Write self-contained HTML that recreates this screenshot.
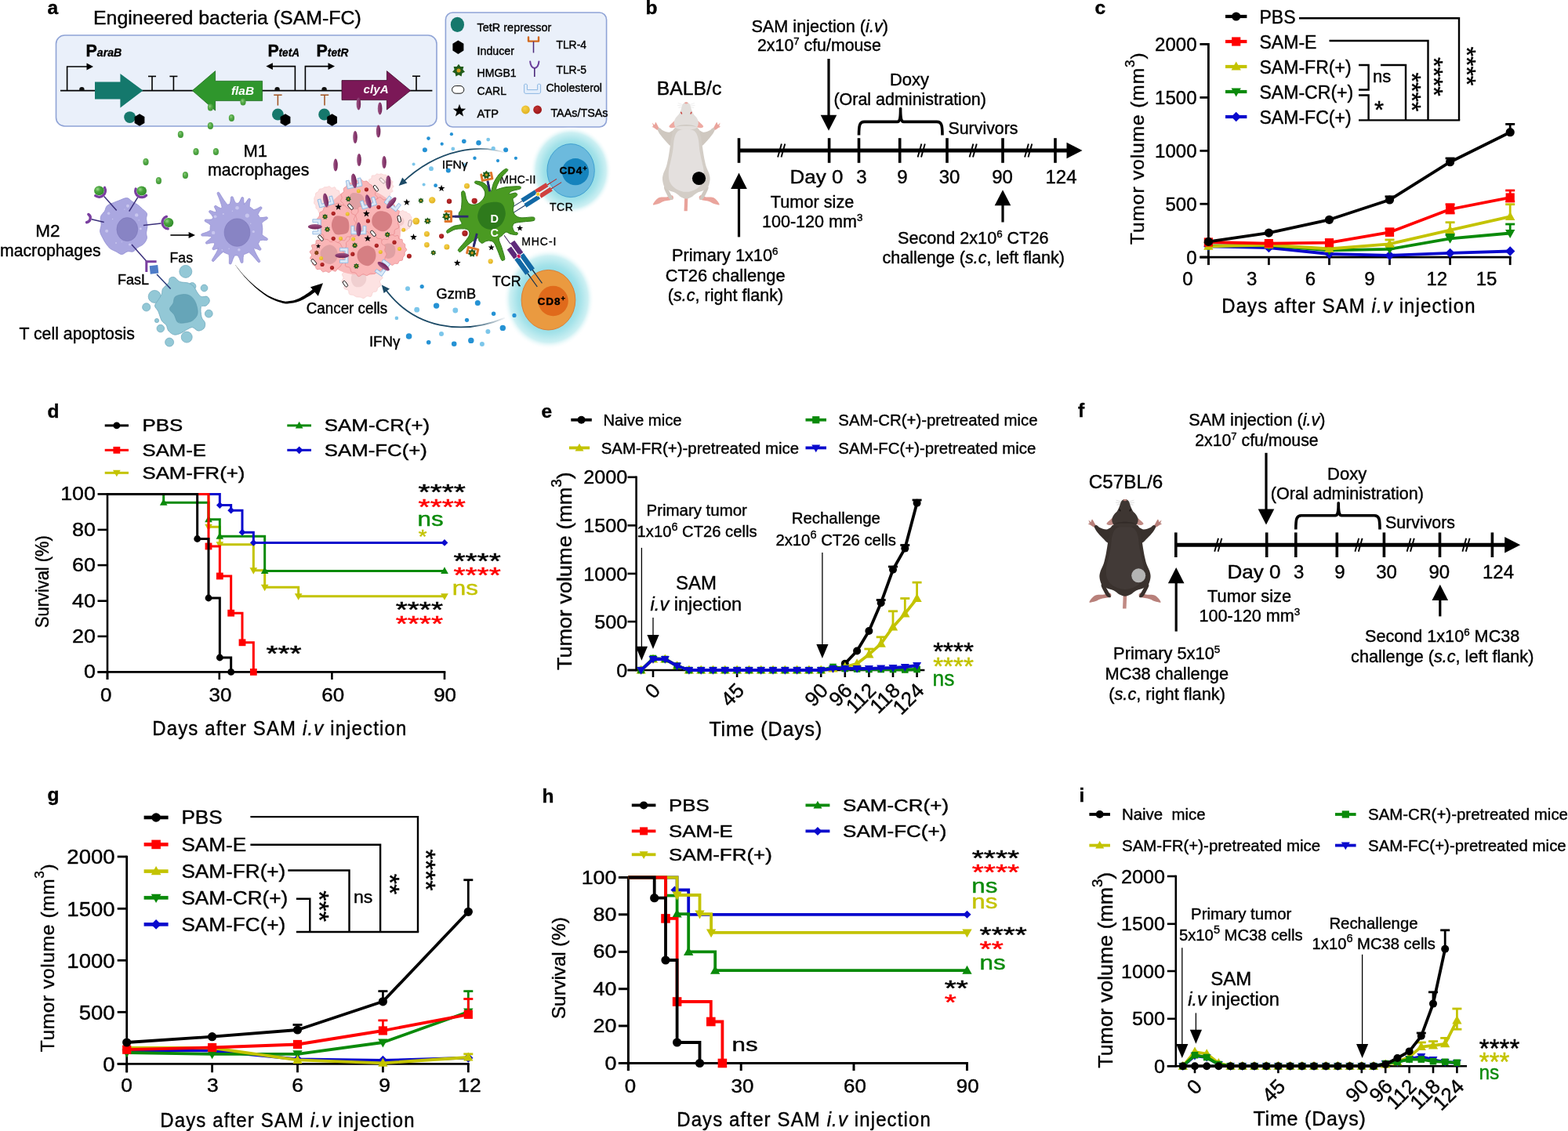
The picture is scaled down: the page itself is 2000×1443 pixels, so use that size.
<!DOCTYPE html>
<html lang="en"><head><meta charset="utf-8"><title>Figure</title>
<style>
html,body{margin:0;padding:0;background:#fff;}
body{width:2000px;height:1443px;overflow:hidden;}
svg{display:block;font-family:"Liberation Sans",sans-serif;}
svg text{white-space:pre;}
</style></head><body>
<svg width="2000" height="1443" viewBox="0 0 2000 1443">
<rect width="2000" height="1443" fill="#fff"/>
<g id="panel_a">
<defs>
<radialGradient id="gGreen" cx="40%" cy="35%" r="65%"><stop offset="0" stop-color="#8fce7e"/><stop offset="0.45" stop-color="#55aa48"/><stop offset="1" stop-color="#3f9636"/></radialGradient>
<radialGradient id="gGreen2" cx="35%" cy="35%" r="70%"><stop offset="0" stop-color="#9ad88a"/><stop offset="0.4" stop-color="#4aa43e"/><stop offset="1" stop-color="#2f8a2a"/></radialGradient>
<linearGradient id="gPurp" x1="0" y1="0" x2="1" y2="0"><stop offset="0" stop-color="#9c5a86"/><stop offset="0.5" stop-color="#8a3a70"/><stop offset="1" stop-color="#6e2456"/></linearGradient>
<radialGradient id="glow4" cx="50%" cy="50%" r="50%"><stop offset="0.5" stop-color="#8bdae4"/><stop offset="0.68" stop-color="#a4e2e9"/><stop offset="0.86" stop-color="#cdf0f3"/><stop offset="1" stop-color="#ffffff" stop-opacity="0"/></radialGradient>
<radialGradient id="gYel" cx="40%" cy="35%" r="65%"><stop offset="0" stop-color="#f6d24a"/><stop offset="1" stop-color="#e0b120"/></radialGradient>
<radialGradient id="gRed" cx="40%" cy="35%" r="65%"><stop offset="0" stop-color="#c03030"/><stop offset="1" stop-color="#9a1618"/></radialGradient>
<linearGradient id="arcU" gradientUnits="userSpaceOnUse" x1="646" y1="195" x2="600" y2="190"><stop offset="0" stop-color="#1c4a66" stop-opacity="0"/><stop offset="1" stop-color="#1c4a66"/></linearGradient>
<linearGradient id="arcL" gradientUnits="userSpaceOnUse" x1="646" y1="405" x2="600" y2="417"><stop offset="0" stop-color="#1c4a66" stop-opacity="0"/><stop offset="1" stop-color="#1c4a66"/></linearGradient>
</defs>
<text transform="translate(60.50 18.40)" font-size="24.5" font-weight="bold" stroke="#000" stroke-width="0.4">a</text>
<text transform="translate(119.00 31.20) scale(1.0210 1)" font-size="24.4" stroke="#000" stroke-width="0.4">Engineered bacteria (SAM-FC)</text>
<rect x="71.5" y="45" width="485.5" height="116" rx="11" fill="#eaf0fa" stroke="#8fa3d6" stroke-width="1.6"/>
<rect x="568.4" y="16" width="205.2" height="146" rx="9" fill="#eaf0fa" stroke="#8fa3d6" stroke-width="1.6"/>
<line x1="77.00" y1="115.60" x2="551.40" y2="115.60" stroke="#000" stroke-width="1.8" />
<polyline points="85.60,115.60 85.60,85.00 113.00,85.00" fill="none" stroke="#000" stroke-width="1.6" stroke-linejoin="miter" />
<polygon points="119.00,85.00 110.50,80.60 110.50,89.40" fill="#000" />
<path d="M101.2,115.6 L101.2,114.1 A3.2,3.2 0 0 1 107.6,114.1 L107.6,115.6 Z" fill="#111" />
<text transform="translate(109.60 72.00)" font-size="21.5" font-weight="bold" stroke="#000" stroke-width="0.4">P</text>
<text transform="translate(123.8 72.0) scale(0.9739 1)" font-size="14.5" font-weight="bold" font-style="italic" stroke="#000" stroke-width="0.3">araB</text>
<polygon points="121.00,104.40 153.40,104.40 153.40,94.00 182.40,115.60 153.40,137.40 153.40,126.60 121.00,126.60" fill="#14786c" />
<line x1="194.00" y1="115.60" x2="194.00" y2="97.40" stroke="#000" stroke-width="1.6" />
<line x1="189.00" y1="97.40" x2="199.00" y2="97.40" stroke="#000" stroke-width="1.6" />
<line x1="221.40" y1="115.60" x2="221.40" y2="97.40" stroke="#000" stroke-width="1.6" />
<line x1="216.40" y1="97.40" x2="226.40" y2="97.40" stroke="#000" stroke-width="1.6" />
<polygon points="245.4,115.6 274.6,90.6 274.6,103.4 334.6,103.4 334.6,128.6 274.6,128.6 274.6,141" fill="#2f962c" stroke="#1f6a1f" stroke-width="0.8"/>
<text x="295" y="120.6" font-size="15.5" font-weight="bold" font-style="italic" fill="#fff" textLength="29" lengthAdjust="spacingAndGlyphs">flaB</text>
<path d="M350.4,115.6 L350.4,114.1 A3.2,3.2 0 0 1 356.8,114.1 L356.8,115.6 Z" fill="#111" />
<text transform="translate(341.40 72.40)" font-size="21.5" font-weight="bold" stroke="#000" stroke-width="0.4">P</text>
<text transform="translate(355.6 72.4) scale(0.9364 1)" font-size="14.5" font-weight="bold" font-style="italic" stroke="#000" stroke-width="0.3">tetA</text>
<polyline points="376.40,115.60 376.40,84.60 345.40,84.60" fill="none" stroke="#000" stroke-width="1.6" stroke-linejoin="miter" />
<polygon points="339.40,84.60 347.90,80.20 347.90,89.00" fill="#000" />
<polyline points="389.40,115.60 389.40,84.60 421.00,84.60" fill="none" stroke="#000" stroke-width="1.6" stroke-linejoin="miter" />
<polygon points="427.00,84.60 418.50,80.20 418.50,89.00" fill="#000" />
<text transform="translate(403.60 72.40)" font-size="21.5" font-weight="bold" stroke="#000" stroke-width="0.4">P</text>
<text transform="translate(417.8 72.4) scale(0.9506 1)" font-size="14.5" font-weight="bold" font-style="italic" stroke="#000" stroke-width="0.3">tetR</text>
<path d="M410.4,115.6 L410.4,114.1 A3.2,3.2 0 0 1 416.8,114.1 L416.8,115.6 Z" fill="#111" />
<polygon points="436,102.6 493.4,102.6 493.4,90.6 523.6,115.6 493.4,140 493.4,127.6 436,127.6" fill="#7b1857" stroke="#3f0c2c" stroke-width="0.8"/>
<text x="463.6" y="119.4" font-size="15.5" font-weight="bold" font-style="italic" fill="#fff" textLength="32" lengthAdjust="spacingAndGlyphs">clyA</text>
<line x1="531.00" y1="115.60" x2="531.00" y2="97.20" stroke="#000" stroke-width="1.6" />
<line x1="526.00" y1="97.20" x2="536.00" y2="97.20" stroke="#000" stroke-width="1.6" />
<line x1="354.40" y1="121.20" x2="354.40" y2="134.60" stroke="#a0521e" stroke-width="1.5" />
<line x1="349.20" y1="121.20" x2="359.60" y2="121.20" stroke="#a0521e" stroke-width="1.5" />
<line x1="414.00" y1="121.20" x2="414.00" y2="134.60" stroke="#a0521e" stroke-width="1.5" />
<line x1="408.80" y1="121.20" x2="419.20" y2="121.20" stroke="#a0521e" stroke-width="1.5" />
<circle cx="165.60" cy="149.60" r="7.4" fill="#16786c" />
<polygon points="178.0,145.2 184.4,149.1 184.4,156.9 178.0,160.8 171.6,156.9 171.6,149.1" fill="#000"/>
<circle cx="354.40" cy="146.00" r="7.4" fill="#16786c" />
<polygon points="364.0,145.2 370.4,149.1 370.4,156.9 364.0,160.8 357.6,156.9 357.6,149.1" fill="#000"/>
<circle cx="413.60" cy="146.00" r="7.4" fill="#16786c" />
<polygon points="423.6,145.2 430.0,149.1 430.0,156.9 423.6,160.8 417.2,156.9 417.2,149.1" fill="#000"/>
<ellipse cx="583.4" cy="31.4" rx="8.6" ry="9.6" fill="#16786c"/>
<text transform="translate(608.60 40.00) scale(0.9902 1)" font-size="14.6" stroke="#000" stroke-width="0.4">TetR repressor</text>
<polygon points="584.4,51.4 591.4,55.8 591.4,64.6 584.4,69.0 577.4,64.6 577.4,55.8" fill="#000"/>
<text transform="translate(608.60 69.60) scale(0.9733 1)" font-size="14.6" stroke="#000" stroke-width="0.4">Inducer</text>
<path d="M674,47.4 L674,52.6 L687,52.6 L687,47.4" fill="none" stroke="#d2691e" stroke-width="2.4" stroke-linejoin="round" stroke-linecap="round"/>
<line x1="680.50" y1="53.00" x2="680.50" y2="67.40" stroke="#4b2a7a" stroke-width="1.5" />
<text transform="translate(709.40 62.40) scale(0.9516 1)" font-size="14.6" stroke="#000" stroke-width="0.4">TLR-4</text>
<polygon points="585.0,81.8 587.4,85.0 591.4,84.9 590.4,88.8 593.0,91.8 589.4,93.5 588.6,97.4 585.0,95.6 581.4,97.4 580.6,93.5 577.0,91.8 579.6,88.8 578.6,84.9 582.6,85.0" fill="#215c1a"/>
<circle cx="585.0" cy="90.0" r="2.5" fill="#d29a1c"/>
<text transform="translate(608.60 98.00) scale(0.9630 1)" font-size="14.6" stroke="#000" stroke-width="0.4">HMGB1</text>
<path d="M676.2,78.4 C676.6,84 678.6,86.4 681.8,87 C685,86.4 687,84 687.4,78.4" fill="none" stroke="#6a3d9a" stroke-width="2.0" stroke-linecap="round"/>
<line x1="681.80" y1="87.00" x2="681.80" y2="98.00" stroke="#4b2a7a" stroke-width="1.6" />
<text transform="translate(709.40 94.40) scale(0.9516 1)" font-size="14.6" stroke="#000" stroke-width="0.4">TLR-5</text>
<rect x="576.6" y="109.6" width="15.2" height="9.6" rx="4.8" fill="#fff" stroke="#111" stroke-width="1"/>
<text transform="translate(608.60 121.40) scale(0.9603 1)" font-size="14.6" stroke="#000" stroke-width="0.4">CARL</text>
<path d="M668.6,108 C668.6,107 672.4,107 672.4,108 L672.4,114.6 L685.6,114.6 L685.6,108 C685.6,107 689.6,107 689.6,108 L689.6,117 C689.6,118.6 688.6,119.4 687.4,119.4 L670.8,119.4 C669.4,119.4 668.6,118.6 668.6,117 Z" fill="#e3eefb" stroke="#8db7e2" stroke-width="1" />
<text transform="translate(696.40 116.60) scale(0.9695 1)" font-size="14.6" stroke="#000" stroke-width="0.4">Cholesterol</text>
<polygon points="586.0,132.8 588.1,138.5 594.2,138.7 589.4,142.5 591.1,148.4 586.0,145.0 580.9,148.4 582.6,142.5 577.8,138.7 583.9,138.5" fill="#000"/>
<text transform="translate(608.60 150.00) scale(1.0033 1)" font-size="14.6" stroke="#000" stroke-width="0.4">ATP</text>
<circle cx="670.4" cy="140" r="5.4" fill="url(#gYel)"/><circle cx="685.6" cy="140" r="5.4" fill="url(#gRed)"/>
<text transform="translate(702.40 149.00) scale(0.9844 1)" font-size="14.6" stroke="#000" stroke-width="0.4">TAAs/TSAs</text>
<ellipse cx="310.0" cy="130.0" rx="3.6" ry="4.5" fill="url(#gGreen)"/>
<ellipse cx="268.4" cy="137.0" rx="3.6" ry="4.5" fill="url(#gGreen)"/>
<ellipse cx="295.4" cy="150.4" rx="3.6" ry="4.5" fill="url(#gGreen)"/>
<ellipse cx="268.4" cy="160.6" rx="3.6" ry="4.5" fill="url(#gGreen)"/>
<ellipse cx="230.4" cy="171.4" rx="3.6" ry="4.5" fill="url(#gGreen)"/>
<ellipse cx="250.0" cy="193.6" rx="3.6" ry="4.5" fill="url(#gGreen)"/>
<ellipse cx="275.4" cy="193.6" rx="3.6" ry="4.5" fill="url(#gGreen)"/>
<ellipse cx="186.0" cy="206.4" rx="3.6" ry="4.5" fill="url(#gGreen)"/>
<ellipse cx="236.4" cy="223.6" rx="3.6" ry="4.5" fill="url(#gGreen)"/>
<ellipse cx="202.4" cy="230.6" rx="3.6" ry="4.5" fill="url(#gGreen)"/>
<ellipse cx="457.4" cy="132.4" rx="2.8" ry="8" fill="url(#gPurp)" transform="rotate(0 457.4 132.4)"/>
<ellipse cx="484.6" cy="138.4" rx="2.8" ry="8" fill="url(#gPurp)" transform="rotate(0 484.6 138.4)"/>
<ellipse cx="453.0" cy="175.0" rx="2.8" ry="8" fill="url(#gPurp)" transform="rotate(0 453.0 175.0)"/>
<ellipse cx="482.6" cy="167.6" rx="2.8" ry="8" fill="url(#gPurp)" transform="rotate(0 482.6 167.6)"/>
<ellipse cx="428.0" cy="210.6" rx="2.8" ry="8" fill="url(#gPurp)" transform="rotate(0 428.0 210.6)"/>
<ellipse cx="458.0" cy="204.0" rx="2.8" ry="8" fill="url(#gPurp)" transform="rotate(0 458.0 204.0)"/>
<ellipse cx="490.0" cy="207.0" rx="2.8" ry="8" fill="url(#gPurp)" transform="rotate(0 490.0 207.0)"/>
<text transform="translate(310.42 199.60)" font-size="22" stroke="#000" stroke-width="0.4">M1</text>
<text transform="translate(265.00 224.00) scale(0.9707 1)" font-size="22" stroke="#000" stroke-width="0.4">macrophages</text>
<text transform="translate(45.37 302.00)" font-size="22.5" stroke="#000" stroke-width="0.4">M2</text>
<text transform="translate(0.00 327.00) scale(0.9647 1)" font-size="22" stroke="#000" stroke-width="0.4">macrophages</text>
<text transform="translate(216.60 335.00) scale(0.9282 1)" font-size="19" stroke="#000" stroke-width="0.4">Fas</text>
<text transform="translate(150.00 363.00) scale(0.9470 1)" font-size="19" stroke="#000" stroke-width="0.4">FasL</text>
<text transform="translate(24.40 433.00) scale(0.9907 1)" font-size="21.5" stroke="#000" stroke-width="0.4">T cell apoptosis</text>
<path d="M161.8,252.6 C164.7,252.7 166.1,255.5 168.4,256.9 C170.7,258.4 173.5,259.7 175.7,261.3 C177.8,262.9 179.5,264.6 181.5,266.4 C183.4,268.2 186.4,270.0 187.3,272.2 C188.1,274.4 186.4,276.8 186.6,279.5 C186.7,282.1 188.0,285.3 188.0,288.2 C188.0,291.1 186.7,294.3 186.6,296.9 C186.4,299.6 187.9,301.8 187.3,304.2 C186.7,306.6 184.9,309.5 182.9,311.5 C181.0,313.4 177.8,314.3 175.7,315.8 C173.5,317.4 172.0,320.1 169.8,320.9 C167.7,321.8 165.0,320.3 162.6,320.9 C160.1,321.5 157.7,324.6 155.3,324.6 C152.9,324.6 150.4,322.1 148.0,320.9 C145.6,319.7 142.8,318.9 140.7,317.3 C138.7,315.7 137.2,313.7 135.6,311.5 C134.1,309.3 132.6,306.9 131.3,304.2 C129.9,301.5 128.0,298.4 127.6,295.5 C127.3,292.6 129.0,289.9 129.1,286.7 C129.2,283.6 127.6,279.5 128.4,276.6 C129.1,273.6 132.1,271.6 133.5,269.3 C134.8,267.0 134.7,264.4 136.4,262.7 C138.1,261.0 141.2,260.2 143.6,259.1 C146.1,258.0 147.9,257.3 150.9,256.2 C154.0,255.1 158.9,252.4 161.8,252.6Z" fill="#aaa7e0" stroke="#918dd2" stroke-width="0.8" />
<circle cx="163.0" cy="262.7" r="2.0" fill="#c8c6ee"/>
<circle cx="138.6" cy="272.2" r="1.7" fill="#c8c6ee"/>
<circle cx="174.2" cy="274.4" r="2.2" fill="#c8c6ee"/>
<circle cx="136.1" cy="294.7" r="2.0" fill="#c8c6ee"/>
<circle cx="179.3" cy="291.8" r="1.5" fill="#c8c6ee"/>
<circle cx="165.5" cy="311.9" r="1.5" fill="#c8c6ee"/>
<circle cx="143.6" cy="279.5" r="0.7" fill="#c8c6ee"/>
<circle cx="177.1" cy="280.9" r="0.7" fill="#c8c6ee"/>
<circle cx="148.0" cy="310.0" r="0.9" fill="#c8c6ee"/>
<circle cx="155.3" cy="308.6" r="0.6" fill="#c8c6ee"/>
<circle cx="158.9" cy="267.1" r="0.7" fill="#c8c6ee"/>
<ellipse cx="162.3" cy="292.6" rx="13.4" ry="15" fill="#8884c4" stroke="#7a76b8" stroke-width="0.6"/>
<line x1="148.70" y1="268.60" x2="132.70" y2="250.40" stroke="#3a2f7a" stroke-width="1.5" />
<path d="M133.4,239.4 A8.0,8.0 0 0 1 121.7,249.7" fill="none" stroke="#7a3fa0" stroke-width="3.4" stroke-linecap="round"/>
<ellipse cx="126.4" cy="243.2" rx="6.3" ry="6" fill="url(#gGreen2)"/>
<line x1="164.70" y1="269.60" x2="175.70" y2="251.80" stroke="#3a2f7a" stroke-width="1.5" />
<path d="M186.5,249.2 A8.0,8.0 0 0 1 173.2,241.0" fill="none" stroke="#7a3fa0" stroke-width="3.4" stroke-linecap="round"/>
<ellipse cx="180.7" cy="243.6" rx="6.3" ry="6" fill="url(#gGreen2)"/>
<line x1="132.70" y1="283.50" x2="116.70" y2="279.80" stroke="#3a2f7a" stroke-width="1.5" />
<path d="M112.8,273.5 A5.6,5.6 0 0 1 110.5,283.7" fill="none" stroke="#7a3fa0" stroke-width="3.4" stroke-linecap="round"/>
<line x1="182.90" y1="287.50" x2="205.50" y2="285.00" stroke="#3a2f7a" stroke-width="1.5" />
<path d="M214.2,291.9 A8.0,8.0 0 0 1 212.4,276.4" fill="none" stroke="#7a3fa0" stroke-width="3.4" stroke-linecap="round"/>
<ellipse cx="215.0" cy="283.9" rx="6.3" ry="6" fill="url(#gGreen2)"/>
<line x1="168.00" y1="312.00" x2="187.00" y2="333.50" stroke="#3a2f7a" stroke-width="1.5" />
<path d="M199.6,333.8 L186.8,333.8 L186.8,347" fill="none" stroke="#7a3fa0" stroke-width="3" />
<rect x="191.2" y="338.6" width="10.6" height="10.6" fill="#4f7dc8" transform="rotate(-6 196.5 344)"/>
<line x1="217.40" y1="300.00" x2="241.00" y2="300.00" stroke="#000" stroke-width="1.6" />
<polygon points="249.00,300.00 240.60,296.00 240.60,304.00" fill="#000" />
<path d="M283.2,264.6 Q281.9,258.5 277.1,247.3 A1.50,1.50 0 0 1 279.8,246.0 Q285.9,256.5 290.1,261.2 A33.4,33.4 0 0 1 293.1,260.3 Q294.3,257.1 294.4,252.1 A1.50,1.50 0 0 1 297.3,251.7 Q298.8,256.5 300.7,259.2 A33.4,33.4 0 0 1 304.1,259.3 Q306.1,256.9 307.7,252.8 A1.50,1.50 0 0 1 310.7,253.3 Q310.6,257.8 311.6,260.8 A33.4,33.4 0 0 1 311.2,260.6 Q313.8,258.5 316.5,254.1 A1.50,1.50 0 0 1 319.3,255.3 Q317.9,260.3 318.2,263.7 A33.4,33.4 0 0 1 323.9,267.8 Q327.3,267.0 331.7,264.1 A1.50,1.50 0 0 1 333.7,266.3 Q330.2,270.3 329.0,273.6 A33.4,33.4 0 0 1 331.3,277.4 Q334.6,277.9 339.6,276.8 A1.50,1.50 0 0 1 340.6,279.6 Q336.2,282.1 333.9,284.6 A33.4,33.4 0 0 1 334.2,299.3 Q336.4,301.6 340.6,303.8 A1.50,1.50 0 0 1 339.6,306.6 Q335.0,305.9 331.8,306.6 A33.4,33.4 0 0 1 329.4,310.9 Q330.3,313.7 332.6,316.7 A1.50,1.50 0 0 1 330.7,319.0 Q327.4,317.2 324.5,316.8 A33.4,33.4 0 0 1 323.8,317.5 Q325.8,323.0 331.7,332.7 A1.50,1.50 0 0 1 329.3,334.4 Q322.1,325.6 317.5,321.9 A33.4,33.4 0 0 1 310.8,324.7 Q309.8,328.1 310.0,333.8 A1.50,1.50 0 0 1 307.0,334.3 Q305.4,328.9 303.3,326.0 A33.4,33.4 0 0 1 299.4,325.9 Q297.2,329.3 295.3,335.8 A1.50,1.50 0 0 1 292.3,335.2 Q292.7,328.5 291.9,324.6 A33.4,33.4 0 0 1 284.6,321.4 Q280.1,324.9 273.0,333.0 A1.50,1.50 0 0 1 270.6,331.2 Q276.5,322.2 278.5,316.8 A33.4,33.4 0 0 1 278.7,317.0 Q276.0,317.2 273.1,318.6 A1.50,1.50 0 0 1 271.2,316.4 Q273.1,313.8 273.7,311.1 A33.4,33.4 0 0 1 272.8,309.7 Q269.3,309.6 264.2,311.1 A1.50,1.50 0 0 1 263.0,308.4 Q267.5,305.5 269.7,302.8 A33.4,33.4 0 0 1 269.4,301.7 Q265.2,300.8 258.1,301.1 A1.50,1.50 0 0 1 257.6,298.2 Q264.5,296.3 268.1,294.1 A33.4,33.4 0 0 1 268.5,287.2 Q266.2,284.9 261.8,282.8 A1.50,1.50 0 0 1 262.6,280.0 Q267.4,280.5 270.6,279.8 A33.4,33.4 0 0 1 271.8,277.2 Q270.4,274.3 267.0,271.1 A1.50,1.50 0 0 1 268.7,268.7 Q272.9,270.6 276.1,270.9 A33.4,33.4 0 0 1 276.1,270.9 Q275.7,268.0 273.8,264.9 A1.50,1.50 0 0 1 276.0,262.8 Q279.0,265.0 281.8,265.7 A33.4,33.4 0 0 1 283.2,264.6Z" fill="#aaa7e0" stroke="#9792d4" stroke-width="0.8" stroke-linejoin="round"/>
<circle cx="302.5" cy="265.2" r="2.3" fill="#c8c6ee"/>
<circle cx="315.3" cy="275.1" r="2.6" fill="#c8c6ee"/>
<circle cx="274.6" cy="276.3" r="1.9" fill="#c8c6ee"/>
<circle cx="272.1" cy="296.9" r="2.2" fill="#c8c6ee"/>
<circle cx="323.3" cy="295.5" r="1.6" fill="#c8c6ee"/>
<circle cx="304.9" cy="318.8" r="1.7" fill="#c8c6ee"/>
<circle cx="284.8" cy="272.9" r="1.0" fill="#c8c6ee"/>
<circle cx="296.4" cy="269.3" r="0.7" fill="#c8c6ee"/>
<circle cx="283.3" cy="318.8" r="0.9" fill="#c8c6ee"/>
<circle cx="292.1" cy="317.3" r="0.7" fill="#c8c6ee"/>
<circle cx="319.7" cy="285.3" r="0.7" fill="#c8c6ee"/>
<ellipse cx="302.5" cy="296.6" rx="16.4" ry="17.7" fill="#8884c4" stroke="#7a76b8" stroke-width="0.6"/>
<circle cx="236.8" cy="346.4" r="8.0" fill="#93c8d6" stroke="#6ea8bc" stroke-width="0.7"/>
<circle cx="197.2" cy="378.4" r="8.0" fill="#93c8d6" stroke="#6ea8bc" stroke-width="0.7"/>
<circle cx="186.7" cy="391.9" r="5.1" fill="#93c8d6" stroke="#6ea8bc" stroke-width="0.7"/>
<circle cx="260.5" cy="367.5" r="4.4" fill="#93c8d6" stroke="#6ea8bc" stroke-width="0.7"/>
<circle cx="245.2" cy="365.3" r="4.7" fill="#93c8d6" stroke="#6ea8bc" stroke-width="0.7"/>
<circle cx="266.3" cy="400.2" r="4.9" fill="#93c8d6" stroke="#6ea8bc" stroke-width="0.7"/>
<circle cx="200.0" cy="409.0" r="2.6" fill="#93c8d6" stroke="#6ea8bc" stroke-width="0.7"/>
<circle cx="204.8" cy="419.1" r="4.8" fill="#93c8d6" stroke="#6ea8bc" stroke-width="0.7"/>
<circle cx="238.2" cy="430.1" r="7.0" fill="#93c8d6" stroke="#6ea8bc" stroke-width="0.7"/>
<circle cx="216.1" cy="436.6" r="5.5" fill="#93c8d6" stroke="#6ea8bc" stroke-width="0.7"/>
<path d="M222.2,353.7 C224.4,354.4 226.6,358.3 229.5,359.5 C232.4,360.7 236.8,360.0 239.7,360.9 C242.6,361.9 245.0,363.4 247.0,365.3 C248.9,367.3 249.7,370.4 251.3,372.6 C252.9,374.8 254.2,377.4 256.4,378.4 C258.6,379.4 262.6,377.4 264.4,378.4 C266.2,379.4 267.6,382.3 267.3,384.2 C267.1,386.2 264.8,388.8 263.0,390.0 C261.1,391.3 257.4,389.1 256.4,391.5 C255.4,393.9 256.3,401.2 257.1,404.6 C258.0,408.0 261.0,409.4 261.5,411.9 C262.0,414.3 261.5,417.4 260.0,419.1 C258.6,420.8 255.2,422.3 252.8,422.1 C250.3,421.8 247.9,417.9 245.5,417.7 C243.1,417.4 240.6,419.4 238.2,420.6 C235.8,421.8 233.6,423.9 230.9,425.0 C228.3,426.1 224.9,427.6 222.2,427.1 C219.5,426.7 216.6,424.1 214.9,422.1 C213.2,420.0 213.5,417.0 212.0,414.8 C210.6,412.6 207.9,411.9 206.2,409.0 C204.5,406.1 203.3,400.5 201.8,397.3 C200.4,394.2 197.5,392.5 197.5,390.0 C197.5,387.6 200.4,385.2 201.8,382.8 C203.3,380.3 205.2,377.9 206.2,375.5 C207.2,373.1 206.2,370.6 207.7,368.2 C209.1,365.8 213.5,363.1 214.9,360.9 C216.4,358.8 215.2,356.3 216.4,355.1 C217.6,353.9 220.0,352.9 222.2,353.7Z" fill="#93c8d6" stroke="#6ea8bc" stroke-width="0.8" />
<path d="M235.3,375.5 C238.7,375.5 241.6,376.5 244.0,378.4 C246.5,380.3 248.5,383.5 249.9,387.1 C251.2,390.8 252.8,396.6 252.0,400.2 C251.3,403.9 248.3,407.0 245.5,409.0 C242.7,410.9 238.5,411.5 235.3,411.9 C232.2,412.2 228.8,412.8 226.6,411.1 C224.4,409.4 223.9,404.5 222.2,401.7 C220.5,398.9 216.6,396.8 216.4,394.4 C216.2,392.0 219.5,389.8 220.8,387.1 C222.0,384.5 221.2,380.3 223.7,378.4 C226.1,376.5 231.9,375.5 235.3,375.5Z" fill="#66a5b8" stroke="#5a98ac" stroke-width="0.6" />
<line x1="200.00" y1="350.00" x2="217.60" y2="368.60" stroke="#2a3a7a" stroke-width="1.5" />
<polygon points="300.30,338.48 301.50,340.04 303.12,342.20 305.05,344.76 307.20,347.55 309.48,350.36 311.77,353.01 314.16,355.58 316.72,358.25 319.41,360.93 322.15,363.58 324.90,366.13 327.59,368.49 330.24,370.70 332.88,372.82 335.53,374.84 338.19,376.72 340.86,378.47 343.54,380.06 346.33,381.51 349.22,382.80 352.11,383.95 354.89,384.94 357.44,385.78 359.66,386.46 361.45,386.96 362.90,387.27 364.18,387.43 365.39,387.45 366.66,387.38 368.16,387.26 369.97,387.09 371.96,386.84 374.07,386.50 376.25,386.06 378.45,385.50 380.61,384.82 382.76,383.97 384.94,382.98 387.10,381.88 389.19,380.74 391.19,379.61 393.07,378.52 394.93,377.38 396.78,376.16 398.54,374.95 400.10,373.83 401.40,372.90 402.35,372.23 399.65,368.57 398.71,369.29 397.45,370.29 395.96,371.45 394.33,372.70 392.63,373.93 390.93,375.08 389.15,376.22 387.25,377.41 385.28,378.59 383.28,379.72 381.31,380.73 379.39,381.58 377.46,382.28 375.46,382.88 373.43,383.38 371.45,383.78 369.57,384.10 367.84,384.34 366.40,384.51 365.28,384.62 364.32,384.64 363.32,384.56 362.05,384.34 360.34,383.94 358.16,383.36 355.63,382.64 352.89,381.78 350.04,380.77 347.19,379.62 344.46,378.34 341.81,376.89 339.14,375.28 336.47,373.51 333.79,371.62 331.10,369.61 328.41,367.51 325.66,365.25 322.86,362.82 320.04,360.27 317.29,357.67 314.67,355.09 312.23,352.59 309.88,350.01 307.55,347.27 305.35,344.54 303.37,342.01 301.72,339.88 300.50,338.32" fill="#000" />
<polygon points="412.00,361.20 396.00,366.20 405.80,377.80" fill="#000" />
<text transform="translate(390.80 400.30) scale(0.9638 1)" font-size="19.5" stroke="#000" stroke-width="0.4">Cancer cells</text>
<g opacity="1.0">
<path d="M436.7,256.0 C436.7,257.1 435.5,258.1 435.3,259.1 C435.1,260.2 435.9,261.6 435.5,262.6 C435.1,263.6 433.7,264.1 433.2,265.1 C432.7,266.1 433.2,268.0 432.4,268.7 C431.7,269.4 429.7,269.0 428.7,269.6 C427.7,270.1 427.4,271.5 426.4,271.9 C425.5,272.4 424.1,271.8 423.1,272.2 C422.1,272.6 421.2,274.0 420.2,274.2 C419.2,274.3 418.0,273.4 416.9,273.3 C415.8,273.1 414.5,273.7 413.6,273.3 C412.6,272.8 412.3,271.0 411.2,270.7 C410.1,270.4 407.8,271.8 406.9,271.4 C406.0,270.9 406.3,268.7 405.6,267.7 C405.0,266.8 403.4,266.6 403.0,265.6 C402.5,264.7 403.3,263.1 402.9,262.1 C402.5,261.0 400.9,260.4 400.6,259.3 C400.3,258.3 401.0,257.1 401.0,256.0 C401.0,254.9 400.5,253.7 400.8,252.7 C401.0,251.6 402.0,250.8 402.3,249.7 C402.7,248.7 402.3,247.2 402.9,246.3 C403.5,245.5 405.2,245.4 406.0,244.6 C406.7,243.8 406.6,241.9 407.4,241.3 C408.2,240.7 409.9,241.2 410.9,240.8 C412.0,240.4 412.7,239.3 413.6,238.9 C414.6,238.6 415.8,238.9 416.9,238.7 C418.0,238.5 419.2,237.5 420.2,237.7 C421.2,237.9 421.9,239.8 423.1,240.0 C424.2,240.2 426.1,238.3 427.1,238.7 C428.1,239.1 428.0,241.4 428.9,242.2 C429.8,243.0 431.7,242.5 432.4,243.3 C433.1,244.1 432.7,245.9 433.2,246.9 C433.6,248.0 434.9,248.5 435.3,249.5 C435.7,250.5 435.3,251.7 435.6,252.8 C435.8,253.9 436.7,254.9 436.7,256.0Z" fill="#fde2e2" stroke="#f8cfcf" stroke-width="0.8" />
</g>
<g opacity="1.0">
<path d="M502.1,238.0 C502.1,238.9 499.9,239.7 499.7,240.8 C499.6,241.8 501.4,243.4 501.0,244.2 C500.7,245.1 498.4,245.1 497.8,246.0 C497.3,246.8 498.1,248.6 497.5,249.4 C497.0,250.2 495.4,250.1 494.6,250.7 C493.8,251.3 493.4,252.8 492.5,253.1 C491.6,253.5 490.2,252.4 489.2,252.7 C488.2,253.1 487.5,255.1 486.6,255.2 C485.7,255.4 484.6,253.7 483.5,253.7 C482.5,253.6 481.1,255.2 480.2,254.8 C479.3,254.5 479.2,251.9 478.3,251.5 C477.4,251.0 475.3,252.4 474.5,251.9 C473.8,251.3 474.3,249.2 473.7,248.3 C473.0,247.5 471.3,247.6 470.7,246.8 C470.2,246.1 470.9,244.6 470.4,243.6 C469.9,242.7 468.0,242.2 467.8,241.2 C467.5,240.3 468.9,239.1 469.0,238.0 C469.1,236.9 468.0,235.8 468.2,234.9 C468.4,233.9 470.0,233.3 470.4,232.3 C470.8,231.4 470.1,229.9 470.6,229.1 C471.1,228.3 473.0,228.5 473.7,227.7 C474.3,226.8 473.7,224.7 474.5,224.0 C475.2,223.4 477.0,224.3 478.0,224.0 C479.0,223.6 479.5,222.2 480.4,221.9 C481.3,221.7 482.5,222.4 483.6,222.4 C484.6,222.4 485.5,221.7 486.5,221.8 C487.4,221.9 488.3,222.8 489.3,223.0 C490.2,223.2 491.6,222.7 492.4,223.1 C493.3,223.5 493.5,225.0 494.4,225.6 C495.2,226.2 496.8,226.0 497.4,226.7 C498.1,227.3 497.7,228.9 498.3,229.7 C498.9,230.6 500.7,230.9 501.0,231.8 C501.3,232.7 499.9,234.1 500.1,235.2 C500.3,236.2 502.2,237.1 502.1,238.0Z" fill="#fde2e2" stroke="#f8cfcf" stroke-width="0.8" />
</g>
<g opacity="1.0">
<path d="M526.8,282.0 C526.9,282.8 525.5,283.6 525.2,284.4 C524.9,285.2 525.3,286.1 525.0,286.8 C524.7,287.5 523.6,287.9 523.2,288.6 C522.7,289.3 523.0,290.6 522.5,291.1 C522.0,291.7 520.6,291.3 519.9,291.8 C519.3,292.3 519.2,293.7 518.5,294.1 C517.9,294.5 516.7,293.9 515.9,294.1 C515.1,294.2 514.5,294.9 513.7,295.0 C512.9,295.1 512.1,294.7 511.3,294.7 C510.5,294.8 509.5,295.3 508.8,295.1 C508.0,294.9 507.5,293.9 506.8,293.5 C506.1,293.1 505.1,293.1 504.5,292.7 C503.8,292.2 503.6,291.2 503.0,290.7 C502.4,290.1 501.1,290.0 500.7,289.3 C500.3,288.6 501.0,287.4 500.6,286.6 C500.3,285.8 498.8,285.3 498.7,284.6 C498.5,283.8 499.6,282.8 499.7,282.0 C499.7,281.2 498.9,280.3 499.1,279.5 C499.2,278.7 500.3,278.1 500.6,277.4 C501.0,276.6 500.7,275.6 501.2,275.0 C501.6,274.3 502.7,274.2 503.2,273.5 C503.7,272.8 503.5,271.3 504.1,270.9 C504.7,270.4 506.1,271.1 506.9,270.8 C507.7,270.4 508.0,269.0 508.8,268.9 C509.5,268.7 510.5,269.8 511.4,269.7 C512.2,269.6 513.0,268.3 513.8,268.3 C514.5,268.4 515.1,269.8 515.9,270.1 C516.6,270.4 517.7,269.9 518.4,270.2 C519.0,270.6 519.2,271.8 519.9,272.3 C520.5,272.7 521.9,272.4 522.5,272.9 C523.1,273.4 523.0,274.5 523.5,275.2 C523.9,275.9 524.9,276.4 525.1,277.1 C525.3,277.9 524.4,278.9 524.7,279.7 C525.0,280.5 526.8,281.2 526.8,282.0Z" fill="#fde2e2" stroke="#f8cfcf" stroke-width="0.8" />
<path d="M515.5,283.0 C515.5,284.3 514.8,285.7 514.1,286.6 C513.3,287.5 512.0,288.0 510.9,288.3 C509.7,288.5 508.2,288.7 507.2,288.1 C506.2,287.6 505.4,286.1 505.1,284.9 C504.7,283.7 504.7,282.2 505.0,281.1 C505.4,280.0 506.3,278.7 507.3,278.1 C508.3,277.4 509.8,277.0 511.0,277.2 C512.2,277.3 513.8,278.0 514.5,279.0 C515.3,280.0 515.6,281.7 515.5,283.0Z" fill="#f3cccc" />
</g>
<g opacity="1.0">
<path d="M488.1,354.5 C487.8,356.0 484.7,357.2 484.3,358.8 C484.0,360.4 486.5,362.6 486.1,364.0 C485.7,365.4 482.9,365.9 481.9,367.2 C481.0,368.4 481.4,370.7 480.3,371.6 C479.2,372.6 476.6,371.9 475.5,373.0 C474.3,374.1 474.5,377.4 473.3,378.2 C472.1,379.0 469.7,377.4 468.1,377.8 C466.6,378.2 465.4,380.3 463.9,380.5 C462.4,380.7 460.8,379.3 459.2,379.0 C457.7,378.7 456.0,379.2 454.6,378.8 C453.2,378.4 452.0,377.0 450.6,376.5 C449.1,375.9 446.8,376.4 445.7,375.4 C444.6,374.4 445.3,371.5 444.2,370.3 C443.1,369.1 440.1,369.5 439.2,368.3 C438.4,367.1 439.5,364.7 438.9,363.2 C438.4,361.7 436.0,360.7 435.9,359.3 C435.7,357.8 437.9,356.1 438.0,354.5 C438.1,352.9 436.1,351.2 436.4,349.8 C436.6,348.4 439.2,347.6 439.5,346.0 C439.9,344.4 437.8,341.5 438.6,340.3 C439.4,339.1 443.0,339.8 444.2,338.7 C445.4,337.6 444.6,334.5 445.8,333.7 C447.0,332.9 449.8,334.6 451.2,333.8 C452.6,333.1 452.9,329.7 454.3,329.1 C455.6,328.5 457.6,330.6 459.3,330.3 C460.9,330.1 462.6,327.3 464.0,327.6 C465.4,327.8 466.3,331.5 467.9,332.0 C469.5,332.5 472.2,329.9 473.4,330.6 C474.7,331.3 474.3,335.0 475.4,336.1 C476.6,337.2 479.4,336.3 480.3,337.3 C481.3,338.4 480.3,341.0 481.2,342.3 C482.1,343.6 485.0,343.8 485.7,345.1 C486.5,346.4 485.2,348.4 485.6,350.0 C486.0,351.6 488.3,353.0 488.1,354.5Z" fill="#fde2e2" stroke="#f8cfcf" stroke-width="0.8" />
<path d="M467.3,355.4 C467.3,357.6 466.5,360.3 465.1,362.0 C463.8,363.8 461.6,365.5 459.4,366.1 C457.2,366.6 454.0,366.4 452.2,365.2 C450.3,364.0 448.9,361.2 448.3,359.0 C447.7,356.7 447.6,354.0 448.3,351.9 C449.1,349.7 450.7,347.6 452.6,346.3 C454.4,345.0 457.4,343.7 459.5,344.1 C461.6,344.5 463.9,346.8 465.2,348.7 C466.5,350.6 467.3,353.2 467.3,355.4Z" fill="#f0cfd0" />
</g>
<path d="M510.9,296.0 C511.0,303.0 509.3,310.8 506.7,317.3 C504.0,323.7 499.5,329.5 495.0,334.7 C490.4,340.0 485.3,346.3 479.3,348.9 C473.3,351.5 465.7,350.5 459.0,350.3 C452.3,350.2 445.4,350.0 439.1,347.7 C432.8,345.4 425.8,341.7 421.4,336.5 C416.9,331.4 414.6,323.6 412.2,316.9 C409.7,310.1 407.1,303.1 406.8,296.0 C406.6,288.9 407.9,280.8 410.6,274.4 C413.4,268.0 418.5,262.5 423.2,257.5 C428.0,252.5 433.3,247.7 439.2,244.6 C445.2,241.6 452.4,239.4 459.0,239.3 C465.6,239.3 472.6,241.7 478.8,244.4 C485.1,247.2 491.7,250.8 496.3,255.9 C500.8,261.0 503.6,268.3 506.1,275.0 C508.5,281.7 510.8,289.0 510.9,296.0Z" fill="#f9b9ba" />
<g opacity="1.0">
<path d="M518.7,318.7 C518.7,319.8 516.7,320.9 516.2,322.0 C515.8,323.1 516.5,324.5 516.2,325.5 C515.8,326.5 514.5,327.2 514.0,328.3 C513.5,329.3 513.9,331.2 513.2,332.0 C512.4,332.7 510.3,332.2 509.3,332.9 C508.4,333.6 508.3,335.7 507.4,336.3 C506.4,336.9 504.8,336.0 503.6,336.3 C502.5,336.7 501.5,338.3 500.4,338.4 C499.3,338.4 498.1,336.8 496.9,336.6 C495.7,336.5 494.3,337.8 493.3,337.5 C492.2,337.2 491.7,335.3 490.6,334.8 C489.5,334.3 487.6,335.1 486.7,334.4 C485.8,333.8 485.9,331.9 485.1,331.0 C484.2,330.2 482.1,330.2 481.6,329.2 C481.1,328.3 482.4,326.3 482.1,325.1 C481.7,323.9 480.0,323.3 479.7,322.2 C479.4,321.2 480.3,319.9 480.3,318.7 C480.3,317.5 479.5,316.2 479.8,315.2 C480.1,314.1 481.9,313.5 482.2,312.4 C482.6,311.2 481.5,309.4 482.0,308.4 C482.4,307.4 484.1,307.1 484.9,306.2 C485.7,305.4 486.0,303.8 486.9,303.2 C487.8,302.6 489.5,303.0 490.5,302.5 C491.6,301.9 492.1,300.1 493.2,299.8 C494.3,299.4 495.7,300.4 496.9,300.3 C498.1,300.2 499.3,299.0 500.4,299.1 C501.5,299.3 502.4,301.0 503.6,301.2 C504.8,301.4 506.7,299.9 507.6,300.5 C508.6,301.2 508.2,304.0 509.1,304.9 C509.9,305.7 512.2,304.9 513.0,305.6 C513.7,306.4 513.0,308.4 513.6,309.4 C514.3,310.4 516.1,310.7 516.6,311.7 C517.1,312.7 516.4,314.2 516.7,315.3 C517.1,316.5 518.8,317.6 518.7,318.7Z" fill="#fab5b6" stroke="#e98a8e" stroke-width="0.8" />
<path d="M504.3,319.8 C504.3,322.0 503.9,324.7 502.7,326.3 C501.5,328.0 499.0,329.4 497.0,329.8 C494.9,330.2 492.0,330.0 490.3,328.8 C488.7,327.7 487.5,325.0 486.9,323.0 C486.3,321.0 486.2,318.4 486.8,316.6 C487.5,314.7 489.2,312.7 490.9,311.7 C492.5,310.7 494.9,310.3 496.9,310.5 C498.8,310.8 501.5,311.7 502.8,313.2 C504.0,314.8 504.3,317.6 504.3,319.8Z" fill="#e0a0a3" />
</g>
<g opacity="1.0">
<path d="M440.8,325.3 C440.9,326.6 438.8,327.8 438.6,329.2 C438.4,330.6 440.1,332.6 439.7,333.8 C439.2,335.0 436.9,335.6 436.0,336.6 C435.0,337.7 434.8,339.1 433.9,340.1 C433.1,341.1 431.6,341.5 430.7,342.5 C429.7,343.5 429.3,345.7 428.1,346.1 C426.8,346.5 424.6,344.6 423.3,344.8 C421.9,345.1 421.0,347.4 419.8,347.6 C418.5,347.8 417.1,346.3 415.8,346.1 C414.4,346.0 412.8,347.2 411.6,346.8 C410.4,346.4 409.9,344.2 408.6,343.6 C407.3,343.0 405.1,344.1 404.0,343.5 C402.9,342.8 402.9,340.7 402.0,339.6 C401.1,338.6 399.1,338.3 398.6,337.1 C398.1,336.0 399.3,333.9 398.7,332.6 C398.2,331.4 395.8,330.7 395.6,329.4 C395.4,328.2 397.6,326.7 397.6,325.3 C397.5,323.9 394.9,322.3 395.1,321.1 C395.3,319.8 398.2,319.3 398.6,317.9 C399.0,316.5 396.9,313.9 397.5,312.8 C398.2,311.7 401.5,312.5 402.5,311.5 C403.5,310.4 402.6,307.5 403.6,306.6 C404.6,305.8 407.0,306.9 408.3,306.4 C409.6,305.9 410.3,303.9 411.5,303.5 C412.7,303.1 414.4,304.6 415.8,304.3 C417.1,304.0 418.6,301.5 419.9,301.7 C421.2,301.9 422.0,304.9 423.3,305.5 C424.6,306.2 426.5,304.9 427.6,305.4 C428.7,306.0 428.9,308.2 430.0,309.1 C431.0,309.9 432.9,309.7 433.9,310.6 C434.8,311.4 434.8,313.1 435.6,314.2 C436.3,315.4 437.9,316.1 438.3,317.3 C438.7,318.5 437.6,320.2 438.0,321.5 C438.4,322.8 440.7,324.0 440.8,325.3Z" fill="#fab5b6" stroke="#e98a8e" stroke-width="0.8" />
<path d="M430.8,324.8 C430.7,327.4 429.9,330.7 428.4,332.7 C426.8,334.7 423.8,336.6 421.4,336.9 C419.0,337.2 416.0,336.0 414.0,334.6 C412.0,333.2 410.4,330.9 409.5,328.6 C408.7,326.3 408.2,323.1 408.9,320.8 C409.6,318.5 411.8,316.2 413.9,314.8 C416.0,313.4 419.1,312.1 421.5,312.4 C423.9,312.8 426.9,314.8 428.4,316.9 C429.9,318.9 430.8,322.2 430.8,324.8Z" fill="#e0a0a3" />
</g>
<g opacity="1.0">
<path d="M481.9,252.2 C481.8,253.5 478.4,254.6 477.9,256.0 C477.4,257.4 479.3,259.2 479.0,260.5 C478.7,261.7 476.7,262.4 476.0,263.6 C475.4,264.9 475.7,266.9 474.8,267.9 C473.9,268.8 471.7,268.5 470.6,269.4 C469.4,270.2 469.3,272.7 468.1,273.2 C466.8,273.7 464.7,271.9 463.3,272.2 C461.9,272.6 461.0,274.9 459.7,275.1 C458.4,275.4 457.1,273.7 455.6,273.8 C454.1,273.9 452.2,276.1 450.9,275.6 C449.7,275.2 449.2,272.2 448.1,271.4 C446.9,270.5 444.7,271.4 443.8,270.5 C442.8,269.6 443.2,267.2 442.3,266.1 C441.5,265.0 439.2,265.1 438.5,264.0 C437.8,263.0 438.6,261.1 438.0,259.8 C437.3,258.6 434.9,257.8 434.6,256.5 C434.3,255.2 436.2,253.6 436.2,252.2 C436.3,250.8 434.6,249.2 434.9,248.0 C435.3,246.7 437.8,246.0 438.4,244.7 C438.9,243.5 437.8,241.5 438.4,240.3 C438.9,239.1 441.0,239.0 441.8,237.8 C442.6,236.6 442.0,233.7 443.1,232.9 C444.1,232.2 447.0,234.2 448.3,233.5 C449.6,232.9 449.8,229.5 451.0,229.0 C452.2,228.5 454.1,230.7 455.6,230.6 C457.1,230.5 458.5,228.1 459.8,228.2 C461.1,228.3 462.2,230.8 463.6,231.3 C464.9,231.8 466.8,230.6 468.1,231.2 C469.3,231.8 469.8,233.7 470.9,234.6 C472.0,235.5 473.7,235.7 474.6,236.7 C475.4,237.8 475.2,239.6 476.0,240.8 C476.8,242.0 478.8,242.6 479.2,243.8 C479.6,245.1 478.1,246.9 478.6,248.3 C479.0,249.7 482.0,250.9 481.9,252.2Z" fill="#fab5b6" stroke="#e98a8e" stroke-width="0.8" />
<path d="M464.6,256.6 C464.6,258.9 463.5,261.8 462.1,263.5 C460.7,265.2 458.2,266.2 456.0,266.7 C453.8,267.3 450.6,267.7 448.8,266.6 C447.0,265.5 446.0,262.3 445.3,260.0 C444.6,257.7 443.9,255.1 444.5,252.9 C445.1,250.6 446.9,247.6 448.8,246.5 C450.7,245.5 453.7,246.1 456.0,246.6 C458.2,247.1 460.9,247.8 462.3,249.5 C463.8,251.2 464.7,254.3 464.6,256.6Z" fill="#e0a0a3" />
</g>
<g opacity="1.0">
<path d="M453.9,284.3 C454.0,285.7 452.4,287.2 452.1,288.7 C451.8,290.2 452.6,292.0 452.0,293.3 C451.4,294.6 449.2,295.1 448.5,296.5 C447.8,297.9 448.9,300.8 447.9,301.7 C446.9,302.7 443.8,301.5 442.4,302.3 C441.1,303.2 441.1,305.9 439.9,306.6 C438.7,307.3 436.6,306.1 435.1,306.6 C433.7,307.1 432.5,309.3 431.1,309.4 C429.7,309.6 428.2,307.5 426.7,307.4 C425.1,307.3 423.3,309.0 421.8,308.7 C420.4,308.5 419.5,306.5 418.1,305.8 C416.7,305.1 414.4,305.7 413.4,304.7 C412.4,303.6 413.3,300.6 412.2,299.5 C411.1,298.3 407.6,299.0 406.8,297.9 C406.0,296.8 407.7,294.1 407.3,292.6 C406.9,291.1 404.6,290.2 404.4,288.9 C404.3,287.5 406.3,285.8 406.3,284.3 C406.3,282.8 404.3,281.1 404.4,279.7 C404.5,278.3 406.5,277.3 407.1,275.9 C407.7,274.5 407.1,272.5 407.9,271.3 C408.7,270.2 411.0,270.1 411.9,268.9 C412.9,267.8 412.6,265.1 413.7,264.3 C414.8,263.5 417.4,265.0 418.8,264.2 C420.1,263.3 420.4,259.9 421.7,259.4 C423.0,258.8 425.1,260.9 426.6,260.9 C428.2,260.8 429.7,259.0 431.1,259.1 C432.6,259.2 433.9,260.8 435.3,261.3 C436.8,261.9 438.5,261.7 439.7,262.3 C441.0,263.0 441.7,264.7 443.0,265.4 C444.4,266.2 447.2,265.6 448.1,266.7 C449.0,267.8 447.7,270.7 448.5,272.1 C449.3,273.5 452.6,273.6 453.1,274.9 C453.6,276.2 451.2,278.5 451.4,280.1 C451.5,281.6 453.8,282.9 453.9,284.3Z" fill="#fab5b6" stroke="#e98a8e" stroke-width="0.8" />
<path d="M445.3,287.6 C445.4,290.4 445.3,294.2 443.7,296.2 C442.1,298.1 438.6,298.7 435.9,299.1 C433.3,299.5 430.0,299.9 427.9,298.7 C425.9,297.4 424.4,294.1 423.6,291.6 C422.9,289.0 422.7,286.1 423.4,283.5 C424.0,280.9 425.5,277.3 427.6,276.0 C429.7,274.8 433.4,275.4 436.0,276.0 C438.6,276.5 441.7,277.5 443.2,279.5 C444.8,281.4 445.2,284.8 445.3,287.6Z" fill="#d67f83" />
</g>
<g opacity="1.0">
<path d="M510.1,279.9 C510.0,281.5 507.7,282.9 507.5,284.7 C507.3,286.4 509.5,288.9 508.9,290.3 C508.2,291.7 504.6,291.9 503.6,293.3 C502.6,294.7 503.7,297.6 502.7,298.8 C501.7,300.0 498.8,299.3 497.5,300.4 C496.2,301.6 496.1,304.7 494.7,305.5 C493.3,306.2 490.8,304.5 489.2,305.0 C487.5,305.6 486.3,308.7 484.7,308.9 C483.1,309.1 481.3,306.6 479.6,306.2 C477.8,305.9 475.9,307.2 474.3,306.8 C472.7,306.5 471.6,304.6 470.0,303.9 C468.4,303.3 465.9,303.9 464.6,302.9 C463.4,301.9 463.5,299.1 462.4,297.8 C461.3,296.4 459.0,296.0 458.2,294.6 C457.4,293.2 458.0,291.0 457.4,289.4 C456.9,287.8 455.3,286.6 454.9,285.0 C454.5,283.4 455.3,281.6 455.1,279.9 C455.0,278.2 453.5,276.2 453.8,274.6 C454.1,273.0 456.4,271.9 456.9,270.2 C457.5,268.5 456.1,265.7 457.0,264.4 C458.0,263.1 461.5,263.7 462.8,262.4 C464.0,261.1 463.3,257.9 464.5,256.8 C465.7,255.7 468.4,256.5 470.0,255.7 C471.6,255.0 472.5,252.5 474.1,252.3 C475.8,252.1 477.9,254.6 479.6,254.5 C481.4,254.4 483.0,251.5 484.6,251.5 C486.2,251.6 487.5,254.3 489.1,254.8 C490.8,255.3 493.3,253.7 494.7,254.4 C496.1,255.1 496.4,257.9 497.8,259.0 C499.1,260.1 501.7,259.8 502.8,261.0 C503.9,262.1 503.3,264.6 504.4,266.0 C505.5,267.4 508.5,267.9 509.1,269.4 C509.8,270.9 507.9,273.3 508.1,275.0 C508.2,276.8 510.2,278.3 510.1,279.9Z" fill="#fab5b6" stroke="#e98a8e" stroke-width="0.8" />
<path d="M500.2,282.0 C500.2,284.8 498.8,288.2 497.0,290.4 C495.3,292.6 492.3,294.8 489.7,295.2 C487.1,295.6 483.9,294.3 481.5,292.9 C479.1,291.5 476.1,289.4 475.1,286.8 C474.0,284.1 474.1,280.0 475.0,277.2 C476.0,274.5 478.6,271.5 481.0,270.3 C483.5,269.0 486.9,269.1 489.6,269.7 C492.3,270.2 495.4,271.4 497.2,273.5 C499.0,275.5 500.3,279.2 500.2,282.0Z" fill="#d67f83" />
</g>
<g opacity="1.0">
<path d="M493.0,324.2 C493.0,325.8 491.3,327.3 491.0,329.0 C490.6,330.6 491.5,332.6 490.9,334.1 C490.3,335.6 488.1,336.2 487.5,337.9 C486.9,339.6 488.3,342.9 487.3,344.1 C486.3,345.4 483.0,344.6 481.5,345.5 C479.9,346.3 479.4,348.7 477.9,349.3 C476.4,349.9 474.1,348.6 472.5,349.0 C470.8,349.4 469.5,351.4 467.9,351.5 C466.4,351.7 464.8,349.6 463.0,349.8 C461.3,350.0 458.9,353.0 457.3,352.7 C455.7,352.5 455.0,349.1 453.5,348.1 C451.9,347.2 449.3,348.2 448.1,347.1 C446.9,346.0 447.5,342.9 446.3,341.6 C445.1,340.3 441.7,340.7 440.7,339.5 C439.8,338.2 441.0,335.6 440.4,333.9 C439.8,332.2 437.4,331.1 437.2,329.5 C436.9,327.9 439.0,326.0 439.0,324.2 C439.0,322.4 436.7,320.4 437.1,318.9 C437.5,317.4 440.8,316.5 441.5,315.0 C442.3,313.4 441.0,311.0 441.6,309.5 C442.3,308.0 444.4,307.5 445.5,306.0 C446.5,304.6 446.4,301.7 447.8,300.9 C449.2,300.1 452.3,301.9 453.9,301.1 C455.5,300.3 455.9,296.6 457.4,296.0 C458.9,295.4 461.1,297.6 462.9,297.4 C464.7,297.3 466.5,294.9 468.1,295.2 C469.7,295.5 470.8,298.6 472.5,299.2 C474.2,299.7 476.8,297.8 478.1,298.6 C479.5,299.4 479.4,302.7 480.8,303.8 C482.2,304.9 485.4,303.8 486.5,305.0 C487.5,306.2 486.1,309.3 487.0,310.9 C487.8,312.4 490.7,312.7 491.3,314.2 C492.0,315.6 490.5,317.8 490.7,319.5 C491.0,321.1 492.9,322.6 493.0,324.2Z" fill="#fab5b6" stroke="#e98a8e" stroke-width="0.8" />
<path d="M479.5,325.9 C479.5,328.6 478.5,331.9 476.9,334.1 C475.3,336.3 472.4,338.7 469.8,339.2 C467.3,339.6 463.9,338.2 461.6,336.8 C459.4,335.3 457.2,332.8 456.3,330.2 C455.4,327.7 455.2,324.0 456.2,321.5 C457.1,319.1 459.6,316.9 461.9,315.5 C464.2,314.2 467.2,313.1 469.7,313.5 C472.2,313.8 475.3,315.6 477.0,317.6 C478.6,319.7 479.5,323.2 479.5,325.9Z" fill="#d67f83" />
</g>
<path d="M-10,-5 L-6,-5 L-6,2 L6,2 L6,-5 L10,-5 L10,6 L-10,6 Z" fill="#dbe9f7" stroke="#8db7e2" stroke-width="0.9" stroke-linejoin="round" transform="translate(451.5 233.5) rotate(-12) scale(0.95)"/>
<ellipse cx="451.5" cy="231.1" rx="3.2" ry="9" fill="url(#gPurp)" transform="rotate(-10 451.5 231.1)"/>
<path d="M-10,-5 L-6,-5 L-6,2 L6,2 L6,-5 L10,-5 L10,6 L-10,6 Z" fill="#dbe9f7" stroke="#8db7e2" stroke-width="0.9" stroke-linejoin="round" transform="translate(415.5 257.0) rotate(-15) scale(0.95)"/>
<ellipse cx="415.5" cy="255.5" rx="3.2" ry="9" fill="url(#gPurp)" transform="rotate(-10 415.5 255.5)"/>
<path d="M-10,-5 L-6,-5 L-6,2 L6,2 L6,-5 L10,-5 L10,6 L-10,6 Z" fill="#dbe9f7" stroke="#8db7e2" stroke-width="0.9" stroke-linejoin="round" transform="translate(469.8 258.6) rotate(-18) scale(0.95)"/>
<ellipse cx="469.8" cy="257.1" rx="3.2" ry="9" fill="url(#gPurp)" transform="rotate(-15 469.8 257.1)"/>
<path d="M-10,-5 L-6,-5 L-6,2 L6,2 L6,-5 L10,-5 L10,6 L-10,6 Z" fill="#dbe9f7" stroke="#8db7e2" stroke-width="0.9" stroke-linejoin="round" transform="translate(501.0 259.5) rotate(38) scale(0.95)"/>
<ellipse cx="499.2" cy="258.8" rx="3.2" ry="9" fill="url(#gPurp)" transform="rotate(40 499.2 258.8)"/>
<path d="M-10,-5 L-6,-5 L-6,2 L6,2 L6,-5 L10,-5 L10,6 L-10,6 Z" fill="#dbe9f7" stroke="#8db7e2" stroke-width="0.9" stroke-linejoin="round" transform="translate(403.6 289.3) rotate(-90) scale(0.95)"/>
<ellipse cx="401.8" cy="289.3" rx="3.2" ry="9" fill="url(#gPurp)" transform="rotate(90 401.8 289.3)"/>
<path d="M-10,-5 L-6,-5 L-6,2 L6,2 L6,-5 L10,-5 L10,6 L-10,6 Z" fill="#dbe9f7" stroke="#8db7e2" stroke-width="0.9" stroke-linejoin="round" transform="translate(457.4 293.0) rotate(0) scale(0.95)"/>
<ellipse cx="457.4" cy="292.6" rx="3.2" ry="9" fill="url(#gPurp)" transform="rotate(0 457.4 292.6)"/>
<path d="M-10,-5 L-6,-5 L-6,2 L6,2 L6,-5 L10,-5 L10,6 L-10,6 Z" fill="#dbe9f7" stroke="#8db7e2" stroke-width="0.9" stroke-linejoin="round" transform="translate(438.2 325.9) rotate(-90) scale(0.95)"/>
<ellipse cx="436.3" cy="325.9" rx="3.2" ry="9" fill="url(#gPurp)" transform="rotate(90 436.3 325.9)"/>
<path d="M-10,-5 L-6,-5 L-6,2 L6,2 L6,-5 L10,-5 L10,6 L-10,6 Z" fill="#dbe9f7" stroke="#8db7e2" stroke-width="0.9" stroke-linejoin="round" transform="translate(487.6 341.4) rotate(-55) scale(0.95)"/>
<ellipse cx="489.2" cy="339.7" rx="3.2" ry="9" fill="url(#gPurp)" transform="rotate(-55 489.2 339.7)"/>
<ellipse cx="495.3" cy="232.7" rx="3.2" ry="9" fill="url(#gPurp)" transform="rotate(0 495.3 232.7)"/>
<ellipse cx="451.6" cy="230.0" rx="3.2" ry="8.6" fill="url(#gPurp)" transform="rotate(-8 451.6 230.0)"/>
<polygon points="431.6,259.5 432.7,262.5 436.0,262.7 433.4,264.7 434.3,267.8 431.6,266.0 428.9,267.8 429.8,264.7 427.2,262.7 430.5,262.5" fill="#000"/>
<polygon points="467.4,268.1 468.5,271.1 471.8,271.3 469.2,273.3 470.1,276.4 467.4,274.6 464.7,276.4 465.6,273.3 463.0,271.3 466.3,271.1" fill="#000"/>
<polygon points="469.0,299.7 470.1,302.7 473.4,302.9 470.8,304.9 471.7,308.0 469.0,306.2 466.3,308.0 467.2,304.9 464.6,302.9 467.9,302.7" fill="#000"/>
<polygon points="406.0,310.7 406.8,312.9 409.1,313.0 407.3,314.4 407.9,316.7 406.0,315.4 404.1,316.7 404.7,314.4 402.9,313.0 405.2,312.9" fill="#000"/>
<polygon points="518.8,253.6 519.9,256.6 523.2,256.8 520.6,258.8 521.5,261.9 518.8,260.1 516.1,261.9 517.0,258.8 514.4,256.8 517.7,256.6" fill="#000"/>
<polygon points="527.5,298.0 528.6,301.0 531.9,301.2 529.3,303.2 530.2,306.3 527.5,304.5 524.8,306.3 525.7,303.2 523.1,301.2 526.4,301.0" fill="#000"/>
<polygon points="414.6,272.7 415.7,274.2 417.6,274.1 417.1,275.9 418.3,277.3 416.6,278.1 416.2,279.9 414.6,279.1 413.0,279.9 412.6,278.1 410.9,277.3 412.1,275.9 411.6,274.1 413.5,274.2" fill="#215c1a"/>
<circle cx="414.6" cy="276.5" r="1.1" fill="#d29a1c"/>
<polygon points="417.5,288.8 418.6,290.3 420.5,290.2 420.0,292.0 421.2,293.4 419.5,294.2 419.1,296.0 417.5,295.2 415.9,296.0 415.5,294.2 413.8,293.4 415.0,292.0 414.5,290.2 416.4,290.3" fill="#215c1a"/>
<circle cx="417.5" cy="292.6" r="1.1" fill="#d29a1c"/>
<polygon points="444.3,250.0 445.4,251.5 447.3,251.4 446.8,253.2 448.0,254.6 446.3,255.4 445.9,257.2 444.3,256.4 442.7,257.2 442.3,255.4 440.6,254.6 441.8,253.2 441.3,251.4 443.2,251.5" fill="#215c1a"/>
<circle cx="444.3" cy="253.8" r="1.1" fill="#d29a1c"/>
<polygon points="494.2,295.5 495.3,297.0 497.2,296.9 496.7,298.7 497.9,300.1 496.2,300.9 495.8,302.7 494.2,301.9 492.6,302.7 492.2,300.9 490.5,300.1 491.7,298.7 491.2,296.9 493.1,297.0" fill="#215c1a"/>
<circle cx="494.2" cy="299.3" r="1.1" fill="#d29a1c"/>
<polygon points="452.6,309.3 453.7,310.8 455.6,310.7 455.1,312.5 456.3,313.9 454.6,314.7 454.2,316.5 452.6,315.7 451.0,316.5 450.6,314.7 448.9,313.9 450.1,312.5 449.6,310.7 451.5,310.8" fill="#215c1a"/>
<circle cx="452.6" cy="313.1" r="1.1" fill="#d29a1c"/>
<polygon points="454.5,335.7 455.6,337.2 457.5,337.1 457.0,338.9 458.2,340.3 456.5,341.1 456.1,342.9 454.5,342.1 452.9,342.9 452.5,341.1 450.8,340.3 452.0,338.9 451.5,337.1 453.4,337.2" fill="#215c1a"/>
<circle cx="454.5" cy="339.5" r="1.1" fill="#d29a1c"/>
<polygon points="536.9,252.2 538.0,253.7 539.9,253.6 539.4,255.4 540.6,256.8 538.9,257.6 538.5,259.4 536.9,258.6 535.3,259.4 534.9,257.6 533.2,256.8 534.4,255.4 533.9,253.6 535.8,253.7" fill="#215c1a"/>
<circle cx="536.9" cy="256.0" r="1.1" fill="#d29a1c"/>
<polygon points="403.8,319.3 404.7,320.5 406.3,320.5 405.9,322.0 406.9,323.2 405.5,323.9 405.2,325.4 403.8,324.7 402.4,325.4 402.1,323.9 400.7,323.2 401.7,322.0 401.3,320.5 402.9,320.5" fill="#7a3b10"/>
<circle cx="403.8" cy="322.5" r="1.0" fill="#a0521e"/>
<circle cx="467.4" cy="241.8" r="2.6" fill="url(#gRed)"/>
<circle cx="425.2" cy="272.3" r="2.6" fill="url(#gRed)"/>
<circle cx="482.9" cy="264.3" r="2.6" fill="url(#gRed)"/>
<circle cx="469.4" cy="281.9" r="2.6" fill="url(#gRed)"/>
<circle cx="425.2" cy="304.3" r="2.6" fill="url(#gRed)"/>
<circle cx="480.3" cy="313.3" r="2.6" fill="url(#gRed)"/>
<circle cx="503.0" cy="309.2" r="2.6" fill="url(#gRed)"/>
<circle cx="449.8" cy="324.2" r="2.6" fill="url(#gRed)"/>
<circle cx="411.0" cy="337.5" r="2.6" fill="url(#gRed)"/>
<circle cx="423.5" cy="341.6" r="2.6" fill="url(#gRed)"/>
<circle cx="457.4" cy="243.8" r="2.5" fill="url(#gYel)"/>
<circle cx="443.2" cy="273.0" r="2.5" fill="url(#gYel)"/>
<circle cx="434.5" cy="304.3" r="2.5" fill="url(#gYel)"/>
<circle cx="450.6" cy="305.1" r="2.5" fill="url(#gYel)"/>
<circle cx="485.3" cy="321.4" r="2.5" fill="url(#gYel)"/>
<circle cx="509.5" cy="317.6" r="2.5" fill="url(#gYel)"/>
<circle cx="514.7" cy="293.2" r="2.5" fill="url(#gYel)"/>
<circle cx="409.6" cy="329.5" r="2.5" fill="url(#gYel)"/>
<rect x="477.6" y="236.1" width="3.6" height="8.4" rx="1.8" fill="#fff" stroke="#111" stroke-width="0.9" opacity="1" transform="rotate(-35 479.4 240.3)"/>
<rect x="445.2" y="259.6" width="3.6" height="8.4" rx="1.8" fill="#fff" stroke="#111" stroke-width="0.9" opacity="1" transform="rotate(-40 447.0 263.8)"/>
<rect x="507.4" y="275.1" width="3.6" height="8.4" rx="1.8" fill="#fff" stroke="#111" stroke-width="0.9" opacity="1" transform="rotate(-12 509.2 279.3)"/>
<rect x="474.1" y="293.7" width="3.6" height="8.4" rx="1.8" fill="#fff" stroke="#111" stroke-width="0.9" opacity="1" transform="rotate(-40 475.9 297.9)"/>
<rect x="407.2" y="299.5" width="3.6" height="8.4" rx="1.8" fill="#fff" stroke="#111" stroke-width="0.9" opacity="1" transform="rotate(-40 409.0 303.7)"/>
<rect x="398.5" y="330.2" width="3.6" height="8.4" rx="1.8" fill="#fff" stroke="#111" stroke-width="0.9" opacity="1" transform="rotate(-40 400.3 334.4)"/>
<rect x="438.6" y="358.0" width="3.6" height="8.4" rx="1.8" fill="#fff" stroke="#111" stroke-width="0.9" opacity="1" transform="rotate(-35 440.4 362.2)"/>
<rect x="485.7" y="226.3" width="3.6" height="8.4" rx="1.8" fill="#fff" stroke="#111" stroke-width="0.9" opacity="0.35" transform="rotate(-45 487.5 230.5)"/>
<rect x="521.0" y="280.7" width="3.6" height="8.4" rx="1.8" fill="#fff" stroke="#111" stroke-width="0.9" opacity="0.35" transform="rotate(10 522.8 284.9)"/>
<ellipse cx="728.3" cy="217.4" rx="52" ry="56" fill="url(#glow4)"/>
<ellipse cx="700" cy="381.6" rx="58" ry="64" fill="url(#glow4)"/>
<path d="M646,195.5 C614,184 560,188 512.5,233.6" fill="none" stroke="url(#arcU)" stroke-width="1.8" />
<polygon points="508.60,237.00 513.20,226.40 519.40,233.60" fill="#1c4a66" />
<path d="M644,405.6 C590,428 528,420 490,367" fill="none" stroke="url(#arcL)" stroke-width="1.8" />
<polygon points="486.80,363.60 497.00,368.60 489.60,374.00" fill="#1c4a66" />
<circle cx="575.9" cy="171.2" r="2.1" fill="#2592d4"/>
<circle cx="546.5" cy="176.6" r="2.3" fill="#2592d4"/>
<circle cx="591.8" cy="180.3" r="2.8" fill="#2592d4"/>
<circle cx="563.7" cy="183.7" r="2.1" fill="#2592d4"/>
<circle cx="610.5" cy="182.2" r="3.2" fill="#2592d4"/>
<circle cx="622.7" cy="178.1" r="2.4" fill="#7cc6ea"/>
<circle cx="541.9" cy="191.2" r="3" fill="#2592d4"/>
<circle cx="577.8" cy="189.9" r="2.4" fill="#7cc6ea"/>
<circle cx="629.2" cy="189.3" r="2.6" fill="#7cc6ea"/>
<circle cx="645.1" cy="191.2" r="3" fill="#2592d4"/>
<circle cx="605.5" cy="201.8" r="2.2" fill="#2592d4"/>
<circle cx="657.9" cy="201.8" r="2.1" fill="#2592d4"/>
<circle cx="635.0" cy="205.1" r="2.1" fill="#2592d4"/>
<circle cx="593.0" cy="210.5" r="2.4" fill="#7cc6ea"/>
<circle cx="550.0" cy="215.2" r="2.9" fill="#7cc6ea"/>
<circle cx="571.8" cy="217.4" r="3" fill="#2592d4"/>
<circle cx="540.6" cy="235.5" r="2" fill="#7cc6ea"/>
<circle cx="555.6" cy="236.7" r="2.4" fill="#2592d4"/>
<circle cx="527.6" cy="209.5" r="2" fill="#7cc6ea"/>
<circle cx="520.0" cy="368.3" r="3" fill="#7cc6ea"/>
<circle cx="538.2" cy="365.6" r="2.6" fill="#2592d4"/>
<circle cx="556.6" cy="390.1" r="3.7" fill="#2592d4"/>
<circle cx="609.3" cy="386.4" r="3.5" fill="#2592d4"/>
<circle cx="531.7" cy="395.2" r="3.4" fill="#7cc6ea"/>
<circle cx="580.8" cy="396.0" r="3.4" fill="#7cc6ea"/>
<circle cx="629.6" cy="400.3" r="2.7" fill="#2592d4"/>
<circle cx="656.0" cy="402.4" r="2.6" fill="#2592d4"/>
<circle cx="505.9" cy="405.9" r="2.3" fill="#7cc6ea"/>
<circle cx="595.5" cy="408.3" r="2.6" fill="#2592d4"/>
<circle cx="641.3" cy="418.4" r="3.7" fill="#2592d4"/>
<circle cx="622.4" cy="422.9" r="3" fill="#7cc6ea"/>
<circle cx="563.0" cy="426.1" r="3" fill="#7cc6ea"/>
<circle cx="521.6" cy="429.0" r="3.8" fill="#2592d4"/>
<circle cx="600.8" cy="434.4" r="3.7" fill="#2592d4"/>
<circle cx="546.7" cy="436.8" r="2.8" fill="#2592d4"/>
<circle cx="579.2" cy="438.7" r="3.3" fill="#2592d4"/>
<circle cx="614.9" cy="438.9" r="3" fill="#7cc6ea"/>
<text transform="translate(563.70 214.90) scale(1.0422 1)" font-size="15" stroke="#000" stroke-width="0.4">IFNγ</text>
<text transform="translate(556.50 381.30) scale(1.0028 1)" font-size="18.2" stroke="#000" stroke-width="0.4">GzmB</text>
<text transform="translate(470.90 441.60) scale(1.0396 1)" font-size="18" stroke="#000" stroke-width="0.4">IFNγ</text>
<circle cx="605.2" cy="256.3" r="3.6" fill="url(#gRed)"/>
<circle cx="573.0" cy="256.7" r="3.2" fill="url(#gRed)"/>
<circle cx="593.0" cy="297.8" r="3.7" fill="url(#gRed)"/>
<circle cx="563.1" cy="301.3" r="3.1" fill="url(#gRed)"/>
<circle cx="521.9" cy="326.7" r="3" fill="url(#gRed)"/>
<circle cx="595.5" cy="237.3" r="3.5" fill="url(#gYel)"/>
<circle cx="551.2" cy="255.4" r="4.2" fill="url(#gYel)"/>
<circle cx="530.8" cy="282.1" r="4.4" fill="url(#gYel)"/>
<circle cx="544.4" cy="298.4" r="3.5" fill="url(#gYel)"/>
<circle cx="544.4" cy="312.4" r="3.3" fill="url(#gYel)"/>
<circle cx="569.9" cy="315.0" r="3.5" fill="url(#gYel)"/>
<circle cx="625.7" cy="333.4" r="3.1" fill="url(#gYel)"/>
<polygon points="563.1,235.8 564.2,238.8 567.5,239.0 564.9,241.0 565.8,244.1 563.1,242.3 560.4,244.1 561.3,241.0 558.7,239.0 562.0,238.8" fill="#000"/>
<polygon points="663.1,287.0 664.1,289.8 667.1,289.9 664.8,291.7 665.6,294.6 663.1,293.0 660.6,294.6 661.4,291.7 659.1,289.9 662.1,289.8" fill="#000"/>
<polygon points="626.7,311.7 627.7,314.5 630.7,314.6 628.4,316.4 629.2,319.3 626.7,317.7 624.2,319.3 625.0,316.4 622.7,314.6 625.7,314.5" fill="#000"/>
<polygon points="583.3,331.0 584.4,334.0 587.7,334.2 585.1,336.2 586.0,339.3 583.3,337.5 580.6,339.3 581.5,336.2 578.9,334.2 582.2,334.0" fill="#000"/>
<polygon points="545.4,277.4 546.8,279.2 549.0,279.1 548.4,281.3 549.9,283.0 547.8,284.0 547.4,286.1 545.4,285.1 543.4,286.1 543.0,284.0 540.9,283.0 542.4,281.3 541.8,279.1 544.0,279.2" fill="#215c1a"/>
<circle cx="545.4" cy="282.0" r="1.4" fill="#d29a1c"/>
<polygon points="552.8,318.8 553.9,320.2 555.7,320.2 555.3,321.9 556.4,323.3 554.8,324.1 554.4,325.8 552.8,325.0 551.2,325.8 550.8,324.1 549.2,323.3 550.3,321.9 549.9,320.2 551.7,320.2" fill="#215c1a"/>
<circle cx="552.8" cy="322.5" r="1.1" fill="#d29a1c"/>
<g transform="translate(655.2 267.2) rotate(-32.4)"><line x1="-3.5" y1="-3.4" x2="16" y2="-3.4" stroke="#1b2f5a" stroke-width="0.9"/><line x1="-3.5" y1="3.4" x2="16" y2="3.4" stroke="#1b2f5a" stroke-width="0.9"/><rect x="15" y="-6.6" width="21" height="5.6" fill="#1268a5"/><rect x="15" y="1" width="21" height="5.6" fill="#1268a5"/><rect x="36" y="-6.6" width="17" height="5.6" fill="#d0413f"/><rect x="37.5" y="1" width="17" height="5.6" fill="#d0413f"/><line x1="53" y1="-3.4" x2="67" y2="-3.4" stroke="#b82020" stroke-width="0.9"/><line x1="54.5" y1="3.4" x2="70" y2="3.4" stroke="#b82020" stroke-width="0.9"/><line x1="15" y1="0" x2="54" y2="0" stroke="#fff" stroke-width="0.8"/><circle cx="36.6" cy="0.2" r="2.5" fill="#f2c81e" stroke="#fff" stroke-width="0.6"/></g>
<g transform="translate(643 300.2) rotate(54.3)"><line x1="0" y1="0" x2="14" y2="0" stroke="#3a1f5a" stroke-width="1"/><rect x="13" y="-7" width="19" height="6.6" fill="#5e2a7a"/><rect x="17" y="1" width="15" height="6.6" fill="#5e2a7a"/><rect x="33" y="-7" width="24" height="6.4" fill="#1268a5"/><rect x="33" y="1" width="24" height="6.4" fill="#1268a5"/><line x1="13" y1="0.4" x2="57" y2="0.4" stroke="#fff" stroke-width="0.8"/><line x1="57" y1="-3.6" x2="78" y2="-3.6" stroke="#16324e" stroke-width="1.1"/><line x1="57" y1="4" x2="78" y2="4" stroke="#16324e" stroke-width="1.1"/><ellipse cx="32.6" cy="0.4" rx="2.8" ry="2.3" fill="#d0105a" stroke="#fff" stroke-width="0.6"/></g>
<ellipse cx="728.1" cy="217.6" rx="30.2" ry="34" fill="#6cbadd" stroke="#2e94cc" stroke-width="0.8"/>
<circle cx="734" cy="219.2" r="17.1" fill="#1583bd"/>
<text x="713.4" y="222.1" font-size="13.6" font-weight="bold" letter-spacing="0.9" stroke="#000" stroke-width="0.4">CD4<tspan font-size="9.5" dy="-4.6">+</tspan></text>
<ellipse cx="699.5" cy="382.7" rx="34.4" ry="38.3" fill="#ea9a40" stroke="#e07020" stroke-width="0.8"/>
<circle cx="705.6" cy="384" r="19.2" fill="#e06a1b"/>
<text x="685.6" y="388.8" font-size="13.6" font-weight="bold" letter-spacing="0.9" stroke="#000" stroke-width="0.4">CD8<tspan font-size="9.5" dy="-4.6">+</tspan></text>
<g transform="translate(655.2 267.2) rotate(-32.4)"><line x1="53" y1="-3.4" x2="67" y2="-3.4" stroke="#b82020" stroke-width="0.9"/><line x1="54.5" y1="3.4" x2="70" y2="3.4" stroke="#b82020" stroke-width="0.9"/></g>
<g transform="translate(643 300.2) rotate(54.3)"><line x1="57" y1="-3.6" x2="78" y2="-3.6" stroke="#16324e" stroke-width="1.1"/><line x1="57" y1="4" x2="78" y2="4" stroke="#16324e" stroke-width="1.1"/></g>
<text x="700.9" y="269.1" font-size="14" letter-spacing="0.6" stroke="#000" stroke-width="0.3">TCR</text>
<text transform="translate(628.00 364.80) scale(1.0091 1)" font-size="17.6" stroke="#000" stroke-width="0.4">TCR</text>
<text x="637.3" y="233.6" font-size="14" letter-spacing="0.35" stroke="#000" stroke-width="0.3">MHC-II</text>
<text x="665.3" y="313.4" font-size="14" letter-spacing="0.9" stroke="#000" stroke-width="0.3">MHC-I</text>
<line x1="624.60" y1="244.20" x2="621.90" y2="230.60" stroke="#2e2a6e" stroke-width="2.8" />
<g transform="translate(621.9 230.6) rotate(-101.2)"><path d="M9,-6.4 L1.5,-6.4 L1.5,6.4 L9,6.4" fill="none" stroke="#e0762a" stroke-width="3" stroke-linejoin="round" stroke-linecap="round"/></g>
<polygon points="620.4,217.5 622.1,219.7 624.8,219.7 624.1,222.3 625.9,224.4 623.4,225.5 622.8,228.2 620.4,227.0 618.0,228.2 617.4,225.5 615.0,224.4 616.7,222.3 616.0,219.7 618.8,219.7" fill="#215c1a"/>
<circle cx="620.4" cy="223.1" r="1.7" fill="#d29a1c"/>
<line x1="597.40" y1="276.20" x2="577.00" y2="276.20" stroke="#2e2a6e" stroke-width="2.8" />
<g transform="translate(577.0 276.2) rotate(180.0)"><path d="M9,-6.4 L1.5,-6.4 L1.5,6.4 L9,6.4" fill="none" stroke="#e0762a" stroke-width="3" stroke-linejoin="round" stroke-linecap="round"/></g>
<polygon points="569.4,270.6 571.1,272.8 573.8,272.7 573.1,275.4 574.9,277.4 572.4,278.6 571.8,281.2 569.4,280.0 567.0,281.2 566.4,278.6 563.9,277.4 565.7,275.4 565.0,272.7 567.7,272.8" fill="#215c1a"/>
<circle cx="569.4" cy="276.2" r="1.7" fill="#d29a1c"/>
<line x1="608.30" y1="297.80" x2="604.00" y2="315.40" stroke="#2e2a6e" stroke-width="2.8" />
<g transform="translate(604.0 315.4) rotate(103.7)"><path d="M9,-6.4 L1.5,-6.4 L1.5,6.4 L9,6.4" fill="none" stroke="#e0762a" stroke-width="3" stroke-linejoin="round" stroke-linecap="round"/></g>
<polygon points="602.2,317.2 603.8,319.4 606.6,319.3 605.9,321.9 607.7,324.0 605.2,325.2 604.6,327.8 602.2,326.6 599.8,327.8 599.2,325.2 596.7,324.0 598.5,321.9 597.8,319.3 600.5,319.4" fill="#215c1a"/>
<circle cx="602.2" cy="322.8" r="1.7" fill="#d29a1c"/>
<path d="M626.1,244.8 C627.1,243.5 628.1,236.6 629.8,233.0 C631.5,229.3 633.7,225.9 636.0,223.0 C638.4,220.1 642.2,216.9 644.2,215.8 C646.1,214.6 647.0,215.7 647.5,216.1 C648.0,216.6 648.2,216.8 647.0,218.4 C645.8,219.9 642.5,222.6 640.4,225.5 C638.3,228.3 635.8,232.8 634.6,235.5 C633.3,238.2 632.6,240.8 632.9,241.7 C633.3,242.6 634.5,241.4 636.7,240.8 C638.9,240.3 641.8,239.1 646.0,238.6 C650.3,238.1 659.2,237.6 662.2,237.8 C665.3,238.0 664.2,239.3 664.2,239.8 C664.3,240.4 664.4,240.7 662.5,241.3 C660.6,242.0 655.1,242.8 652.9,243.8 C650.7,244.8 649.3,246.8 649.1,247.3 C649.0,247.9 650.9,247.3 652.3,247.1 C653.6,246.9 656.0,245.9 657.3,246.1 C658.5,246.2 659.6,247.2 659.8,247.9 C659.9,248.7 659.2,249.6 658.3,250.6 C657.3,251.5 654.6,252.3 654.1,253.8 C653.7,255.3 655.3,257.3 655.4,259.8 C655.4,262.2 654.2,266.0 654.5,268.5 C654.9,271.0 655.8,273.2 657.5,274.8 C659.2,276.3 661.0,277.4 664.7,277.8 C668.4,278.1 676.8,276.7 679.7,277.0 C682.6,277.3 681.9,278.7 682.0,279.5 C682.0,280.3 682.4,281.2 680.0,281.7 C677.5,282.3 671.1,282.5 667.2,283.0 C663.3,283.5 658.9,283.7 656.6,284.7 C654.4,285.8 653.8,287.7 653.8,289.5 C653.7,291.3 655.3,294.5 656.3,295.7 C657.3,296.9 659.1,296.2 659.8,296.7 C660.4,297.2 660.5,298.2 660.2,298.7 C660.0,299.2 659.8,299.7 658.3,299.7 C656.7,299.7 653.2,299.0 651.0,298.5 C648.9,297.9 647.3,295.8 645.4,296.2 C643.5,296.6 641.3,299.5 639.8,301.0 C638.3,302.4 636.3,302.5 636.3,304.9 C636.3,307.4 638.8,311.8 640.0,315.9 C641.3,320.0 643.5,326.9 643.8,329.6 C644.1,332.3 642.7,331.8 642.0,332.1 C641.3,332.4 640.7,333.5 639.5,331.4 C638.3,329.3 636.4,323.3 634.8,319.7 C633.2,316.0 631.7,311.8 630.1,309.7 C628.4,307.6 626.5,307.5 624.8,307.2 C623.1,306.9 621.5,307.3 619.8,307.8 C618.2,308.3 616.3,310.4 614.8,310.3 C613.4,310.2 612.0,308.5 611.1,307.4 C610.2,306.3 611.5,303.3 609.6,303.7 C607.7,304.1 603.5,307.1 599.9,309.9 C596.2,312.8 590.1,319.2 587.7,320.9 C585.2,322.6 585.6,320.8 585.2,320.3 C584.7,319.8 583.3,320.3 584.9,317.9 C586.5,315.5 592.6,309.2 594.9,305.9 C597.2,302.7 598.8,300.7 598.9,298.5 C599.0,296.2 598.5,293.5 595.5,292.5 C592.6,291.5 585.2,291.7 581.2,292.5 C577.2,293.3 573.3,296.7 571.4,297.2 C569.5,297.8 569.8,296.3 569.7,295.7 C569.6,295.1 569.2,294.7 570.7,293.5 C572.2,292.3 575.7,289.7 578.7,288.5 C581.7,287.2 587.4,287.4 588.6,286.0 C589.9,284.5 587.0,282.0 586.4,279.8 C585.8,277.5 584.9,274.4 585.2,272.3 C585.4,270.1 587.5,269.9 588.1,267.0 C588.8,264.1 589.1,258.3 589.1,254.8 C589.2,251.3 588.4,247.9 588.6,246.1 C588.9,244.2 589.8,243.7 590.5,243.6 C591.2,243.5 592.1,243.7 592.9,245.6 C593.7,247.4 594.0,252.3 595.1,254.8 C596.3,257.3 597.4,260.0 599.9,260.8 C602.3,261.6 607.0,261.2 609.9,259.8 C612.7,258.4 615.6,255.0 617.1,252.6 C618.5,250.1 619.1,247.6 618.6,245.1 C618.0,242.6 615.8,239.4 613.8,237.6 C611.9,235.8 608.3,235.2 606.9,234.3 C605.4,233.5 605.2,232.9 605.4,232.3 C605.6,231.8 606.0,230.9 608.0,231.1 C610.0,231.3 614.7,231.9 617.3,233.6 C620.0,235.3 622.4,239.2 623.8,241.1 C625.3,243.0 625.1,246.2 626.1,244.8Z" fill="#4a9a22" stroke="#2f7a18" stroke-width="1" />
<path d="M609.2,276.0 C609.2,271.6 611.8,265.3 614.8,262.3 C617.9,259.3 623.2,258.3 627.3,257.9 C631.5,257.5 636.9,257.4 639.8,259.8 C642.7,262.2 644.8,267.9 644.8,272.3 C644.8,276.6 642.7,282.6 639.8,286.0 C636.9,289.4 631.5,292.4 627.3,292.8 C623.2,293.3 617.9,291.3 614.8,288.5 C611.8,285.7 609.2,280.4 609.2,276.0Z" fill="#2e7a1c" />
<text x="625.6" y="284.1" font-size="14.5" font-weight="bold" fill="#fff">D</text>
<text x="625.6" y="302.2" font-size="14.5" font-weight="bold" fill="#fff">C</text>
<line x1="624.60" y1="244.20" x2="622.20" y2="232.00" stroke="#2e2a6e" stroke-width="2.8" />
<line x1="597.40" y1="276.20" x2="580.00" y2="276.20" stroke="#2e2a6e" stroke-width="2.8" />
<line x1="608.30" y1="297.80" x2="604.40" y2="313.00" stroke="#2e2a6e" stroke-width="2.8" />
</g>
<g id="panel_b">
<text transform="translate(823.50 18.00)" font-size="24.5" font-weight="bold" stroke="#000" stroke-width="0.4">b</text>
<text transform="translate(958.40 40.50) scale(0.9849 1)" font-size="22" stroke="#000" stroke-width="0.4">SAM injection (<tspan font-style="italic">i.v</tspan>)</text>
<text transform="translate(966.00 65.40) scale(0.9699 1)" font-size="22" stroke="#000" stroke-width="0.4">2x10<tspan font-size="13.64" dy="-7.92">7</tspan><tspan dy="7.92"> cfu/mouse</tspan></text>
<line x1="1057.00" y1="75.00" x2="1057.00" y2="150.80" stroke="#000" stroke-width="3.2" />
<polygon points="1057.00,166.80 1046.70,146.80 1067.30,146.80" fill="#000" />
<text transform="translate(837.80 120.60) scale(1.0320 1)" font-size="24" stroke="#000" stroke-width="0.4">BALB/c</text>
<text transform="translate(1134.94 108.60)" font-size="22" stroke="#000" stroke-width="0.4">Doxy</text>
<text transform="translate(1063.40 133.50) scale(0.9765 1)" font-size="22" stroke="#000" stroke-width="0.4">(Oral administration)</text>
<path d="M1095.5,172.5 C1095.5,159.4 1096.5,155.4 1102.5,155.4 L1144.6,155.4 C1147.6,155.4 1148.6,151.4 1148.6,138.6 C1148.6,151.4 1149.6,155.4 1152.6,155.4 L1195.0,155.4 C1201.0,155.4 1202.0,159.4 1202.0,172.5" fill="none" stroke="#000" stroke-width="3.6" stroke-linejoin="round"/>
<text transform="translate(1209.50 171.00) scale(0.9707 1)" font-size="22" stroke="#000" stroke-width="0.4">Survivors</text>
<line x1="942.50" y1="192.00" x2="1366.50" y2="192.00" stroke="#000" stroke-width="5.0" />
<polygon points="1380.50,192.00 1360.50,181.80 1360.50,202.20" fill="#000" />
<line x1="942.50" y1="176.20" x2="942.50" y2="207.80" stroke="#000" stroke-width="3.6" />
<line x1="1057.60" y1="176.20" x2="1057.60" y2="207.80" stroke="#000" stroke-width="3.6" />
<line x1="1095.50" y1="176.20" x2="1095.50" y2="207.80" stroke="#000" stroke-width="3.6" />
<line x1="1147.70" y1="176.20" x2="1147.70" y2="207.80" stroke="#000" stroke-width="3.6" />
<line x1="1208.00" y1="176.20" x2="1208.00" y2="207.80" stroke="#000" stroke-width="3.6" />
<line x1="1279.00" y1="176.20" x2="1279.00" y2="207.80" stroke="#000" stroke-width="3.6" />
<line x1="1346.00" y1="176.20" x2="1346.00" y2="207.80" stroke="#000" stroke-width="3.6" />
<line x1="992.10" y1="200.50" x2="996.90" y2="183.50" stroke="#000" stroke-width="1.9" />
<line x1="996.50" y1="200.50" x2="1001.30" y2="183.50" stroke="#000" stroke-width="1.9" />
<line x1="1170.60" y1="200.50" x2="1175.40" y2="183.50" stroke="#000" stroke-width="1.9" />
<line x1="1175.00" y1="200.50" x2="1179.80" y2="183.50" stroke="#000" stroke-width="1.9" />
<line x1="1236.60" y1="200.50" x2="1241.40" y2="183.50" stroke="#000" stroke-width="1.9" />
<line x1="1241.00" y1="200.50" x2="1245.80" y2="183.50" stroke="#000" stroke-width="1.9" />
<line x1="1307.10" y1="200.50" x2="1311.90" y2="183.50" stroke="#000" stroke-width="1.9" />
<line x1="1311.50" y1="200.50" x2="1316.30" y2="183.50" stroke="#000" stroke-width="1.9" />
<text transform="translate(1007.60 234.00) scale(1.0814 1)" font-size="24" stroke="#000" stroke-width="0.4">Day 0</text>
<text transform="translate(1092.33 234.00)" font-size="24" stroke="#000" stroke-width="0.4">3</text>
<text transform="translate(1144.33 234.00)" font-size="24" stroke="#000" stroke-width="0.4">9</text>
<text transform="translate(1197.65 234.00)" font-size="24" stroke="#000" stroke-width="0.4">30</text>
<text transform="translate(1265.15 234.00)" font-size="24" stroke="#000" stroke-width="0.4">90</text>
<text transform="translate(1333.48 234.00)" font-size="24" stroke="#000" stroke-width="0.4">124</text>
<line x1="942.50" y1="302.40" x2="942.50" y2="236.92" stroke="#000" stroke-width="3.2" />
<polygon points="942.50,220.60 932.20,241.00 952.80,241.00" fill="#000" />
<text transform="translate(982.80 264.60) scale(0.9872 1)" font-size="22" stroke="#000" stroke-width="0.4">Tumor size</text>
<text transform="translate(971.95 289.50) scale(0.9802 1)" font-size="22" stroke="#000" stroke-width="0.4">100-120 mm<tspan font-size="13.64" dy="-7.92">3</tspan></text>
<line x1="1279.00" y1="283.50" x2="1279.00" y2="258.20" stroke="#000" stroke-width="3.2" />
<polygon points="1279.00,242.20 1268.70,262.20 1289.30,262.20" fill="#000" />
<text transform="translate(1145.00 310.50) scale(0.9830 1)" font-size="22" stroke="#000" stroke-width="0.4">Second 2x10<tspan font-size="13.64" dy="-7.92">6</tspan><tspan dy="7.92"> CT26</tspan></text>
<text transform="translate(1125.50 336.00) scale(0.9805 1)" font-size="22" stroke="#000" stroke-width="0.4">challenge (<tspan font-style="italic">s.c</tspan>, left flank)</text>
<text transform="translate(857.00 333.00) scale(0.9885 1)" font-size="22" stroke="#000" stroke-width="0.4">Primary 1x10<tspan font-size="13.64" dy="-7.92">6</tspan></text>
<text transform="translate(848.70 359.00) scale(0.9929 1)" font-size="22" stroke="#000" stroke-width="0.4">CT26 challenge</text>
<text transform="translate(851.70 384.00) scale(0.9816 1)" font-size="22" stroke="#000" stroke-width="0.4">(<tspan font-style="italic">s.c</tspan>, right flank)</text>
<g transform="translate(875.30 130.50) scale(0.13172 0.13172) translate(-420 -232)"><line x1="405" y1="262" x2="340" y2="240" stroke="#cfcfcf" stroke-width="2.5"/><line x1="405" y1="268" x2="335" y2="262" stroke="#cfcfcf" stroke-width="2.5"/><line x1="405" y1="274" x2="345" y2="285" stroke="#cfcfcf" stroke-width="2.5"/><line x1="435" y1="262" x2="500" y2="240" stroke="#cfcfcf" stroke-width="2.5"/><line x1="435" y1="268" x2="505" y2="262" stroke="#cfcfcf" stroke-width="2.5"/><line x1="435" y1="274" x2="495" y2="285" stroke="#cfcfcf" stroke-width="2.5"/><path d="M404,1150 L399,1285 L431,1285 L436,1150 Z" fill="#e8a29a"/><path d="M285.0,1135.0 C275.3,1131.3 252.5,1146.2 230.0,1150.0 C207.5,1153.8 172.0,1146.0 150.0,1158.0 C128.0,1170.0 98.0,1212.3 98.0,1222.0 C98.0,1231.7 133.0,1221.0 150.0,1216.0 C167.0,1211.0 177.0,1199.3 200.0,1192.0 C223.0,1184.7 273.8,1181.5 288.0,1172.0 C302.2,1162.5 294.7,1138.7 285.0,1135.0Z" fill="#eaa49c"/><path d="M555.0,1135.0 C564.7,1131.3 587.5,1146.2 610.0,1150.0 C632.5,1153.8 668.0,1146.0 690.0,1158.0 C712.0,1170.0 742.0,1212.3 742.0,1222.0 C742.0,1231.7 707.0,1221.0 690.0,1216.0 C673.0,1211.0 663.0,1199.3 640.0,1192.0 C617.0,1184.7 566.2,1181.5 552.0,1172.0 C537.8,1162.5 545.3,1138.7 555.0,1135.0Z" fill="#eaa49c"/><path d="M165.0,500.0 C166.7,495.0 156.7,482.5 150.0,470.0 C143.3,457.5 131.3,428.3 125.0,425.0 C118.7,421.7 117.5,448.8 112.0,450.0 C106.5,451.2 94.0,430.0 92.0,432.0 C90.0,434.0 100.7,455.7 100.0,462.0 C99.3,468.3 86.0,466.7 88.0,470.0 C90.0,473.3 103.3,477.0 112.0,482.0 C120.7,487.0 131.2,497.0 140.0,500.0 C148.8,503.0 163.3,505.0 165.0,500.0Z" fill="#eaa49c"/><path d="M675.0,500.0 C673.3,495.0 683.3,482.5 690.0,470.0 C696.7,457.5 708.7,428.3 715.0,425.0 C721.3,421.7 722.5,448.8 728.0,450.0 C733.5,451.2 746.0,430.0 748.0,432.0 C750.0,434.0 739.3,455.7 740.0,462.0 C740.7,468.3 754.0,466.7 752.0,470.0 C750.0,473.3 736.7,477.0 728.0,482.0 C719.3,487.0 708.8,497.0 700.0,500.0 C691.2,503.0 676.7,505.0 675.0,500.0Z" fill="#eaa49c"/><path d="M320.0,495.0 C310.0,482.0 275.8,520.3 255.0,522.0 C234.2,523.7 210.5,512.0 195.0,505.0 C179.5,498.0 170.7,481.3 162.0,480.0 C153.3,478.7 141.7,485.7 143.0,497.0 C144.3,508.3 158.0,530.5 170.0,548.0 C182.0,565.5 197.5,584.2 215.0,602.0 C232.5,619.8 258.3,655.3 275.0,655.0 C291.7,654.7 307.5,626.7 315.0,600.0 C322.5,573.3 330.0,508.0 320.0,495.0Z" fill="#cfc8c0"/><path d="M520.0,495.0 C530.0,482.0 564.2,520.3 585.0,522.0 C605.8,523.7 629.5,512.0 645.0,505.0 C660.5,498.0 669.3,481.3 678.0,480.0 C686.7,478.7 698.3,485.7 697.0,497.0 C695.7,508.3 682.0,530.5 670.0,548.0 C658.0,565.5 642.5,584.2 625.0,602.0 C607.5,619.8 581.7,655.3 565.0,655.0 C548.3,654.7 532.5,626.7 525.0,600.0 C517.5,573.3 510.0,508.0 520.0,495.0Z" fill="#cfc8c0"/><path d="M225.0,1040.0 C232.5,1044.2 240.0,1066.7 250.0,1085.0 C260.0,1103.3 278.3,1135.0 285.0,1150.0 C291.7,1165.0 294.2,1171.7 290.0,1175.0 C285.8,1178.3 270.0,1179.2 260.0,1170.0 C250.0,1160.8 239.2,1138.3 230.0,1120.0 C220.8,1101.7 205.8,1073.3 205.0,1060.0 C204.2,1046.7 217.5,1035.8 225.0,1040.0Z" fill="#cfc8c0"/><path d="M615.0,1040.0 C607.5,1044.2 600.0,1066.7 590.0,1085.0 C580.0,1103.3 561.7,1135.0 555.0,1150.0 C548.3,1165.0 545.8,1171.7 550.0,1175.0 C554.2,1178.3 570.0,1179.2 580.0,1170.0 C590.0,1160.8 600.8,1138.3 610.0,1120.0 C619.2,1101.7 634.2,1073.3 635.0,1060.0 C635.8,1046.7 622.5,1035.8 615.0,1040.0Z" fill="#cfc8c0"/><path d="M420.0,470.0 C456.7,470.0 506.7,465.0 530.0,480.0 C553.3,495.0 552.5,531.7 560.0,560.0 C567.5,588.3 570.0,618.3 575.0,650.0 C580.0,681.7 583.8,716.7 590.0,750.0 C596.2,783.3 603.7,821.7 612.0,850.0 C620.3,878.3 633.7,898.3 640.0,920.0 C646.3,941.7 651.3,958.3 650.0,980.0 C648.7,1001.7 642.0,1032.5 632.0,1050.0 C622.0,1067.5 608.7,1074.7 590.0,1085.0 C571.3,1095.3 540.0,1101.2 520.0,1112.0 C500.0,1122.8 486.7,1141.0 470.0,1150.0 C453.3,1159.0 436.7,1166.0 420.0,1166.0 C403.3,1166.0 386.7,1159.0 370.0,1150.0 C353.3,1141.0 340.0,1122.8 320.0,1112.0 C300.0,1101.2 268.7,1095.3 250.0,1085.0 C231.3,1074.7 218.0,1067.5 208.0,1050.0 C198.0,1032.5 191.3,1001.7 190.0,980.0 C188.7,958.3 193.7,941.7 200.0,920.0 C206.3,898.3 219.7,878.3 228.0,850.0 C236.3,821.7 243.8,783.3 250.0,750.0 C256.2,716.7 260.0,681.7 265.0,650.0 C270.0,618.3 272.5,588.3 280.0,560.0 C287.5,531.7 286.7,495.0 310.0,480.0 C333.3,465.0 383.3,470.0 420.0,470.0Z" fill="#d3cdc6"/><path d="M420.0,492.0 C446.0,492.0 478.8,495.3 498.0,510.0 C517.2,524.7 526.3,548.3 535.0,580.0 C543.7,611.7 544.2,663.3 550.0,700.0 C555.8,736.7 563.3,766.7 570.0,800.0 C576.7,833.3 588.3,866.7 590.0,900.0 C591.7,933.3 591.7,971.7 580.0,1000.0 C568.3,1028.3 546.7,1053.3 520.0,1070.0 C493.3,1086.7 453.3,1100.0 420.0,1100.0 C386.7,1100.0 346.7,1086.7 320.0,1070.0 C293.3,1053.3 271.7,1028.3 260.0,1000.0 C248.3,971.7 248.3,933.3 250.0,900.0 C251.7,866.7 263.3,833.3 270.0,800.0 C276.7,766.7 284.2,736.7 290.0,700.0 C295.8,663.3 296.3,611.7 305.0,580.0 C313.7,548.3 322.8,524.7 342.0,510.0 C361.2,495.3 394.0,492.0 420.0,492.0Z" fill="#e4e0de"/><path d="M335.0,392.0 C324.8,391.7 300.5,417.7 287.0,430.0 C273.5,442.3 255.8,457.7 254.0,466.0 C252.2,474.3 264.7,479.0 276.0,480.0 C287.3,481.0 310.0,480.0 322.0,472.0 C334.0,464.0 345.8,445.3 348.0,432.0 C350.2,418.7 345.2,392.3 335.0,392.0Z" fill="#eeaaa2"/><path d="M505.0,392.0 C515.2,391.7 539.5,417.7 553.0,430.0 C566.5,442.3 584.2,457.7 586.0,466.0 C587.8,474.3 575.3,479.0 564.0,480.0 C552.7,481.0 530.0,480.0 518.0,472.0 C506.0,464.0 494.2,445.3 492.0,432.0 C489.8,418.7 494.8,392.3 505.0,392.0Z" fill="#eeaaa2"/><path d="M420.0,232.0 C430.7,232.0 443.7,236.7 452.0,248.0 C460.3,259.3 463.7,283.8 470.0,300.0 C476.3,316.2 481.7,331.7 490.0,345.0 C498.3,358.3 512.2,367.5 520.0,380.0 C527.8,392.5 535.0,406.7 537.0,420.0 C539.0,433.3 537.3,448.7 532.0,460.0 C526.7,471.3 523.7,481.3 505.0,488.0 C486.3,494.7 448.3,500.0 420.0,500.0 C391.7,500.0 353.7,494.7 335.0,488.0 C316.3,481.3 313.3,471.3 308.0,460.0 C302.7,448.7 301.0,433.3 303.0,420.0 C305.0,406.7 312.2,392.5 320.0,380.0 C327.8,367.5 341.7,358.3 350.0,345.0 C358.3,331.7 363.7,316.2 370.0,300.0 C376.3,283.8 379.7,259.3 388.0,248.0 C396.3,236.7 409.3,232.0 420.0,232.0Z" fill="#e2dedb"/><path d="M318,470 C360,440 480,440 522,470 C480,458 360,458 318,470 Z" fill="#c2bab2" opacity="0.6"/><ellipse cx="373" cy="336" rx="6" ry="13" fill="#c8403c" transform="rotate(-28 373 336)"/><ellipse cx="467" cy="336" rx="6" ry="13" fill="#c8403c" transform="rotate(28 467 336)"/><path d="M402,240 C408,228 432,228 438,240 C430,250 410,250 402,240 Z" fill="#eaa49c"/></g>
<circle cx="891.50" cy="227.50" r="8.6" fill="#000" />
</g>
<g id="panel_c">
<text transform="translate(1396.50 18.00)" font-size="24.5" font-weight="bold" stroke="#000" stroke-width="0.4">c</text>
<line x1="1541.40" y1="55.10" x2="1541.40" y2="338.10" stroke="#000" stroke-width="2.8" />
<line x1="1530.40" y1="328.10" x2="1927.60" y2="328.10" stroke="#000" stroke-width="2.8" />
<line x1="1530.40" y1="56.40" x2="1541.40" y2="56.40" stroke="#000" stroke-width="2.8" />
<text transform="translate(1473.11 65.00)" font-size="24" stroke="#000" stroke-width="0.4">2000</text>
<line x1="1530.40" y1="124.40" x2="1541.40" y2="124.40" stroke="#000" stroke-width="2.8" />
<text transform="translate(1473.11 133.00)" font-size="24" stroke="#000" stroke-width="0.4">1500</text>
<line x1="1530.40" y1="192.40" x2="1541.40" y2="192.40" stroke="#000" stroke-width="2.8" />
<text transform="translate(1473.11 201.00)" font-size="24" stroke="#000" stroke-width="0.4">1000</text>
<line x1="1530.40" y1="260.20" x2="1541.40" y2="260.20" stroke="#000" stroke-width="2.8" />
<text transform="translate(1486.46 268.80)" font-size="24" stroke="#000" stroke-width="0.4">500</text>
<line x1="1530.40" y1="328.10" x2="1541.40" y2="328.10" stroke="#000" stroke-width="2.8" />
<text transform="translate(1513.15 336.70)" font-size="24" stroke="#000" stroke-width="0.4">0</text>
<line x1="1541.40" y1="328.10" x2="1541.40" y2="338.10" stroke="#000" stroke-width="2.8" />
<line x1="1618.40" y1="328.10" x2="1618.40" y2="338.10" stroke="#000" stroke-width="2.8" />
<line x1="1695.50" y1="328.10" x2="1695.50" y2="338.10" stroke="#000" stroke-width="2.8" />
<line x1="1772.50" y1="328.10" x2="1772.50" y2="338.10" stroke="#000" stroke-width="2.8" />
<line x1="1849.60" y1="328.10" x2="1849.60" y2="338.10" stroke="#000" stroke-width="2.8" />
<line x1="1926.20" y1="328.10" x2="1926.20" y2="338.10" stroke="#000" stroke-width="2.8" />
<text transform="translate(1508.33 363.50)" font-size="24" stroke="#000" stroke-width="0.4">0</text>
<text transform="translate(1589.93 363.50)" font-size="24" stroke="#000" stroke-width="0.4">3</text>
<text transform="translate(1664.63 363.50)" font-size="24" stroke="#000" stroke-width="0.4">6</text>
<text transform="translate(1740.33 363.50)" font-size="24" stroke="#000" stroke-width="0.4">9</text>
<text transform="translate(1819.45 363.50)" font-size="24" stroke="#000" stroke-width="0.4">12</text>
<text transform="translate(1882.65 363.50)" font-size="24" stroke="#000" stroke-width="0.4">15</text>
<text transform="translate(1558.20 399.20) scale(0.9400 1)" font-size="25.5" stroke="#000" stroke-width="0.4" letter-spacing="1.199">Days after SAM <tspan font-style="italic">i.v</tspan> injection</text>
<text transform="translate(1459.40 189.70) rotate(-90) translate(-122.25 0)" font-size="24.5" stroke="#000" stroke-width="0.4" letter-spacing="0.903">Tumor volume (mm<tspan font-size="17.15" dy="-12.25">3</tspan><tspan dy="12.25">)</tspan></text>
<polyline points="1541.40,314.30 1618.40,316.00 1695.50,324.00 1772.50,325.80 1849.60,322.80 1926.20,320.50" fill="none" stroke="#0a0acd" stroke-width="3.8" stroke-linejoin="round" />
<polygon points="1541.40,308.14 1547.56,314.30 1541.40,320.46 1535.24,314.30" fill="#0a0acd" />
<polygon points="1618.40,309.84 1624.56,316.00 1618.40,322.16 1612.24,316.00" fill="#0a0acd" />
<polygon points="1695.50,317.84 1701.66,324.00 1695.50,330.16 1689.34,324.00" fill="#0a0acd" />
<polygon points="1772.50,319.64 1778.66,325.80 1772.50,331.96 1766.34,325.80" fill="#0a0acd" />
<polygon points="1849.60,316.64 1855.76,322.80 1849.60,328.96 1843.44,322.80" fill="#0a0acd" />
<polygon points="1926.20,314.34 1932.36,320.50 1926.20,326.66 1920.04,320.50" fill="#0a0acd" />
<line x1="1926.20" y1="297.50" x2="1926.20" y2="286.00" stroke="#0a8a0a" stroke-width="2.8" />
<line x1="1920.20" y1="286.00" x2="1932.20" y2="286.00" stroke="#0a8a0a" stroke-width="2.8" />
<line x1="1849.60" y1="304.40" x2="1849.60" y2="299.00" stroke="#0a8a0a" stroke-width="2.8" />
<line x1="1843.60" y1="299.00" x2="1855.60" y2="299.00" stroke="#0a8a0a" stroke-width="2.8" />
<polyline points="1541.40,313.60 1618.40,313.00 1695.50,319.40 1772.50,317.80 1849.60,304.40 1926.20,297.50" fill="none" stroke="#0a8a0a" stroke-width="3.8" stroke-linejoin="round" />
<polygon points="1541.40,320.04 1547.56,309.12 1535.24,309.12" fill="#0a8a0a" />
<polygon points="1618.40,319.44 1624.56,308.52 1612.24,308.52" fill="#0a8a0a" />
<polygon points="1695.50,325.84 1701.66,314.92 1689.34,314.92" fill="#0a8a0a" />
<polygon points="1772.50,324.24 1778.66,313.32 1766.34,313.32" fill="#0a8a0a" />
<polygon points="1849.60,310.84 1855.76,299.92 1843.44,299.92" fill="#0a8a0a" />
<polygon points="1926.20,303.94 1932.36,293.02 1920.04,293.02" fill="#0a8a0a" />
<line x1="1926.20" y1="276.40" x2="1926.20" y2="260.70" stroke="#c3c300" stroke-width="2.8" />
<line x1="1920.20" y1="260.70" x2="1932.20" y2="260.70" stroke="#c3c300" stroke-width="2.8" />
<line x1="1849.60" y1="293.60" x2="1849.60" y2="283.70" stroke="#c3c300" stroke-width="2.8" />
<line x1="1843.60" y1="283.70" x2="1855.60" y2="283.70" stroke="#c3c300" stroke-width="2.8" />
<line x1="1772.50" y1="311.30" x2="1772.50" y2="306.00" stroke="#c3c300" stroke-width="2.8" />
<line x1="1766.50" y1="306.00" x2="1778.50" y2="306.00" stroke="#c3c300" stroke-width="2.8" />
<polyline points="1541.40,314.30 1618.40,312.50 1695.50,317.50 1772.50,311.30 1849.60,293.60 1926.20,276.40" fill="none" stroke="#c3c300" stroke-width="3.8" stroke-linejoin="round" />
<polygon points="1541.40,307.86 1547.56,318.78 1535.24,318.78" fill="#c3c300" />
<polygon points="1618.40,306.06 1624.56,316.98 1612.24,316.98" fill="#c3c300" />
<polygon points="1695.50,311.06 1701.66,321.98 1689.34,321.98" fill="#c3c300" />
<polygon points="1772.50,304.86 1778.66,315.78 1766.34,315.78" fill="#c3c300" />
<polygon points="1849.60,287.16 1855.76,298.08 1843.44,298.08" fill="#c3c300" />
<polygon points="1926.20,269.96 1932.36,280.88 1920.04,280.88" fill="#c3c300" />
<line x1="1926.20" y1="252.00" x2="1926.20" y2="243.00" stroke="#ff0000" stroke-width="2.8" />
<line x1="1920.20" y1="243.00" x2="1932.20" y2="243.00" stroke="#ff0000" stroke-width="2.8" />
<line x1="1926.20" y1="252.00" x2="1926.20" y2="257.00" stroke="#ff0000" stroke-width="2.8" />
<line x1="1920.20" y1="257.00" x2="1932.20" y2="257.00" stroke="#ff0000" stroke-width="2.8" />
<line x1="1849.60" y1="267.00" x2="1849.60" y2="260.70" stroke="#ff0000" stroke-width="2.8" />
<line x1="1843.60" y1="260.70" x2="1855.60" y2="260.70" stroke="#ff0000" stroke-width="2.8" />
<line x1="1849.60" y1="267.00" x2="1849.60" y2="272.00" stroke="#ff0000" stroke-width="2.8" />
<line x1="1843.60" y1="272.00" x2="1855.60" y2="272.00" stroke="#ff0000" stroke-width="2.8" />
<line x1="1772.50" y1="296.40" x2="1772.50" y2="291.80" stroke="#ff0000" stroke-width="2.8" />
<line x1="1766.50" y1="291.80" x2="1778.50" y2="291.80" stroke="#ff0000" stroke-width="2.8" />
<polyline points="1541.40,309.00 1618.40,310.60 1695.50,309.70 1772.50,296.40 1849.60,267.00 1926.20,252.00" fill="none" stroke="#ff0000" stroke-width="3.8" stroke-linejoin="round" />
<rect x="1535.80" y="303.40" width="11.20" height="11.20" fill="#ff0000" />
<rect x="1612.80" y="305.00" width="11.20" height="11.20" fill="#ff0000" />
<rect x="1689.90" y="304.10" width="11.20" height="11.20" fill="#ff0000" />
<rect x="1766.90" y="290.80" width="11.20" height="11.20" fill="#ff0000" />
<rect x="1844.00" y="261.40" width="11.20" height="11.20" fill="#ff0000" />
<rect x="1920.60" y="246.40" width="11.20" height="11.20" fill="#ff0000" />
<line x1="1926.20" y1="168.70" x2="1926.20" y2="158.40" stroke="#000" stroke-width="2.8" />
<line x1="1920.20" y1="158.40" x2="1932.20" y2="158.40" stroke="#000" stroke-width="2.8" />
<line x1="1849.60" y1="206.70" x2="1849.60" y2="202.00" stroke="#000" stroke-width="2.8" />
<line x1="1843.60" y1="202.00" x2="1855.60" y2="202.00" stroke="#000" stroke-width="2.8" />
<line x1="1772.50" y1="255.00" x2="1772.50" y2="250.80" stroke="#000" stroke-width="2.8" />
<line x1="1766.50" y1="250.80" x2="1778.50" y2="250.80" stroke="#000" stroke-width="2.8" />
<polyline points="1541.40,308.40 1618.40,297.10 1695.50,280.30 1772.50,255.00 1849.60,206.70 1926.20,168.70" fill="none" stroke="#000" stroke-width="3.8" stroke-linejoin="round" />
<circle cx="1541.40" cy="308.40" r="5.6" fill="#000" />
<circle cx="1618.40" cy="297.10" r="5.6" fill="#000" />
<circle cx="1695.50" cy="280.30" r="5.6" fill="#000" />
<circle cx="1772.50" cy="255.00" r="5.6" fill="#000" />
<circle cx="1849.60" cy="206.70" r="5.6" fill="#000" />
<circle cx="1926.20" cy="168.70" r="5.6" fill="#000" />
<line x1="1563.00" y1="21.00" x2="1590.40" y2="21.00" stroke="#000" stroke-width="4.2" />
<circle cx="1576.70" cy="21.00" r="5.6" fill="#000" />
<text transform="translate(1606.40 29.60) scale(0.9620 1)" font-size="24" stroke="#000" stroke-width="0.4">PBS</text>
<line x1="1563.00" y1="53.00" x2="1590.40" y2="53.00" stroke="#ff0000" stroke-width="4.2" />
<rect x="1571.10" y="47.40" width="11.20" height="11.20" fill="#ff0000" />
<text transform="translate(1606.40 61.60) scale(0.9620 1)" font-size="24" stroke="#000" stroke-width="0.4">SAM-E</text>
<line x1="1563.00" y1="85.00" x2="1590.40" y2="85.00" stroke="#c3c300" stroke-width="4.2" />
<polygon points="1576.70,78.56 1582.86,89.48 1570.54,89.48" fill="#c3c300" />
<text transform="translate(1606.40 93.60) scale(0.9620 1)" font-size="24" stroke="#000" stroke-width="0.4">SAM-FR(+)</text>
<line x1="1563.00" y1="117.00" x2="1590.40" y2="117.00" stroke="#0a8a0a" stroke-width="4.2" />
<polygon points="1576.70,123.44 1582.86,112.52 1570.54,112.52" fill="#0a8a0a" />
<text transform="translate(1606.40 125.60) scale(0.9620 1)" font-size="24" stroke="#000" stroke-width="0.4">SAM-CR(+)</text>
<line x1="1563.00" y1="149.00" x2="1590.40" y2="149.00" stroke="#0a0acd" stroke-width="4.2" />
<polygon points="1576.70,142.84 1582.86,149.00 1576.70,155.16 1570.54,149.00" fill="#0a0acd" />
<text transform="translate(1606.40 157.60) scale(0.9620 1)" font-size="24" stroke="#000" stroke-width="0.4">SAM-FC(+)</text>
<polyline points="1657.00,23.20 1861.00,23.20 1861.00,153.40" fill="none" stroke="#000" stroke-width="2.4" stroke-linejoin="miter" />
<polyline points="1695.50,52.00 1821.50,52.00 1821.50,153.40" fill="none" stroke="#000" stroke-width="2.4" stroke-linejoin="miter" />
<polyline points="1761.00,83.00 1793.00,83.00 1793.00,153.40" fill="none" stroke="#000" stroke-width="2.4" stroke-linejoin="miter" />
<polyline points="1733.00,83.00 1745.60,83.00 1745.60,114.50 1733.00,114.50" fill="none" stroke="#000" stroke-width="2.4" stroke-linejoin="miter" />
<polyline points="1733.00,121.50 1745.60,121.50 1745.60,153.40" fill="none" stroke="#000" stroke-width="2.4" stroke-linejoin="miter" />
<line x1="1733.00" y1="153.40" x2="1862.20" y2="153.40" stroke="#000" stroke-width="2.4" />
<text transform="translate(1751.00 104.60)" font-size="22" stroke="#000" stroke-width="0.4">ns</text>
<text transform="translate(1752.90 151.13)" font-size="31" stroke="#000" stroke-width="0.5">*</text>
<text transform="translate(1790.40 92.49) rotate(90)" font-size="32" stroke="#000" stroke-width="0.5">****</text>
<text transform="translate(1818.40 72.99) rotate(90)" font-size="32" stroke="#000" stroke-width="0.5">****</text>
<text transform="translate(1860.40 59.49) rotate(90)" font-size="32" stroke="#000" stroke-width="0.5">****</text>
</g>
<g id="panel_d">
<text transform="translate(60.50 533.00)" font-size="24.5" font-weight="bold" stroke="#000" stroke-width="0.4">d</text>
<line x1="133.70" y1="542.90" x2="164.00" y2="542.90" stroke="#000" stroke-width="3.0" />
<circle cx="148.85" cy="542.90" r="4.4" fill="#000" />
<text transform="translate(181.50 550.20) scale(1.1962 1)" font-size="21.6" stroke="#000" stroke-width="0.4">PBS</text>
<line x1="133.70" y1="574.30" x2="164.00" y2="574.30" stroke="#ff0000" stroke-width="3.0" />
<rect x="144.45" y="569.90" width="8.80" height="8.80" fill="#ff0000" />
<text transform="translate(181.50 581.60) scale(1.1899 1)" font-size="21.6" stroke="#000" stroke-width="0.4">SAM-E</text>
<line x1="133.70" y1="603.30" x2="164.00" y2="603.30" stroke="#c3c300" stroke-width="3.0" />
<polygon points="148.85,608.36 153.69,599.78 144.01,599.78" fill="#c3c300" />
<text transform="translate(181.50 610.60) scale(1.1922 1)" font-size="21.6" stroke="#000" stroke-width="0.4">SAM-FR(+)</text>
<line x1="366.30" y1="542.90" x2="397.00" y2="542.90" stroke="#0a8a0a" stroke-width="3.0" />
<polygon points="381.65,537.84 386.49,546.42 376.81,546.42" fill="#0a8a0a" />
<text transform="translate(413.80 550.20) scale(1.1988 1)" font-size="21.6" stroke="#000" stroke-width="0.4">SAM-CR(+)</text>
<line x1="366.30" y1="574.30" x2="397.00" y2="574.30" stroke="#0a0acd" stroke-width="3.0" />
<polygon points="381.65,569.46 386.49,574.30 381.65,579.14 376.81,574.30" fill="#0a0acd" />
<text transform="translate(413.80 581.60) scale(1.1950 1)" font-size="21.6" stroke="#000" stroke-width="0.4">SAM-FC(+)</text>
<line x1="137.00" y1="629.10" x2="137.00" y2="867.00" stroke="#000" stroke-width="2.6" />
<line x1="124.50" y1="857.40" x2="568.30" y2="857.40" stroke="#000" stroke-width="2.6" />
<line x1="124.50" y1="630.40" x2="137.00" y2="630.40" stroke="#000" stroke-width="2.6" />
<text transform="translate(77.15 638.40) scale(1.1200 1)" font-size="24" stroke="#000" stroke-width="0.4">100</text>
<line x1="124.50" y1="675.90" x2="137.00" y2="675.90" stroke="#000" stroke-width="2.6" />
<text transform="translate(92.10 683.90) scale(1.1200 1)" font-size="24" stroke="#000" stroke-width="0.4">80</text>
<line x1="124.50" y1="721.10" x2="137.00" y2="721.10" stroke="#000" stroke-width="2.6" />
<text transform="translate(92.10 729.10) scale(1.1200 1)" font-size="24" stroke="#000" stroke-width="0.4">60</text>
<line x1="124.50" y1="766.70" x2="137.00" y2="766.70" stroke="#000" stroke-width="2.6" />
<text transform="translate(92.10 774.70) scale(1.1200 1)" font-size="24" stroke="#000" stroke-width="0.4">40</text>
<line x1="124.50" y1="811.90" x2="137.00" y2="811.90" stroke="#000" stroke-width="2.6" />
<text transform="translate(92.10 819.90) scale(1.1200 1)" font-size="24" stroke="#000" stroke-width="0.4">20</text>
<line x1="124.50" y1="857.40" x2="137.00" y2="857.40" stroke="#000" stroke-width="2.6" />
<text transform="translate(107.05 865.40) scale(1.1200 1)" font-size="24" stroke="#000" stroke-width="0.4">0</text>
<line x1="137.00" y1="857.40" x2="137.00" y2="867.00" stroke="#000" stroke-width="2.6" />
<text transform="translate(128.09 894.80) scale(1.0800 1)" font-size="24" stroke="#000" stroke-width="0.4">0</text>
<line x1="279.80" y1="857.40" x2="279.80" y2="867.00" stroke="#000" stroke-width="2.6" />
<text transform="translate(266.58 894.80) scale(1.0800 1)" font-size="24" stroke="#000" stroke-width="0.4">30</text>
<line x1="423.40" y1="857.40" x2="423.40" y2="867.00" stroke="#000" stroke-width="2.6" />
<text transform="translate(410.28 894.80) scale(1.0800 1)" font-size="24" stroke="#000" stroke-width="0.4">60</text>
<line x1="567.00" y1="857.40" x2="567.00" y2="867.00" stroke="#000" stroke-width="2.6" />
<text transform="translate(553.18 894.80) scale(1.0800 1)" font-size="24" stroke="#000" stroke-width="0.4">90</text>
<polyline points="137.00,630.40 266.00,630.40 266.00,672.30 280.33,672.30 280.33,694.70 323.33,694.70 323.33,727.70 337.67,727.70 337.67,749.20 380.67,749.20 380.67,760.70 567.00,760.70 567.00,760.70" fill="none" stroke="#c3c300" stroke-width="3.0" stroke-linejoin="miter" />
<polygon points="266.00,677.36 270.84,668.78 261.16,668.78" fill="#c3c300" />
<polygon points="280.33,699.76 285.17,691.18 275.49,691.18" fill="#c3c300" />
<polygon points="323.33,732.76 328.17,724.18 318.49,724.18" fill="#c3c300" />
<polygon points="337.67,754.26 342.51,745.68 332.83,745.68" fill="#c3c300" />
<polygon points="380.67,765.76 385.51,757.18 375.83,757.18" fill="#c3c300" />
<polygon points="567.00,765.76 571.84,757.18 562.16,757.18" fill="#c3c300" />
<polyline points="137.00,630.40 208.67,630.40 208.67,641.30 266.00,641.30 266.00,662.70 280.33,662.70 280.33,684.20 337.67,684.20 337.67,728.40 567.00,728.40 567.00,728.40" fill="none" stroke="#0a8a0a" stroke-width="3.0" stroke-linejoin="miter" />
<polygon points="208.67,636.24 213.51,644.82 203.83,644.82" fill="#0a8a0a" />
<polygon points="266.00,657.64 270.84,666.22 261.16,666.22" fill="#0a8a0a" />
<polygon points="280.33,679.14 285.17,687.72 275.49,687.72" fill="#0a8a0a" />
<polygon points="337.67,723.34 342.51,731.92 332.83,731.92" fill="#0a8a0a" />
<polygon points="567.00,723.34 571.84,731.92 562.16,731.92" fill="#0a8a0a" />
<polyline points="137.00,630.40 280.33,630.40 280.33,644.60 294.67,644.60 294.67,651.20 309.00,651.20 309.00,679.20 323.33,679.20 323.33,692.40 567.00,692.40 567.00,692.40" fill="none" stroke="#0a0acd" stroke-width="3.0" stroke-linejoin="miter" />
<polygon points="280.33,640.20 284.73,644.60 280.33,649.00 275.93,644.60" fill="#0a0acd" />
<polygon points="294.67,646.80 299.07,651.20 294.67,655.60 290.27,651.20" fill="#0a0acd" />
<polygon points="309.00,674.80 313.40,679.20 309.00,683.60 304.60,679.20" fill="#0a0acd" />
<polygon points="323.33,688.00 327.73,692.40 323.33,696.80 318.93,692.40" fill="#0a0acd" />
<polygon points="567.00,688.00 571.40,692.40 567.00,696.80 562.60,692.40" fill="#0a0acd" />
<polyline points="137.00,630.40 266.00,630.40 266.00,697.00 280.33,697.00 280.33,735.00 294.67,735.00 294.67,782.20 309.00,782.20 309.00,819.80 323.33,819.80 323.33,857.40" fill="none" stroke="#ff0000" stroke-width="3.0" stroke-linejoin="miter" />
<rect x="261.60" y="692.60" width="8.80" height="8.80" fill="#ff0000" />
<rect x="275.93" y="730.60" width="8.80" height="8.80" fill="#ff0000" />
<rect x="290.27" y="777.80" width="8.80" height="8.80" fill="#ff0000" />
<rect x="304.60" y="815.40" width="8.80" height="8.80" fill="#ff0000" />
<rect x="318.93" y="853.00" width="8.80" height="8.80" fill="#ff0000" />
<polyline points="137.00,630.40 251.67,630.40 251.67,687.50 266.00,687.50 266.00,763.00 280.33,763.00 280.33,839.00 294.67,839.00 294.67,857.40" fill="none" stroke="#000" stroke-width="3.0" stroke-linejoin="miter" />
<circle cx="251.67" cy="687.50" r="4.4" fill="#000" />
<circle cx="266.00" cy="763.00" r="4.4" fill="#000" />
<circle cx="280.33" cy="839.00" r="4.4" fill="#000" />
<circle cx="294.67" cy="857.40" r="4.4" fill="#000" />
<text transform="translate(194.30 937.80) scale(0.9400 1)" font-size="25.5" stroke="#000" stroke-width="0.4" letter-spacing="1.223">Days after SAM <tspan font-style="italic">i.v</tspan> injection</text>
<text transform="translate(61.70 742.10) rotate(-90) translate(-58.90 0) scale(0.9503 1)" font-size="23" stroke="#000" stroke-width="0.4">Survival (%)</text>
<text transform="translate(533.58 637.36) scale(1.3700 1)" font-size="28.3" fill="#000" stroke="#000" stroke-width="0.5">****</text>
<text transform="translate(533.58 655.56) scale(1.3700 1)" font-size="28.3" fill="#ff0000" stroke="#ff0000" stroke-width="0.5">****</text>
<text transform="translate(532.50 671.40) scale(1.2300 1)" font-size="25.5" fill="#0a8a0a" stroke="#0a8a0a" stroke-width="0.4">ns</text>
<text transform="translate(533.76 693.36) scale(1.2000 1)" font-size="23" fill="#c3c300" stroke="#c3c300" stroke-width="0.5">*</text>
<text transform="translate(578.38 724.96) scale(1.3700 1)" font-size="28.3" fill="#000" stroke="#000" stroke-width="0.5">****</text>
<text transform="translate(578.38 742.96) scale(1.3700 1)" font-size="28.3" fill="#ff0000" stroke="#ff0000" stroke-width="0.5">****</text>
<text transform="translate(576.80 758.90) scale(1.2300 1)" font-size="25.5" fill="#c3c300" stroke="#c3c300" stroke-width="0.4">ns</text>
<text transform="translate(504.68 787.46) scale(1.3700 1)" font-size="28.3" fill="#000" stroke="#000" stroke-width="0.5">****</text>
<text transform="translate(504.68 805.06) scale(1.3700 1)" font-size="28.3" fill="#ff0000" stroke="#ff0000" stroke-width="0.5">****</text>
<text transform="translate(339.38 843.36) scale(1.3700 1)" font-size="28.3" fill="#000" stroke="#000" stroke-width="0.5">***</text>
</g>
<g id="panel_e">
<text transform="translate(690.50 533.00)" font-size="24.5" font-weight="bold" stroke="#000" stroke-width="0.4">e</text>
<line x1="728.30" y1="535.70" x2="754.80" y2="535.70" stroke="#000" stroke-width="3.8" />
<circle cx="741.55" cy="535.70" r="5.0" fill="#000" />
<text transform="translate(769.40 543.20) scale(0.9657 1)" font-size="21" stroke="#000" stroke-width="0.4">Naive mice</text>
<line x1="1027.50" y1="535.70" x2="1054.00" y2="535.70" stroke="#0a8a0a" stroke-width="3.8" />
<rect x="1036.15" y="531.10" width="9.20" height="9.20" fill="#0a8a0a" />
<text transform="translate(1069.30 543.20) scale(0.9711 1)" font-size="21" stroke="#000" stroke-width="0.4">SAM-CR(+)-pretreated mice</text>
<line x1="725.90" y1="571.40" x2="752.10" y2="571.40" stroke="#c3c300" stroke-width="3.8" />
<polygon points="739.00,565.65 744.50,575.40 733.50,575.40" fill="#c3c300" />
<text transform="translate(766.70 578.90) scale(0.9729 1)" font-size="21" stroke="#000" stroke-width="0.4">SAM-FR(+)-pretreated mice</text>
<line x1="1027.50" y1="571.40" x2="1054.00" y2="571.40" stroke="#0a0acd" stroke-width="3.8" />
<polygon points="1040.75,577.15 1046.25,567.40 1035.25,567.40" fill="#0a0acd" />
<text transform="translate(1069.30 578.90) scale(0.9717 1)" font-size="21" stroke="#000" stroke-width="0.4">SAM-FC(+)-pretreated mice</text>
<line x1="811.60" y1="607.50" x2="811.60" y2="856.30" stroke="#000" stroke-width="2.6" />
<line x1="800.60" y1="855.00" x2="1179.40" y2="855.00" stroke="#000" stroke-width="2.6" />
<line x1="800.60" y1="608.80" x2="811.60" y2="608.80" stroke="#000" stroke-width="2.6" />
<text transform="translate(744.24 617.40) scale(1.0500 1)" font-size="24" stroke="#000" stroke-width="0.4">2000</text>
<line x1="800.60" y1="670.40" x2="811.60" y2="670.40" stroke="#000" stroke-width="2.6" />
<text transform="translate(744.24 679.00) scale(1.0500 1)" font-size="24" stroke="#000" stroke-width="0.4">1500</text>
<line x1="800.60" y1="731.90" x2="811.60" y2="731.90" stroke="#000" stroke-width="2.6" />
<text transform="translate(744.24 740.50) scale(1.0500 1)" font-size="24" stroke="#000" stroke-width="0.4">1000</text>
<line x1="800.60" y1="793.10" x2="811.60" y2="793.10" stroke="#000" stroke-width="2.6" />
<text transform="translate(758.25 801.70) scale(1.0500 1)" font-size="24" stroke="#000" stroke-width="0.4">500</text>
<line x1="800.60" y1="855.00" x2="811.60" y2="855.00" stroke="#000" stroke-width="2.6" />
<text transform="translate(786.28 863.60) scale(1.0500 1)" font-size="24" stroke="#000" stroke-width="0.4">0</text>
<line x1="833.00" y1="855.00" x2="833.00" y2="864.00" stroke="#000" stroke-width="2.6" />
<line x1="940.10" y1="855.00" x2="940.10" y2="864.00" stroke="#000" stroke-width="2.6" />
<line x1="1047.20" y1="855.00" x2="1047.20" y2="864.00" stroke="#000" stroke-width="2.6" />
<line x1="1077.80" y1="855.00" x2="1077.80" y2="864.00" stroke="#000" stroke-width="2.6" />
<line x1="1108.40" y1="855.00" x2="1108.40" y2="864.00" stroke="#000" stroke-width="2.6" />
<line x1="1139.00" y1="855.00" x2="1139.00" y2="864.00" stroke="#000" stroke-width="2.6" />
<line x1="1169.60" y1="855.00" x2="1169.60" y2="864.00" stroke="#000" stroke-width="2.6" />
<text transform="translate(728.60 728.60) rotate(-90) translate(-126.50 0) scale(1.0404 1)" font-size="26" stroke="#000" stroke-width="0.4">Tumor volume (mm<tspan font-size="18.20" dy="-13.00">3</tspan><tspan dy="13.00">)</tspan></text>
<text transform="translate(843.60 882.50) rotate(-45) translate(-14.46 0)" font-size="26" stroke="#000" stroke-width="0.4">0</text>
<text transform="translate(950.70 882.50) rotate(-45) translate(-28.92 0)" font-size="26" stroke="#000" stroke-width="0.4">45</text>
<text transform="translate(1057.80 882.50) rotate(-45) translate(-28.92 0)" font-size="26" stroke="#000" stroke-width="0.4">90</text>
<text transform="translate(1088.40 882.50) rotate(-45) translate(-28.92 0)" font-size="26" stroke="#000" stroke-width="0.4">96</text>
<text transform="translate(1119.00 882.50) rotate(-45) translate(-41.45 0)" font-size="26" stroke="#000" stroke-width="0.4">112</text>
<text transform="translate(1149.60 882.50) rotate(-45) translate(-41.45 0)" font-size="26" stroke="#000" stroke-width="0.4">118</text>
<text transform="translate(1180.20 882.50) rotate(-45) translate(-43.38 0)" font-size="26" stroke="#000" stroke-width="0.4">124</text>
<text transform="translate(904.40 938.60)" font-size="25" stroke="#000" stroke-width="0.4" letter-spacing="0.862">Time (Days)</text>
<text transform="translate(824.50 658.10) scale(0.9746 1)" font-size="21" stroke="#000" stroke-width="0.4">Primary tumor</text>
<text transform="translate(812.60 685.30) scale(0.9624 1)" font-size="21" stroke="#000" stroke-width="0.4">1x10<tspan font-size="15.12" dy="-8.40">6</tspan><tspan dy="8.40"> CT26 cells</tspan></text>
<text transform="translate(1009.80 668.30) scale(0.9696 1)" font-size="21" stroke="#000" stroke-width="0.4">Rechallenge</text>
<text transform="translate(989.40 695.50) scale(0.9668 1)" font-size="21" stroke="#000" stroke-width="0.4">2x10<tspan font-size="15.12" dy="-8.40">6</tspan><tspan dy="8.40"> CT26 cells</tspan></text>
<text transform="translate(862.10 751.60)" font-size="24" stroke="#000" stroke-width="0.4">SAM</text>
<text transform="translate(829.60 778.80) scale(0.9821 1)" font-size="24" stroke="#000" stroke-width="0.4"><tspan font-style="italic">i.v</tspan> injection</text>
<line x1="818.40" y1="698.90" x2="818.40" y2="828.30" stroke="#000" stroke-width="1.3" />
<polygon points="818.40,842.70 810.80,824.70 826.00,824.70" fill="#000" />
<line x1="833.00" y1="788.00" x2="833.00" y2="813.70" stroke="#000" stroke-width="1.3" />
<polygon points="833.00,828.10 825.40,810.10 840.60,810.10" fill="#000" />
<line x1="1048.90" y1="705.00" x2="1048.90" y2="825.60" stroke="#000" stroke-width="1.3" />
<polygon points="1048.90,840.00 1041.30,822.00 1056.50,822.00" fill="#000" />
<line x1="1169.60" y1="641.80" x2="1169.60" y2="638.00" stroke="#000" stroke-width="2.8" />
<line x1="1163.60" y1="638.00" x2="1175.60" y2="638.00" stroke="#000" stroke-width="2.8" />
<line x1="1154.30" y1="699.60" x2="1154.30" y2="695.50" stroke="#000" stroke-width="2.8" />
<line x1="1148.30" y1="695.50" x2="1160.30" y2="695.50" stroke="#000" stroke-width="2.8" />
<line x1="1139.00" y1="726.80" x2="1139.00" y2="723.00" stroke="#000" stroke-width="2.8" />
<line x1="1133.00" y1="723.00" x2="1145.00" y2="723.00" stroke="#000" stroke-width="2.8" />
<line x1="1123.70" y1="769.30" x2="1123.70" y2="765.50" stroke="#000" stroke-width="2.8" />
<line x1="1117.70" y1="765.50" x2="1129.70" y2="765.50" stroke="#000" stroke-width="2.8" />
<polyline points="1077.80,846.80 1093.10,830.50 1108.40,805.00 1123.70,769.30 1139.00,726.80 1154.30,699.60 1169.60,641.80" fill="none" stroke="#000" stroke-width="3.8" stroke-linejoin="round" />
<circle cx="1077.80" cy="846.80" r="5.0" fill="#000" />
<circle cx="1093.10" cy="830.50" r="5.0" fill="#000" />
<circle cx="1108.40" cy="805.00" r="5.0" fill="#000" />
<circle cx="1123.70" cy="769.30" r="5.0" fill="#000" />
<circle cx="1139.00" cy="726.80" r="5.0" fill="#000" />
<circle cx="1154.30" cy="699.60" r="5.0" fill="#000" />
<circle cx="1169.60" cy="641.80" r="5.0" fill="#000" />
<line x1="1169.60" y1="763.50" x2="1169.60" y2="743.10" stroke="#c3c300" stroke-width="2.8" />
<line x1="1163.60" y1="743.10" x2="1175.60" y2="743.10" stroke="#c3c300" stroke-width="2.8" />
<line x1="1154.30" y1="782.90" x2="1154.30" y2="763.50" stroke="#c3c300" stroke-width="2.8" />
<line x1="1148.30" y1="763.50" x2="1160.30" y2="763.50" stroke="#c3c300" stroke-width="2.8" />
<line x1="1139.00" y1="799.90" x2="1139.00" y2="779.80" stroke="#c3c300" stroke-width="2.8" />
<line x1="1133.00" y1="779.80" x2="1145.00" y2="779.80" stroke="#c3c300" stroke-width="2.8" />
<line x1="1123.70" y1="821.30" x2="1123.70" y2="812.80" stroke="#c3c300" stroke-width="2.8" />
<line x1="1117.70" y1="812.80" x2="1129.70" y2="812.80" stroke="#c3c300" stroke-width="2.8" />
<line x1="1108.40" y1="834.90" x2="1108.40" y2="828.00" stroke="#c3c300" stroke-width="2.8" />
<line x1="1102.40" y1="828.00" x2="1114.40" y2="828.00" stroke="#c3c300" stroke-width="2.8" />
<polyline points="817.70,855.00 833.00,841.00 848.30,841.00 863.60,849.50 878.90,855.00 894.20,855.00 909.50,855.00 924.80,855.00 940.10,855.00 955.40,855.00 970.70,855.00 986.00,855.00 1001.30,855.00 1016.60,855.00 1031.90,855.00 1047.20,855.00 1062.50,853.00 1077.80,850.90 1093.10,846.80 1108.40,834.90 1123.70,821.30 1139.00,799.90 1154.30,782.90 1169.60,763.50" fill="none" stroke="#c3c300" stroke-width="3.8" stroke-linejoin="round" />
<polygon points="817.70,848.56 823.86,859.48 811.54,859.48" fill="#c3c300" />
<polygon points="833.00,834.56 839.16,845.48 826.84,845.48" fill="#c3c300" />
<polygon points="848.30,834.56 854.46,845.48 842.14,845.48" fill="#c3c300" />
<polygon points="863.60,843.06 869.76,853.98 857.44,853.98" fill="#c3c300" />
<polygon points="878.90,848.56 885.06,859.48 872.74,859.48" fill="#c3c300" />
<polygon points="894.20,848.56 900.36,859.48 888.04,859.48" fill="#c3c300" />
<polygon points="909.50,848.56 915.66,859.48 903.34,859.48" fill="#c3c300" />
<polygon points="924.80,848.56 930.96,859.48 918.64,859.48" fill="#c3c300" />
<polygon points="940.10,848.56 946.26,859.48 933.94,859.48" fill="#c3c300" />
<polygon points="955.40,848.56 961.56,859.48 949.24,859.48" fill="#c3c300" />
<polygon points="970.70,848.56 976.86,859.48 964.54,859.48" fill="#c3c300" />
<polygon points="986.00,848.56 992.16,859.48 979.84,859.48" fill="#c3c300" />
<polygon points="1001.30,848.56 1007.46,859.48 995.14,859.48" fill="#c3c300" />
<polygon points="1016.60,848.56 1022.76,859.48 1010.44,859.48" fill="#c3c300" />
<polygon points="1031.90,848.56 1038.06,859.48 1025.74,859.48" fill="#c3c300" />
<polygon points="1047.20,848.56 1053.36,859.48 1041.04,859.48" fill="#c3c300" />
<polygon points="1062.50,846.56 1068.66,857.48 1056.34,857.48" fill="#c3c300" />
<polygon points="1077.80,844.46 1083.96,855.38 1071.64,855.38" fill="#c3c300" />
<polygon points="1093.10,840.36 1099.26,851.28 1086.94,851.28" fill="#c3c300" />
<polygon points="1108.40,828.46 1114.56,839.38 1102.24,839.38" fill="#c3c300" />
<polygon points="1123.70,814.86 1129.86,825.78 1117.54,825.78" fill="#c3c300" />
<polygon points="1139.00,793.46 1145.16,804.38 1132.84,804.38" fill="#c3c300" />
<polygon points="1154.30,776.46 1160.46,787.38 1148.14,787.38" fill="#c3c300" />
<polygon points="1169.60,757.06 1175.76,767.98 1163.44,767.98" fill="#c3c300" />
<polyline points="817.70,855.00 833.00,840.00 848.30,841.00 863.60,849.50 878.90,855.00 894.20,855.00 909.50,855.00 924.80,855.00 940.10,855.00 955.40,855.00 970.70,855.00 986.00,855.00 1001.30,855.00 1016.60,855.00 1031.90,855.00 1047.20,855.00 1062.50,851.00 1077.80,853.00 1093.10,853.50 1108.40,854.00 1123.70,854.00 1139.00,854.00 1154.30,854.50 1169.60,854.00" fill="none" stroke="#0a8a0a" stroke-width="3.8" stroke-linejoin="round" />
<rect x="813.40" y="850.70" width="8.60" height="8.60" fill="#0a8a0a" />
<rect x="828.70" y="835.70" width="8.60" height="8.60" fill="#0a8a0a" />
<rect x="844.00" y="836.70" width="8.60" height="8.60" fill="#0a8a0a" />
<rect x="859.30" y="845.20" width="8.60" height="8.60" fill="#0a8a0a" />
<rect x="874.60" y="850.70" width="8.60" height="8.60" fill="#0a8a0a" />
<rect x="889.90" y="850.70" width="8.60" height="8.60" fill="#0a8a0a" />
<rect x="905.20" y="850.70" width="8.60" height="8.60" fill="#0a8a0a" />
<rect x="920.50" y="850.70" width="8.60" height="8.60" fill="#0a8a0a" />
<rect x="935.80" y="850.70" width="8.60" height="8.60" fill="#0a8a0a" />
<rect x="951.10" y="850.70" width="8.60" height="8.60" fill="#0a8a0a" />
<rect x="966.40" y="850.70" width="8.60" height="8.60" fill="#0a8a0a" />
<rect x="981.70" y="850.70" width="8.60" height="8.60" fill="#0a8a0a" />
<rect x="997.00" y="850.70" width="8.60" height="8.60" fill="#0a8a0a" />
<rect x="1012.30" y="850.70" width="8.60" height="8.60" fill="#0a8a0a" />
<rect x="1027.60" y="850.70" width="8.60" height="8.60" fill="#0a8a0a" />
<rect x="1042.90" y="850.70" width="8.60" height="8.60" fill="#0a8a0a" />
<rect x="1058.20" y="846.70" width="8.60" height="8.60" fill="#0a8a0a" />
<rect x="1073.50" y="848.70" width="8.60" height="8.60" fill="#0a8a0a" />
<rect x="1088.80" y="849.20" width="8.60" height="8.60" fill="#0a8a0a" />
<rect x="1104.10" y="849.70" width="8.60" height="8.60" fill="#0a8a0a" />
<rect x="1119.40" y="849.70" width="8.60" height="8.60" fill="#0a8a0a" />
<rect x="1134.70" y="849.70" width="8.60" height="8.60" fill="#0a8a0a" />
<rect x="1150.00" y="850.20" width="8.60" height="8.60" fill="#0a8a0a" />
<rect x="1165.30" y="849.70" width="8.60" height="8.60" fill="#0a8a0a" />
<polyline points="817.70,855.00 833.00,841.00 848.30,841.00 863.60,849.50 878.90,855.00 894.20,855.00 909.50,855.00 924.80,855.00 940.10,855.00 955.40,855.00 970.70,855.00 986.00,855.00 1001.30,855.00 1016.60,855.00 1031.90,855.00 1047.20,855.00 1062.50,853.00 1077.80,853.00 1093.10,853.00 1108.40,853.00 1123.70,852.50 1139.00,852.00 1154.30,851.00 1169.60,849.00" fill="none" stroke="#0a0acd" stroke-width="3.8" stroke-linejoin="round" />
<polygon points="817.70,860.75 823.20,851.00 812.20,851.00" fill="#0a0acd" />
<polygon points="833.00,846.75 838.50,837.00 827.50,837.00" fill="#0a0acd" />
<polygon points="848.30,846.75 853.80,837.00 842.80,837.00" fill="#0a0acd" />
<polygon points="863.60,855.25 869.10,845.50 858.10,845.50" fill="#0a0acd" />
<polygon points="878.90,860.75 884.40,851.00 873.40,851.00" fill="#0a0acd" />
<polygon points="894.20,860.75 899.70,851.00 888.70,851.00" fill="#0a0acd" />
<polygon points="909.50,860.75 915.00,851.00 904.00,851.00" fill="#0a0acd" />
<polygon points="924.80,860.75 930.30,851.00 919.30,851.00" fill="#0a0acd" />
<polygon points="940.10,860.75 945.60,851.00 934.60,851.00" fill="#0a0acd" />
<polygon points="955.40,860.75 960.90,851.00 949.90,851.00" fill="#0a0acd" />
<polygon points="970.70,860.75 976.20,851.00 965.20,851.00" fill="#0a0acd" />
<polygon points="986.00,860.75 991.50,851.00 980.50,851.00" fill="#0a0acd" />
<polygon points="1001.30,860.75 1006.80,851.00 995.80,851.00" fill="#0a0acd" />
<polygon points="1016.60,860.75 1022.10,851.00 1011.10,851.00" fill="#0a0acd" />
<polygon points="1031.90,860.75 1037.40,851.00 1026.40,851.00" fill="#0a0acd" />
<polygon points="1047.20,860.75 1052.70,851.00 1041.70,851.00" fill="#0a0acd" />
<polygon points="1062.50,858.75 1068.00,849.00 1057.00,849.00" fill="#0a0acd" />
<polygon points="1077.80,858.75 1083.30,849.00 1072.30,849.00" fill="#0a0acd" />
<polygon points="1093.10,858.75 1098.60,849.00 1087.60,849.00" fill="#0a0acd" />
<polygon points="1108.40,858.75 1113.90,849.00 1102.90,849.00" fill="#0a0acd" />
<polygon points="1123.70,858.25 1129.20,848.50 1118.20,848.50" fill="#0a0acd" />
<polygon points="1139.00,857.75 1144.50,848.00 1133.50,848.00" fill="#0a0acd" />
<polygon points="1154.30,856.75 1159.80,847.00 1148.80,847.00" fill="#0a0acd" />
<polygon points="1169.60,854.75 1175.10,845.00 1164.10,845.00" fill="#0a0acd" />
<text transform="translate(1190.17 841.50) scale(1.0400 1)" font-size="32" fill="#000" stroke="#000" stroke-width="0.5">****</text>
<text transform="translate(1190.17 860.50) scale(1.0400 1)" font-size="32" fill="#c3c300" stroke="#c3c300" stroke-width="0.5">****</text>
<text transform="translate(1189.50 875.40) scale(0.9600 1)" font-size="27.5" fill="#0a8a0a" stroke="#0a8a0a" stroke-width="0.4">ns</text>
</g>
<g id="panel_f">
<text transform="translate(1375.00 532.00)" font-size="24.5" font-weight="bold" stroke="#000" stroke-width="0.4">f</text>
<text transform="translate(1516.20 543.20) scale(0.9838 1)" font-size="22" stroke="#000" stroke-width="0.4">SAM injection (<tspan font-style="italic">i.v</tspan>)</text>
<text transform="translate(1524.20 568.80) scale(0.9663 1)" font-size="22" stroke="#000" stroke-width="0.4">2x10<tspan font-size="13.64" dy="-7.92">7</tspan><tspan dy="7.92"> cfu/mouse</tspan></text>
<line x1="1615.00" y1="577.80" x2="1615.00" y2="653.60" stroke="#000" stroke-width="3.2" />
<polygon points="1615.00,669.60 1604.70,649.60 1625.30,649.60" fill="#000" />
<text transform="translate(1388.80 623.20) scale(1.0107 1)" font-size="24" stroke="#000" stroke-width="0.4">C57BL/6</text>
<text transform="translate(1693.04 612.00)" font-size="22" stroke="#000" stroke-width="0.4">Doxy</text>
<text transform="translate(1620.80 637.00) scale(0.9795 1)" font-size="22" stroke="#000" stroke-width="0.4">(Oral administration)</text>
<path d="M1652.8,675.4 C1652.8,661.8 1653.8,657.8 1659.8,657.8 L1703.2,657.8 C1706.2,657.8 1707.2,653.8 1707.2,641.8 C1707.2,653.8 1708.2,657.8 1711.2,657.8 L1753.0,657.8 C1759.0,657.8 1760.0,661.8 1760.0,675.4" fill="none" stroke="#000" stroke-width="3.6" stroke-linejoin="round"/>
<text transform="translate(1767.00 674.40) scale(0.9707 1)" font-size="22" stroke="#000" stroke-width="0.4">Survivors</text>
<line x1="1499.80" y1="695.20" x2="1925.20" y2="695.20" stroke="#000" stroke-width="5.0" />
<polygon points="1939.20,695.20 1919.20,685.00 1919.20,705.40" fill="#000" />
<line x1="1499.80" y1="679.40" x2="1499.80" y2="711.00" stroke="#000" stroke-width="3.6" />
<line x1="1615.70" y1="679.40" x2="1615.70" y2="711.00" stroke="#000" stroke-width="3.6" />
<line x1="1652.80" y1="679.40" x2="1652.80" y2="711.00" stroke="#000" stroke-width="3.6" />
<line x1="1705.30" y1="679.40" x2="1705.30" y2="711.00" stroke="#000" stroke-width="3.6" />
<line x1="1765.40" y1="679.40" x2="1765.40" y2="711.00" stroke="#000" stroke-width="3.6" />
<line x1="1836.50" y1="679.40" x2="1836.50" y2="711.00" stroke="#000" stroke-width="3.6" />
<line x1="1903.40" y1="679.40" x2="1903.40" y2="711.00" stroke="#000" stroke-width="3.6" />
<line x1="1549.20" y1="703.70" x2="1554.00" y2="686.70" stroke="#000" stroke-width="1.9" />
<line x1="1553.60" y1="703.70" x2="1558.40" y2="686.70" stroke="#000" stroke-width="1.9" />
<line x1="1728.40" y1="703.70" x2="1733.20" y2="686.70" stroke="#000" stroke-width="1.9" />
<line x1="1732.80" y1="703.70" x2="1737.60" y2="686.70" stroke="#000" stroke-width="1.9" />
<line x1="1794.60" y1="703.70" x2="1799.40" y2="686.70" stroke="#000" stroke-width="1.9" />
<line x1="1799.00" y1="703.70" x2="1803.80" y2="686.70" stroke="#000" stroke-width="1.9" />
<line x1="1865.40" y1="703.70" x2="1870.20" y2="686.70" stroke="#000" stroke-width="1.9" />
<line x1="1869.80" y1="703.70" x2="1874.60" y2="686.70" stroke="#000" stroke-width="1.9" />
<text transform="translate(1565.40 738.40) scale(1.0878 1)" font-size="24" stroke="#000" stroke-width="0.4">Day 0</text>
<text transform="translate(1649.93 738.40)" font-size="24" stroke="#000" stroke-width="0.4">3</text>
<text transform="translate(1702.13 738.40)" font-size="24" stroke="#000" stroke-width="0.4">9</text>
<text transform="translate(1755.25 738.40)" font-size="24" stroke="#000" stroke-width="0.4">30</text>
<text transform="translate(1822.45 738.40)" font-size="24" stroke="#000" stroke-width="0.4">90</text>
<text transform="translate(1890.98 738.40)" font-size="24" stroke="#000" stroke-width="0.4">124</text>
<line x1="1500.20" y1="805.60" x2="1500.20" y2="740.16" stroke="#000" stroke-width="3.2" />
<polygon points="1500.20,724.00 1489.90,744.20 1510.50,744.20" fill="#000" />
<text transform="translate(1540.10 768.20) scale(0.9909 1)" font-size="22" stroke="#000" stroke-width="0.4">Tumor size</text>
<text transform="translate(1529.40 793.40) scale(0.9841 1)" font-size="22" stroke="#000" stroke-width="0.4">100-120 mm<tspan font-size="13.64" dy="-7.92">3</tspan></text>
<line x1="1836.80" y1="786.40" x2="1836.80" y2="761.96" stroke="#000" stroke-width="3.2" />
<polygon points="1836.80,745.80 1826.50,766.00 1847.10,766.00" fill="#000" />
<text transform="translate(1741.00 819.40) scale(0.9830 1)" font-size="22" stroke="#000" stroke-width="0.4">Second 1x10<tspan font-size="13.64" dy="-7.92">6</tspan><tspan dy="7.92"> MC38</tspan></text>
<text transform="translate(1723.10 845.00) scale(0.9839 1)" font-size="22" stroke="#000" stroke-width="0.4">challenge (<tspan font-style="italic">s.c</tspan>, left flank)</text>
<text transform="translate(1420.10 841.40) scale(0.9943 1)" font-size="22" stroke="#000" stroke-width="0.4">Primary 5x10<tspan font-size="13.64" dy="-7.92">5</tspan></text>
<text transform="translate(1409.50 867.00) scale(0.9913 1)" font-size="22" stroke="#000" stroke-width="0.4">MC38 challenge</text>
<text transform="translate(1414.20 892.60) scale(0.9896 1)" font-size="22" stroke="#000" stroke-width="0.4">(<tspan font-style="italic">s.c</tspan>, right flank)</text>
<g transform="translate(1435.00 637.10) scale(0.14165 0.13238) translate(-420 -232)"><line x1="405" y1="262" x2="340" y2="240" stroke="#9a9a9a" stroke-width="2.5"/><line x1="405" y1="268" x2="335" y2="262" stroke="#9a9a9a" stroke-width="2.5"/><line x1="405" y1="274" x2="345" y2="285" stroke="#9a9a9a" stroke-width="2.5"/><line x1="435" y1="262" x2="500" y2="240" stroke="#9a9a9a" stroke-width="2.5"/><line x1="435" y1="268" x2="505" y2="262" stroke="#9a9a9a" stroke-width="2.5"/><line x1="435" y1="274" x2="495" y2="285" stroke="#9a9a9a" stroke-width="2.5"/><path d="M404,1150 L399,1285 L431,1285 L436,1150 Z" fill="#c08a84"/><path d="M285.0,1135.0 C275.3,1131.3 252.5,1146.2 230.0,1150.0 C207.5,1153.8 172.0,1146.0 150.0,1158.0 C128.0,1170.0 98.0,1212.3 98.0,1222.0 C98.0,1231.7 133.0,1221.0 150.0,1216.0 C167.0,1211.0 177.0,1199.3 200.0,1192.0 C223.0,1184.7 273.8,1181.5 288.0,1172.0 C302.2,1162.5 294.7,1138.7 285.0,1135.0Z" fill="#b8807a"/><path d="M555.0,1135.0 C564.7,1131.3 587.5,1146.2 610.0,1150.0 C632.5,1153.8 668.0,1146.0 690.0,1158.0 C712.0,1170.0 742.0,1212.3 742.0,1222.0 C742.0,1231.7 707.0,1221.0 690.0,1216.0 C673.0,1211.0 663.0,1199.3 640.0,1192.0 C617.0,1184.7 566.2,1181.5 552.0,1172.0 C537.8,1162.5 545.3,1138.7 555.0,1135.0Z" fill="#b8807a"/><path d="M165.0,500.0 C166.7,495.0 156.7,482.5 150.0,470.0 C143.3,457.5 131.3,428.3 125.0,425.0 C118.7,421.7 117.5,448.8 112.0,450.0 C106.5,451.2 94.0,430.0 92.0,432.0 C90.0,434.0 100.7,455.7 100.0,462.0 C99.3,468.3 86.0,466.7 88.0,470.0 C90.0,473.3 103.3,477.0 112.0,482.0 C120.7,487.0 131.2,497.0 140.0,500.0 C148.8,503.0 163.3,505.0 165.0,500.0Z" fill="#b8807a"/><path d="M675.0,500.0 C673.3,495.0 683.3,482.5 690.0,470.0 C696.7,457.5 708.7,428.3 715.0,425.0 C721.3,421.7 722.5,448.8 728.0,450.0 C733.5,451.2 746.0,430.0 748.0,432.0 C750.0,434.0 739.3,455.7 740.0,462.0 C740.7,468.3 754.0,466.7 752.0,470.0 C750.0,473.3 736.7,477.0 728.0,482.0 C719.3,487.0 708.8,497.0 700.0,500.0 C691.2,503.0 676.7,505.0 675.0,500.0Z" fill="#b8807a"/><path d="M320.0,495.0 C310.0,482.0 275.8,520.3 255.0,522.0 C234.2,523.7 210.5,512.0 195.0,505.0 C179.5,498.0 170.7,481.3 162.0,480.0 C153.3,478.7 141.7,485.7 143.0,497.0 C144.3,508.3 158.0,530.5 170.0,548.0 C182.0,565.5 197.5,584.2 215.0,602.0 C232.5,619.8 258.3,655.3 275.0,655.0 C291.7,654.7 307.5,626.7 315.0,600.0 C322.5,573.3 330.0,508.0 320.0,495.0Z" fill="#38302c"/><path d="M520.0,495.0 C530.0,482.0 564.2,520.3 585.0,522.0 C605.8,523.7 629.5,512.0 645.0,505.0 C660.5,498.0 669.3,481.3 678.0,480.0 C686.7,478.7 698.3,485.7 697.0,497.0 C695.7,508.3 682.0,530.5 670.0,548.0 C658.0,565.5 642.5,584.2 625.0,602.0 C607.5,619.8 581.7,655.3 565.0,655.0 C548.3,654.7 532.5,626.7 525.0,600.0 C517.5,573.3 510.0,508.0 520.0,495.0Z" fill="#38302c"/><path d="M225.0,1040.0 C232.5,1044.2 240.0,1066.7 250.0,1085.0 C260.0,1103.3 278.3,1135.0 285.0,1150.0 C291.7,1165.0 294.2,1171.7 290.0,1175.0 C285.8,1178.3 270.0,1179.2 260.0,1170.0 C250.0,1160.8 239.2,1138.3 230.0,1120.0 C220.8,1101.7 205.8,1073.3 205.0,1060.0 C204.2,1046.7 217.5,1035.8 225.0,1040.0Z" fill="#38302c"/><path d="M615.0,1040.0 C607.5,1044.2 600.0,1066.7 590.0,1085.0 C580.0,1103.3 561.7,1135.0 555.0,1150.0 C548.3,1165.0 545.8,1171.7 550.0,1175.0 C554.2,1178.3 570.0,1179.2 580.0,1170.0 C590.0,1160.8 600.8,1138.3 610.0,1120.0 C619.2,1101.7 634.2,1073.3 635.0,1060.0 C635.8,1046.7 622.5,1035.8 615.0,1040.0Z" fill="#38302c"/><path d="M420.0,470.0 C456.7,470.0 506.7,465.0 530.0,480.0 C553.3,495.0 552.5,531.7 560.0,560.0 C567.5,588.3 570.0,618.3 575.0,650.0 C580.0,681.7 583.8,716.7 590.0,750.0 C596.2,783.3 603.7,821.7 612.0,850.0 C620.3,878.3 633.7,898.3 640.0,920.0 C646.3,941.7 651.3,958.3 650.0,980.0 C648.7,1001.7 642.0,1032.5 632.0,1050.0 C622.0,1067.5 608.7,1074.7 590.0,1085.0 C571.3,1095.3 540.0,1101.2 520.0,1112.0 C500.0,1122.8 486.7,1141.0 470.0,1150.0 C453.3,1159.0 436.7,1166.0 420.0,1166.0 C403.3,1166.0 386.7,1159.0 370.0,1150.0 C353.3,1141.0 340.0,1122.8 320.0,1112.0 C300.0,1101.2 268.7,1095.3 250.0,1085.0 C231.3,1074.7 218.0,1067.5 208.0,1050.0 C198.0,1032.5 191.3,1001.7 190.0,980.0 C188.7,958.3 193.7,941.7 200.0,920.0 C206.3,898.3 219.7,878.3 228.0,850.0 C236.3,821.7 243.8,783.3 250.0,750.0 C256.2,716.7 260.0,681.7 265.0,650.0 C270.0,618.3 272.5,588.3 280.0,560.0 C287.5,531.7 286.7,495.0 310.0,480.0 C333.3,465.0 383.3,470.0 420.0,470.0Z" fill="#3a322e"/><path d="M420.0,492.0 C446.0,492.0 478.8,495.3 498.0,510.0 C517.2,524.7 526.3,548.3 535.0,580.0 C543.7,611.7 544.2,663.3 550.0,700.0 C555.8,736.7 563.3,766.7 570.0,800.0 C576.7,833.3 588.3,866.7 590.0,900.0 C591.7,933.3 591.7,971.7 580.0,1000.0 C568.3,1028.3 546.7,1053.3 520.0,1070.0 C493.3,1086.7 453.3,1100.0 420.0,1100.0 C386.7,1100.0 346.7,1086.7 320.0,1070.0 C293.3,1053.3 271.7,1028.3 260.0,1000.0 C248.3,971.7 248.3,933.3 250.0,900.0 C251.7,866.7 263.3,833.3 270.0,800.0 C276.7,766.7 284.2,736.7 290.0,700.0 C295.8,663.3 296.3,611.7 305.0,580.0 C313.7,548.3 322.8,524.7 342.0,510.0 C361.2,495.3 394.0,492.0 420.0,492.0Z" fill="#423a37"/><path d="M335.0,392.0 C324.8,391.7 300.5,417.7 287.0,430.0 C273.5,442.3 255.8,457.7 254.0,466.0 C252.2,474.3 264.7,479.0 276.0,480.0 C287.3,481.0 310.0,480.0 322.0,472.0 C334.0,464.0 345.8,445.3 348.0,432.0 C350.2,418.7 345.2,392.3 335.0,392.0Z" fill="#c08a84"/><path d="M505.0,392.0 C515.2,391.7 539.5,417.7 553.0,430.0 C566.5,442.3 584.2,457.7 586.0,466.0 C587.8,474.3 575.3,479.0 564.0,480.0 C552.7,481.0 530.0,480.0 518.0,472.0 C506.0,464.0 494.2,445.3 492.0,432.0 C489.8,418.7 494.8,392.3 505.0,392.0Z" fill="#c08a84"/><path d="M420.0,232.0 C430.7,232.0 443.7,236.7 452.0,248.0 C460.3,259.3 463.7,283.8 470.0,300.0 C476.3,316.2 481.7,331.7 490.0,345.0 C498.3,358.3 512.2,367.5 520.0,380.0 C527.8,392.5 535.0,406.7 537.0,420.0 C539.0,433.3 537.3,448.7 532.0,460.0 C526.7,471.3 523.7,481.3 505.0,488.0 C486.3,494.7 448.3,500.0 420.0,500.0 C391.7,500.0 353.7,494.7 335.0,488.0 C316.3,481.3 313.3,471.3 308.0,460.0 C302.7,448.7 301.0,433.3 303.0,420.0 C305.0,406.7 312.2,392.5 320.0,380.0 C327.8,367.5 341.7,358.3 350.0,345.0 C358.3,331.7 363.7,316.2 370.0,300.0 C376.3,283.8 379.7,259.3 388.0,248.0 C396.3,236.7 409.3,232.0 420.0,232.0Z" fill="#3e3632"/><path d="M318,470 C360,440 480,440 522,470 C480,458 360,458 318,470 Z" fill="#2a2320" opacity="0.6"/><ellipse cx="373" cy="336" rx="6" ry="13" fill="#1a1412" transform="rotate(-28 373 336)"/><ellipse cx="467" cy="336" rx="6" ry="13" fill="#1a1412" transform="rotate(28 467 336)"/><path d="M402,240 C408,228 432,228 438,240 C430,250 410,250 402,240 Z" fill="#b8807a"/></g>
<circle cx="1452.20" cy="734.30" r="9" fill="#b4b4b4" />
</g>
<g id="panel_g">
<text transform="translate(60.50 1022.40)" font-size="24.5" font-weight="bold" stroke="#000" stroke-width="0.4">g</text>
<line x1="161.70" y1="1091.70" x2="161.70" y2="1368.30" stroke="#000" stroke-width="2.8" />
<line x1="149.70" y1="1357.30" x2="598.70" y2="1357.30" stroke="#000" stroke-width="2.8" />
<line x1="149.70" y1="1093.00" x2="161.70" y2="1093.00" stroke="#000" stroke-width="2.8" />
<text transform="translate(85.33 1102.20) scale(1.0800 1)" font-size="25.5" stroke="#000" stroke-width="0.4">2000</text>
<line x1="149.70" y1="1159.30" x2="161.70" y2="1159.30" stroke="#000" stroke-width="2.8" />
<text transform="translate(85.33 1168.50) scale(1.0800 1)" font-size="25.5" stroke="#000" stroke-width="0.4">1500</text>
<line x1="149.70" y1="1225.30" x2="161.70" y2="1225.30" stroke="#000" stroke-width="2.8" />
<text transform="translate(85.33 1234.50) scale(1.0800 1)" font-size="25.5" stroke="#000" stroke-width="0.4">1000</text>
<line x1="149.70" y1="1291.30" x2="161.70" y2="1291.30" stroke="#000" stroke-width="2.8" />
<text transform="translate(100.65 1300.50) scale(1.0800 1)" font-size="25.5" stroke="#000" stroke-width="0.4">500</text>
<line x1="149.70" y1="1357.30" x2="161.70" y2="1357.30" stroke="#000" stroke-width="2.8" />
<text transform="translate(131.28 1366.50) scale(1.0800 1)" font-size="25.5" stroke="#000" stroke-width="0.4">0</text>
<line x1="161.70" y1="1357.30" x2="161.70" y2="1368.30" stroke="#000" stroke-width="2.8" />
<line x1="270.60" y1="1357.30" x2="270.60" y2="1368.30" stroke="#000" stroke-width="2.8" />
<line x1="379.50" y1="1357.30" x2="379.50" y2="1368.30" stroke="#000" stroke-width="2.8" />
<line x1="488.40" y1="1357.30" x2="488.40" y2="1368.30" stroke="#000" stroke-width="2.8" />
<line x1="597.30" y1="1357.30" x2="597.30" y2="1368.30" stroke="#000" stroke-width="2.8" />
<text transform="translate(154.36 1393.30) scale(1.1000 1)" font-size="24" stroke="#000" stroke-width="0.4">0</text>
<text transform="translate(263.96 1393.30) scale(1.1000 1)" font-size="24" stroke="#000" stroke-width="0.4">3</text>
<text transform="translate(372.16 1393.30) scale(1.1000 1)" font-size="24" stroke="#000" stroke-width="0.4">6</text>
<text transform="translate(483.36 1393.30) scale(1.1000 1)" font-size="24" stroke="#000" stroke-width="0.4">9</text>
<text transform="translate(584.32 1393.30) scale(1.1000 1)" font-size="24" stroke="#000" stroke-width="0.4">12</text>
<text transform="translate(204.20 1437.70) scale(0.9400 1)" font-size="25.5" stroke="#000" stroke-width="0.4" letter-spacing="1.234">Days after SAM <tspan font-style="italic">i.v</tspan> injection</text>
<text transform="translate(68.60 1222.30) rotate(-90) translate(-120.00 0)" font-size="24.5" stroke="#000" stroke-width="0.4" letter-spacing="0.639">Tumor volume (mm<tspan font-size="17.15" dy="-12.25">3</tspan><tspan dy="12.25">)</tspan></text>
<polyline points="161.70,1340.00 270.60,1340.50 379.50,1351.40 488.40,1353.00 597.30,1349.70" fill="none" stroke="#0a0acd" stroke-width="3.8" stroke-linejoin="round" />
<polygon points="161.70,1333.84 167.86,1340.00 161.70,1346.16 155.54,1340.00" fill="#0a0acd" />
<polygon points="270.60,1334.34 276.76,1340.50 270.60,1346.66 264.44,1340.50" fill="#0a0acd" />
<polygon points="379.50,1345.24 385.66,1351.40 379.50,1357.56 373.34,1351.40" fill="#0a0acd" />
<polygon points="488.40,1346.84 494.56,1353.00 488.40,1359.16 482.24,1353.00" fill="#0a0acd" />
<polygon points="597.30,1343.54 603.46,1349.70 597.30,1355.86 591.14,1349.70" fill="#0a0acd" />
<line x1="597.30" y1="1291.00" x2="597.30" y2="1264.60" stroke="#0a8a0a" stroke-width="2.8" />
<line x1="591.30" y1="1264.60" x2="603.30" y2="1264.60" stroke="#0a8a0a" stroke-width="2.8" />
<polyline points="161.70,1343.00 270.60,1344.80 379.50,1344.80 488.40,1330.00 597.30,1291.00" fill="none" stroke="#0a8a0a" stroke-width="3.8" stroke-linejoin="round" />
<polygon points="161.70,1349.44 167.86,1338.52 155.54,1338.52" fill="#0a8a0a" />
<polygon points="270.60,1351.24 276.76,1340.32 264.44,1340.32" fill="#0a8a0a" />
<polygon points="379.50,1351.24 385.66,1340.32 373.34,1340.32" fill="#0a8a0a" />
<polygon points="488.40,1336.44 494.56,1325.52 482.24,1325.52" fill="#0a8a0a" />
<polygon points="597.30,1297.44 603.46,1286.52 591.14,1286.52" fill="#0a8a0a" />
<line x1="597.30" y1="1349.00" x2="597.30" y2="1344.80" stroke="#c3c300" stroke-width="2.8" />
<line x1="591.30" y1="1344.80" x2="603.30" y2="1344.80" stroke="#c3c300" stroke-width="2.8" />
<polyline points="161.70,1337.00 270.60,1337.00 379.50,1352.40 488.40,1356.30 597.30,1349.00" fill="none" stroke="#c3c300" stroke-width="3.8" stroke-linejoin="round" />
<polygon points="161.70,1330.56 167.86,1341.48 155.54,1341.48" fill="#c3c300" />
<polygon points="270.60,1330.56 276.76,1341.48 264.44,1341.48" fill="#c3c300" />
<polygon points="379.50,1345.96 385.66,1356.88 373.34,1356.88" fill="#c3c300" />
<polygon points="488.40,1349.86 494.56,1360.78 482.24,1360.78" fill="#c3c300" />
<polygon points="597.30,1342.56 603.46,1353.48 591.14,1353.48" fill="#c3c300" />
<line x1="597.30" y1="1294.30" x2="597.30" y2="1274.50" stroke="#ff0000" stroke-width="2.8" />
<line x1="591.30" y1="1274.50" x2="603.30" y2="1274.50" stroke="#ff0000" stroke-width="2.8" />
<line x1="488.40" y1="1315.00" x2="488.40" y2="1301.90" stroke="#ff0000" stroke-width="2.8" />
<line x1="482.40" y1="1301.90" x2="494.40" y2="1301.90" stroke="#ff0000" stroke-width="2.8" />
<polyline points="161.70,1339.20 270.60,1336.50 379.50,1332.50 488.40,1315.00 597.30,1294.30" fill="none" stroke="#ff0000" stroke-width="3.8" stroke-linejoin="round" />
<rect x="156.10" y="1333.60" width="11.20" height="11.20" fill="#ff0000" />
<rect x="265.00" y="1330.90" width="11.20" height="11.20" fill="#ff0000" />
<rect x="373.90" y="1326.90" width="11.20" height="11.20" fill="#ff0000" />
<rect x="482.80" y="1309.40" width="11.20" height="11.20" fill="#ff0000" />
<rect x="591.70" y="1288.70" width="11.20" height="11.20" fill="#ff0000" />
<line x1="597.30" y1="1163.30" x2="597.30" y2="1122.70" stroke="#000" stroke-width="2.8" />
<line x1="591.30" y1="1122.70" x2="603.30" y2="1122.70" stroke="#000" stroke-width="2.8" />
<line x1="488.40" y1="1277.80" x2="488.40" y2="1264.60" stroke="#000" stroke-width="2.8" />
<line x1="482.40" y1="1264.60" x2="494.40" y2="1264.60" stroke="#000" stroke-width="2.8" />
<line x1="379.50" y1="1314.00" x2="379.50" y2="1307.50" stroke="#000" stroke-width="2.8" />
<line x1="373.50" y1="1307.50" x2="385.50" y2="1307.50" stroke="#000" stroke-width="2.8" />
<polyline points="161.70,1330.00 270.60,1322.70 379.50,1314.00 488.40,1277.80 597.30,1163.30" fill="none" stroke="#000" stroke-width="3.8" stroke-linejoin="round" />
<circle cx="161.70" cy="1330.00" r="5.6" fill="#000" />
<circle cx="270.60" cy="1322.70" r="5.6" fill="#000" />
<circle cx="379.50" cy="1314.00" r="5.6" fill="#000" />
<circle cx="488.40" cy="1277.80" r="5.6" fill="#000" />
<circle cx="597.30" cy="1163.30" r="5.6" fill="#000" />
<line x1="183.60" y1="1043.00" x2="214.60" y2="1043.00" stroke="#000" stroke-width="4.6" />
<circle cx="199.10" cy="1043.00" r="5.8" fill="#000" />
<text transform="translate(231.40 1051.40) scale(1.0900 1)" font-size="24" stroke="#000" stroke-width="0.4">PBS</text>
<line x1="183.60" y1="1077.40" x2="214.60" y2="1077.40" stroke="#ff0000" stroke-width="4.6" />
<rect x="193.30" y="1071.60" width="11.60" height="11.60" fill="#ff0000" />
<text transform="translate(231.40 1085.80) scale(1.0900 1)" font-size="24" stroke="#000" stroke-width="0.4">SAM-E</text>
<line x1="183.60" y1="1111.60" x2="214.60" y2="1111.60" stroke="#c3c300" stroke-width="4.6" />
<polygon points="199.10,1104.93 205.48,1116.24 192.72,1116.24" fill="#c3c300" />
<text transform="translate(231.40 1120.00) scale(1.0900 1)" font-size="24" stroke="#000" stroke-width="0.4">SAM-FR(+)</text>
<line x1="183.60" y1="1145.40" x2="214.60" y2="1145.40" stroke="#0a8a0a" stroke-width="4.6" />
<polygon points="199.10,1152.07 205.48,1140.76 192.72,1140.76" fill="#0a8a0a" />
<text transform="translate(231.40 1153.80) scale(1.0900 1)" font-size="24" stroke="#000" stroke-width="0.4">SAM-CR(+)</text>
<line x1="183.60" y1="1179.40" x2="214.60" y2="1179.40" stroke="#0a0acd" stroke-width="4.6" />
<polygon points="199.10,1173.02 205.48,1179.40 199.10,1185.78 192.72,1179.40" fill="#0a0acd" />
<text transform="translate(231.40 1187.80) scale(1.0900 1)" font-size="24" stroke="#000" stroke-width="0.4">SAM-FC(+)</text>
<polyline points="319.40,1042.10 533.00,1042.10 533.00,1189.00" fill="none" stroke="#000" stroke-width="2.4" stroke-linejoin="miter" />
<polyline points="319.40,1077.80 485.10,1077.80 485.10,1189.00" fill="none" stroke="#000" stroke-width="2.4" stroke-linejoin="miter" />
<polyline points="367.30,1110.50 445.50,1110.50 445.50,1189.00" fill="none" stroke="#000" stroke-width="2.4" stroke-linejoin="miter" />
<polyline points="377.90,1146.80 395.30,1146.80 395.30,1189.00" fill="none" stroke="#000" stroke-width="2.4" stroke-linejoin="miter" />
<line x1="377.90" y1="1189.00" x2="534.20" y2="1189.00" stroke="#000" stroke-width="2.4" />
<text transform="translate(451.00 1152.40) scale(1.0500 1)" font-size="22" stroke="#000" stroke-width="0.4">ns</text>
<text transform="translate(395.75 1136.36) rotate(90)" font-size="34" stroke="#000" stroke-width="0.5">***</text>
<text transform="translate(485.55 1114.86) rotate(90)" font-size="34" stroke="#000" stroke-width="0.5">**</text>
<text transform="translate(531.75 1083.46) rotate(90)" font-size="34" stroke="#000" stroke-width="0.5">****</text>
</g>
<g id="panel_h">
<text transform="translate(691.50 1024.00)" font-size="24.5" font-weight="bold" stroke="#000" stroke-width="0.4">h</text>
<line x1="805.80" y1="1027.40" x2="836.40" y2="1027.40" stroke="#000" stroke-width="3.8" />
<circle cx="821.10" cy="1027.40" r="5.0" fill="#000" />
<text transform="translate(853.10 1034.90) scale(1.1985 1)" font-size="21.6" stroke="#000" stroke-width="0.4">PBS</text>
<line x1="805.80" y1="1060.40" x2="836.40" y2="1060.40" stroke="#ff0000" stroke-width="3.8" />
<rect x="816.10" y="1055.40" width="10.00" height="10.00" fill="#ff0000" />
<text transform="translate(853.10 1067.90) scale(1.1943 1)" font-size="21.6" stroke="#000" stroke-width="0.4">SAM-E</text>
<line x1="805.80" y1="1090.30" x2="836.40" y2="1090.30" stroke="#c3c300" stroke-width="3.8" />
<polygon points="821.10,1096.05 826.60,1086.30 815.60,1086.30" fill="#c3c300" />
<text transform="translate(853.10 1097.80) scale(1.1995 1)" font-size="21.6" stroke="#000" stroke-width="0.4">SAM-FR(+)</text>
<line x1="1027.50" y1="1027.40" x2="1058.40" y2="1027.40" stroke="#0a8a0a" stroke-width="3.8" />
<polygon points="1042.95,1021.65 1048.45,1031.40 1037.45,1031.40" fill="#0a8a0a" />
<text transform="translate(1075.10 1034.90) scale(1.2041 1)" font-size="21.6" stroke="#000" stroke-width="0.4">SAM-CR(+)</text>
<line x1="1027.50" y1="1060.40" x2="1058.40" y2="1060.40" stroke="#0a0acd" stroke-width="3.8" />
<polygon points="1042.95,1054.90 1048.45,1060.40 1042.95,1065.90 1037.45,1060.40" fill="#0a0acd" />
<text transform="translate(1075.10 1067.90) scale(1.2059 1)" font-size="21.6" stroke="#000" stroke-width="0.4">SAM-FC(+)</text>
<line x1="801.40" y1="1118.00" x2="801.40" y2="1366.10" stroke="#000" stroke-width="3.0" />
<line x1="788.90" y1="1356.50" x2="1235.00" y2="1356.50" stroke="#000" stroke-width="3.0" />
<line x1="788.90" y1="1119.50" x2="801.40" y2="1119.50" stroke="#000" stroke-width="3.0" />
<text transform="translate(741.65 1127.50) scale(1.1200 1)" font-size="24" stroke="#000" stroke-width="0.4">100</text>
<line x1="788.90" y1="1166.80" x2="801.40" y2="1166.80" stroke="#000" stroke-width="3.0" />
<text transform="translate(756.60 1174.80) scale(1.1200 1)" font-size="24" stroke="#000" stroke-width="0.4">80</text>
<line x1="788.90" y1="1214.40" x2="801.40" y2="1214.40" stroke="#000" stroke-width="3.0" />
<text transform="translate(756.60 1222.40) scale(1.1200 1)" font-size="24" stroke="#000" stroke-width="0.4">60</text>
<line x1="788.90" y1="1261.70" x2="801.40" y2="1261.70" stroke="#000" stroke-width="3.0" />
<text transform="translate(756.60 1269.70) scale(1.1200 1)" font-size="24" stroke="#000" stroke-width="0.4">40</text>
<line x1="788.90" y1="1308.90" x2="801.40" y2="1308.90" stroke="#000" stroke-width="3.0" />
<text transform="translate(756.60 1316.90) scale(1.1200 1)" font-size="24" stroke="#000" stroke-width="0.4">20</text>
<line x1="788.90" y1="1356.50" x2="801.40" y2="1356.50" stroke="#000" stroke-width="3.0" />
<text transform="translate(771.55 1364.50) scale(1.1200 1)" font-size="24" stroke="#000" stroke-width="0.4">0</text>
<line x1="801.40" y1="1356.50" x2="801.40" y2="1366.10" stroke="#000" stroke-width="3.0" />
<text transform="translate(796.79 1394.00) scale(1.0800 1)" font-size="24" stroke="#000" stroke-width="0.4">0</text>
<line x1="945.20" y1="1356.50" x2="945.20" y2="1366.10" stroke="#000" stroke-width="3.0" />
<text transform="translate(932.58 1394.00) scale(1.0800 1)" font-size="24" stroke="#000" stroke-width="0.4">30</text>
<line x1="1089.00" y1="1356.50" x2="1089.00" y2="1366.10" stroke="#000" stroke-width="3.0" />
<text transform="translate(1075.98 1394.00) scale(1.0800 1)" font-size="24" stroke="#000" stroke-width="0.4">60</text>
<line x1="1233.50" y1="1356.50" x2="1233.50" y2="1366.10" stroke="#000" stroke-width="3.0" />
<text transform="translate(1219.78 1394.00) scale(1.0800 1)" font-size="24" stroke="#000" stroke-width="0.4">90</text>
<polyline points="801.40,1119.50 863.60,1119.50 863.60,1135.50 878.20,1135.50 878.20,1166.80 1233.50,1166.80 1233.50,1166.80" fill="none" stroke="#0a0acd" stroke-width="3.8" stroke-linejoin="miter" />
<polygon points="860.50,1130.44 865.56,1135.50 860.50,1140.56 855.44,1135.50" fill="#0a0acd" />
<polygon points="1233.50,1161.74 1238.56,1166.80 1233.50,1171.86 1228.44,1166.80" fill="#0a0acd" />
<polyline points="801.40,1119.50 849.20,1119.50 849.20,1142.60 863.60,1142.60 863.60,1166.10 878.20,1166.10 878.20,1214.40 912.20,1214.40 912.20,1238.20 1233.50,1238.20 1233.50,1238.20" fill="none" stroke="#0a8a0a" stroke-width="3.8" stroke-linejoin="miter" />
<polygon points="863.60,1159.66 869.76,1170.58 857.44,1170.58" fill="#0a8a0a" />
<polygon points="878.20,1207.96 884.36,1218.88 872.04,1218.88" fill="#0a8a0a" />
<polygon points="912.20,1231.76 918.36,1242.68 906.04,1242.68" fill="#0a8a0a" />
<polygon points="1233.50,1231.76 1239.66,1242.68 1227.34,1242.68" fill="#0a8a0a" />
<polyline points="801.40,1119.50 863.60,1119.50 863.60,1142.00 892.50,1142.00 892.50,1166.10 907.10,1166.10 907.10,1189.90 1233.50,1189.90 1233.50,1189.90" fill="none" stroke="#c3c300" stroke-width="3.8" stroke-linejoin="miter" />
<polygon points="863.60,1148.44 869.76,1137.52 857.44,1137.52" fill="#c3c300" />
<polygon points="892.50,1172.54 898.66,1161.62 886.34,1161.62" fill="#c3c300" />
<polygon points="907.10,1196.34 913.26,1185.42 900.94,1185.42" fill="#c3c300" />
<polygon points="1233.50,1196.34 1239.66,1185.42 1227.34,1185.42" fill="#c3c300" />
<polyline points="801.40,1119.50 849.00,1119.50 849.00,1171.90 863.60,1171.90 863.60,1278.00 906.80,1278.00 906.80,1303.50 921.40,1303.50 921.40,1356.50" fill="none" stroke="#ff0000" stroke-width="3.8" stroke-linejoin="miter" />
<rect x="843.20" y="1166.10" width="11.60" height="11.60" fill="#ff0000" />
<rect x="857.80" y="1272.20" width="11.60" height="11.60" fill="#ff0000" />
<rect x="901.00" y="1297.70" width="11.60" height="11.60" fill="#ff0000" />
<rect x="915.60" y="1350.70" width="11.60" height="11.60" fill="#ff0000" />
<polyline points="801.40,1119.50 834.70,1119.50 834.70,1145.70 849.00,1145.70 849.00,1225.00 863.60,1225.00 863.60,1330.00 892.50,1330.00 892.50,1356.50" fill="none" stroke="#000" stroke-width="3.8" stroke-linejoin="miter" />
<circle cx="834.70" cy="1145.70" r="5.6" fill="#000" />
<circle cx="849.00" cy="1225.00" r="5.6" fill="#000" />
<circle cx="863.60" cy="1330.00" r="5.6" fill="#000" />
<circle cx="892.50" cy="1356.50" r="5.6" fill="#000" />
<text transform="translate(863.20 1436.90) scale(0.9400 1)" font-size="25.5" stroke="#000" stroke-width="0.4" letter-spacing="1.207">Days after SAM <tspan font-style="italic">i.v</tspan> injection</text>
<text transform="translate(720.80 1235.10) rotate(-90) translate(-64.95 0) scale(1.0479 1)" font-size="23" stroke="#000" stroke-width="0.4">Survival (%)</text>
<text transform="translate(1239.78 1103.66) scale(1.3700 1)" font-size="28.3" fill="#000" stroke="#000" stroke-width="0.5">****</text>
<text transform="translate(1239.78 1121.66) scale(1.3700 1)" font-size="28.3" fill="#ff0000" stroke="#ff0000" stroke-width="0.5">****</text>
<text transform="translate(1239.30 1138.60) scale(1.2300 1)" font-size="25.5" fill="#0a8a0a" stroke="#0a8a0a" stroke-width="0.4">ns</text>
<text transform="translate(1239.30 1159.00) scale(1.2300 1)" font-size="25.5" fill="#c3c300" stroke="#c3c300" stroke-width="0.4">ns</text>
<text transform="translate(1249.58 1201.56) scale(1.3700 1)" font-size="28.3" fill="#000" stroke="#000" stroke-width="0.5">****</text>
<text transform="translate(1249.58 1219.96) scale(1.3700 1)" font-size="28.3" fill="#ff0000" stroke="#ff0000" stroke-width="0.5">**</text>
<text transform="translate(1249.50 1237.20) scale(1.2300 1)" font-size="25.5" fill="#0a8a0a" stroke="#0a8a0a" stroke-width="0.4">ns</text>
<text transform="translate(1204.68 1269.56) scale(1.3700 1)" font-size="28.3" fill="#000" stroke="#000" stroke-width="0.5">**</text>
<text transform="translate(1204.68 1288.36) scale(1.3700 1)" font-size="28.3" fill="#ff0000" stroke="#ff0000" stroke-width="0.5">*</text>
<text transform="translate(933.50 1340.60) scale(1.2800 1)" font-size="24.5" stroke="#000" stroke-width="0.4">ns</text>
</g>
<g id="panel_i">
<text transform="translate(1376.60 1023.00)" font-size="24.5" font-weight="bold" stroke="#000" stroke-width="0.4">i</text>
<line x1="1389.40" y1="1039.00" x2="1416.00" y2="1039.00" stroke="#000" stroke-width="3.8" />
<circle cx="1402.70" cy="1039.00" r="5.0" fill="#000" />
<text transform="translate(1431.00 1046.30) scale(0.9718 1)" font-size="21" stroke="#000" stroke-width="0.4">Naive  mice</text>
<line x1="1703.00" y1="1039.00" x2="1729.60" y2="1039.00" stroke="#0a8a0a" stroke-width="3.8" />
<rect x="1711.70" y="1034.40" width="9.20" height="9.20" fill="#0a8a0a" />
<text transform="translate(1745.00 1046.30) scale(0.9734 1)" font-size="21" stroke="#000" stroke-width="0.4">SAM-CR(+)-pretreated mice</text>
<line x1="1389.40" y1="1078.60" x2="1416.00" y2="1078.60" stroke="#c3c300" stroke-width="3.8" />
<polygon points="1402.70,1072.85 1408.20,1082.60 1397.20,1082.60" fill="#c3c300" />
<text transform="translate(1431.00 1086.00) scale(0.9752 1)" font-size="21" stroke="#000" stroke-width="0.4">SAM-FR(+)-pretreated mice</text>
<line x1="1703.00" y1="1078.60" x2="1729.60" y2="1078.60" stroke="#0a0acd" stroke-width="3.8" />
<polygon points="1716.30,1084.35 1721.80,1074.60 1710.80,1074.60" fill="#0a0acd" />
<text transform="translate(1745.00 1086.00) scale(0.9737 1)" font-size="21" stroke="#000" stroke-width="0.4">SAM-FC(+)-pretreated mice</text>
<line x1="1499.80" y1="1116.70" x2="1499.80" y2="1361.50" stroke="#000" stroke-width="2.6" />
<line x1="1488.80" y1="1360.20" x2="1871.00" y2="1360.20" stroke="#000" stroke-width="2.6" />
<line x1="1488.80" y1="1118.00" x2="1499.80" y2="1118.00" stroke="#000" stroke-width="2.6" />
<text transform="translate(1429.94 1126.60) scale(1.0500 1)" font-size="24" stroke="#000" stroke-width="0.4">2000</text>
<line x1="1488.80" y1="1178.80" x2="1499.80" y2="1178.80" stroke="#000" stroke-width="2.6" />
<text transform="translate(1429.94 1187.40) scale(1.0500 1)" font-size="24" stroke="#000" stroke-width="0.4">1500</text>
<line x1="1488.80" y1="1239.00" x2="1499.80" y2="1239.00" stroke="#000" stroke-width="2.6" />
<text transform="translate(1429.94 1247.60) scale(1.0500 1)" font-size="24" stroke="#000" stroke-width="0.4">1000</text>
<line x1="1488.80" y1="1299.80" x2="1499.80" y2="1299.80" stroke="#000" stroke-width="2.6" />
<text transform="translate(1443.95 1308.40) scale(1.0500 1)" font-size="24" stroke="#000" stroke-width="0.4">500</text>
<line x1="1488.80" y1="1360.20" x2="1499.80" y2="1360.20" stroke="#000" stroke-width="2.6" />
<text transform="translate(1471.98 1368.80) scale(1.0500 1)" font-size="24" stroke="#000" stroke-width="0.4">0</text>
<line x1="1524.00" y1="1360.20" x2="1524.00" y2="1369.20" stroke="#000" stroke-width="2.6" />
<line x1="1630.40" y1="1360.20" x2="1630.40" y2="1369.20" stroke="#000" stroke-width="2.6" />
<line x1="1736.80" y1="1360.20" x2="1736.80" y2="1369.20" stroke="#000" stroke-width="2.6" />
<line x1="1767.20" y1="1360.20" x2="1767.20" y2="1369.20" stroke="#000" stroke-width="2.6" />
<line x1="1797.60" y1="1360.20" x2="1797.60" y2="1369.20" stroke="#000" stroke-width="2.6" />
<line x1="1828.00" y1="1360.20" x2="1828.00" y2="1369.20" stroke="#000" stroke-width="2.6" />
<line x1="1858.40" y1="1360.20" x2="1858.40" y2="1369.20" stroke="#000" stroke-width="2.6" />
<text transform="translate(1418.60 1237.70) rotate(-90) translate(-125.00 0) scale(1.0281 1)" font-size="26" stroke="#000" stroke-width="0.4">Tumor volume (mm<tspan font-size="18.20" dy="-13.00">3</tspan><tspan dy="13.00">)</tspan></text>
<text transform="translate(1534.60 1387.70) rotate(-45) translate(-14.46 0)" font-size="26" stroke="#000" stroke-width="0.4">0</text>
<text transform="translate(1641.00 1387.70) rotate(-45) translate(-28.92 0)" font-size="26" stroke="#000" stroke-width="0.4">45</text>
<text transform="translate(1747.40 1387.70) rotate(-45) translate(-28.92 0)" font-size="26" stroke="#000" stroke-width="0.4">90</text>
<text transform="translate(1777.80 1387.70) rotate(-45) translate(-28.92 0)" font-size="26" stroke="#000" stroke-width="0.4">96</text>
<text transform="translate(1808.20 1387.70) rotate(-45) translate(-41.45 0)" font-size="26" stroke="#000" stroke-width="0.4">112</text>
<text transform="translate(1838.60 1387.70) rotate(-45) translate(-41.45 0)" font-size="26" stroke="#000" stroke-width="0.4">118</text>
<text transform="translate(1869.00 1387.70) rotate(-45) translate(-43.38 0)" font-size="26" stroke="#000" stroke-width="0.4">124</text>
<text transform="translate(1598.40 1436.40)" font-size="25" stroke="#000" stroke-width="0.4" letter-spacing="0.822">Time (Days)</text>
<text transform="translate(1519.00 1173.40) scale(0.9739 1)" font-size="21" stroke="#000" stroke-width="0.4">Primary tumor</text>
<text transform="translate(1504.00 1199.60) scale(0.9643 1)" font-size="21" stroke="#000" stroke-width="0.4">5x10<tspan font-size="15.12" dy="-8.40">5</tspan><tspan dy="8.40"> MC38 cells</tspan></text>
<text transform="translate(1695.40 1184.60) scale(0.9696 1)" font-size="21" stroke="#000" stroke-width="0.4">Rechallenge</text>
<text transform="translate(1673.60 1210.80) scale(0.9618 1)" font-size="21" stroke="#000" stroke-width="0.4">1x10<tspan font-size="15.12" dy="-8.40">6</tspan><tspan dy="8.40"> MC38 cells</tspan></text>
<text transform="translate(1544.20 1257.20)" font-size="24" stroke="#000" stroke-width="0.4">SAM</text>
<text transform="translate(1515.20 1283.40) scale(0.9838 1)" font-size="24" stroke="#000" stroke-width="0.4"><tspan font-style="italic">i.v</tspan> injection</text>
<line x1="1507.80" y1="1209.20" x2="1507.80" y2="1335.60" stroke="#000" stroke-width="1.3" />
<polygon points="1507.80,1350.00 1500.20,1332.00 1515.40,1332.00" fill="#000" />
<line x1="1525.40" y1="1292.40" x2="1525.40" y2="1317.40" stroke="#000" stroke-width="1.3" />
<polygon points="1525.40,1331.80 1517.80,1313.80 1533.00,1313.80" fill="#000" />
<line x1="1737.60" y1="1217.80" x2="1737.60" y2="1335.60" stroke="#000" stroke-width="1.3" />
<polygon points="1737.60,1350.00 1730.00,1332.00 1745.20,1332.00" fill="#000" />
<polyline points="1508.80,1360.20 1524.00,1347.00 1539.20,1349.00 1554.40,1358.00 1569.60,1360.20 1584.80,1360.20 1600.00,1360.20 1615.20,1360.20 1630.40,1360.20 1645.60,1360.20 1660.80,1360.20 1676.00,1360.20 1691.20,1360.20 1706.40,1360.20 1721.60,1360.20 1736.80,1360.20 1752.00,1360.20 1767.20,1357.00 1782.40,1355.00 1797.60,1351.00 1812.80,1348.00 1828.00,1352.00 1843.20,1355.00 1858.40,1356.00" fill="none" stroke="#0a0acd" stroke-width="3.8" stroke-linejoin="round" />
<polygon points="1508.80,1365.95 1514.30,1356.20 1503.30,1356.20" fill="#0a0acd" />
<polygon points="1524.00,1352.75 1529.50,1343.00 1518.50,1343.00" fill="#0a0acd" />
<polygon points="1539.20,1354.75 1544.70,1345.00 1533.70,1345.00" fill="#0a0acd" />
<polygon points="1554.40,1363.75 1559.90,1354.00 1548.90,1354.00" fill="#0a0acd" />
<polygon points="1569.60,1365.95 1575.10,1356.20 1564.10,1356.20" fill="#0a0acd" />
<polygon points="1584.80,1365.95 1590.30,1356.20 1579.30,1356.20" fill="#0a0acd" />
<polygon points="1600.00,1365.95 1605.50,1356.20 1594.50,1356.20" fill="#0a0acd" />
<polygon points="1615.20,1365.95 1620.70,1356.20 1609.70,1356.20" fill="#0a0acd" />
<polygon points="1630.40,1365.95 1635.90,1356.20 1624.90,1356.20" fill="#0a0acd" />
<polygon points="1645.60,1365.95 1651.10,1356.20 1640.10,1356.20" fill="#0a0acd" />
<polygon points="1660.80,1365.95 1666.30,1356.20 1655.30,1356.20" fill="#0a0acd" />
<polygon points="1676.00,1365.95 1681.50,1356.20 1670.50,1356.20" fill="#0a0acd" />
<polygon points="1691.20,1365.95 1696.70,1356.20 1685.70,1356.20" fill="#0a0acd" />
<polygon points="1706.40,1365.95 1711.90,1356.20 1700.90,1356.20" fill="#0a0acd" />
<polygon points="1721.60,1365.95 1727.10,1356.20 1716.10,1356.20" fill="#0a0acd" />
<polygon points="1736.80,1365.95 1742.30,1356.20 1731.30,1356.20" fill="#0a0acd" />
<polygon points="1752.00,1365.95 1757.50,1356.20 1746.50,1356.20" fill="#0a0acd" />
<polygon points="1767.20,1362.75 1772.70,1353.00 1761.70,1353.00" fill="#0a0acd" />
<polygon points="1782.40,1360.75 1787.90,1351.00 1776.90,1351.00" fill="#0a0acd" />
<polygon points="1797.60,1356.75 1803.10,1347.00 1792.10,1347.00" fill="#0a0acd" />
<polygon points="1812.80,1353.75 1818.30,1344.00 1807.30,1344.00" fill="#0a0acd" />
<polygon points="1828.00,1357.75 1833.50,1348.00 1822.50,1348.00" fill="#0a0acd" />
<polygon points="1843.20,1360.75 1848.70,1351.00 1837.70,1351.00" fill="#0a0acd" />
<polygon points="1858.40,1361.75 1863.90,1352.00 1852.90,1352.00" fill="#0a0acd" />
<line x1="1858.40" y1="1302.00" x2="1858.40" y2="1287.00" stroke="#c3c300" stroke-width="2.8" />
<line x1="1852.40" y1="1287.00" x2="1864.40" y2="1287.00" stroke="#c3c300" stroke-width="2.8" />
<line x1="1858.40" y1="1302.00" x2="1858.40" y2="1313.20" stroke="#c3c300" stroke-width="2.8" />
<line x1="1852.40" y1="1313.20" x2="1864.40" y2="1313.20" stroke="#c3c300" stroke-width="2.8" />
<line x1="1843.20" y1="1331.80" x2="1843.20" y2="1324.40" stroke="#c3c300" stroke-width="2.8" />
<line x1="1837.20" y1="1324.40" x2="1849.20" y2="1324.40" stroke="#c3c300" stroke-width="2.8" />
<line x1="1828.00" y1="1334.00" x2="1828.00" y2="1328.60" stroke="#c3c300" stroke-width="2.8" />
<line x1="1822.00" y1="1328.60" x2="1834.00" y2="1328.60" stroke="#c3c300" stroke-width="2.8" />
<line x1="1812.80" y1="1335.60" x2="1812.80" y2="1330.00" stroke="#c3c300" stroke-width="2.8" />
<line x1="1806.80" y1="1330.00" x2="1818.80" y2="1330.00" stroke="#c3c300" stroke-width="2.8" />
<polyline points="1508.80,1360.20 1524.00,1342.00 1539.20,1344.60 1554.40,1356.40 1569.60,1360.20 1584.80,1360.20 1600.00,1360.20 1615.20,1360.20 1630.40,1360.20 1645.60,1360.20 1660.80,1360.20 1676.00,1360.20 1691.20,1360.20 1706.40,1360.20 1721.60,1360.20 1736.80,1360.20 1752.00,1360.20 1767.20,1358.00 1782.40,1354.80 1797.60,1348.40 1812.80,1335.60 1828.00,1334.00 1843.20,1331.80 1858.40,1302.00" fill="none" stroke="#c3c300" stroke-width="3.8" stroke-linejoin="round" />
<polygon points="1508.80,1353.76 1514.96,1364.68 1502.64,1364.68" fill="#c3c300" />
<polygon points="1524.00,1335.56 1530.16,1346.48 1517.84,1346.48" fill="#c3c300" />
<polygon points="1539.20,1338.16 1545.36,1349.08 1533.04,1349.08" fill="#c3c300" />
<polygon points="1554.40,1349.96 1560.56,1360.88 1548.24,1360.88" fill="#c3c300" />
<polygon points="1569.60,1353.76 1575.76,1364.68 1563.44,1364.68" fill="#c3c300" />
<polygon points="1584.80,1353.76 1590.96,1364.68 1578.64,1364.68" fill="#c3c300" />
<polygon points="1600.00,1353.76 1606.16,1364.68 1593.84,1364.68" fill="#c3c300" />
<polygon points="1615.20,1353.76 1621.36,1364.68 1609.04,1364.68" fill="#c3c300" />
<polygon points="1630.40,1353.76 1636.56,1364.68 1624.24,1364.68" fill="#c3c300" />
<polygon points="1645.60,1353.76 1651.76,1364.68 1639.44,1364.68" fill="#c3c300" />
<polygon points="1660.80,1353.76 1666.96,1364.68 1654.64,1364.68" fill="#c3c300" />
<polygon points="1676.00,1353.76 1682.16,1364.68 1669.84,1364.68" fill="#c3c300" />
<polygon points="1691.20,1353.76 1697.36,1364.68 1685.04,1364.68" fill="#c3c300" />
<polygon points="1706.40,1353.76 1712.56,1364.68 1700.24,1364.68" fill="#c3c300" />
<polygon points="1721.60,1353.76 1727.76,1364.68 1715.44,1364.68" fill="#c3c300" />
<polygon points="1736.80,1353.76 1742.96,1364.68 1730.64,1364.68" fill="#c3c300" />
<polygon points="1752.00,1353.76 1758.16,1364.68 1745.84,1364.68" fill="#c3c300" />
<polygon points="1767.20,1351.56 1773.36,1362.48 1761.04,1362.48" fill="#c3c300" />
<polygon points="1782.40,1348.36 1788.56,1359.28 1776.24,1359.28" fill="#c3c300" />
<polygon points="1797.60,1341.96 1803.76,1352.88 1791.44,1352.88" fill="#c3c300" />
<polygon points="1812.80,1329.16 1818.96,1340.08 1806.64,1340.08" fill="#c3c300" />
<polygon points="1828.00,1327.56 1834.16,1338.48 1821.84,1338.48" fill="#c3c300" />
<polygon points="1843.20,1325.36 1849.36,1336.28 1837.04,1336.28" fill="#c3c300" />
<polygon points="1858.40,1295.56 1864.56,1306.48 1852.24,1306.48" fill="#c3c300" />
<polyline points="1508.80,1360.20 1524.00,1346.20 1539.20,1349.00 1554.40,1358.00 1569.60,1360.20 1584.80,1360.20 1600.00,1360.20 1615.20,1360.20 1630.40,1360.20 1645.60,1360.20 1660.80,1360.20 1676.00,1360.20 1691.20,1360.20 1706.40,1360.20 1721.60,1360.20 1736.80,1360.20 1752.00,1360.20 1767.20,1357.00 1782.40,1354.80 1797.60,1351.60 1812.80,1351.60 1828.00,1354.20 1843.20,1354.80 1858.40,1355.80" fill="none" stroke="#0a8a0a" stroke-width="3.8" stroke-linejoin="round" />
<rect x="1504.50" y="1355.90" width="8.60" height="8.60" fill="#0a8a0a" />
<rect x="1519.70" y="1341.90" width="8.60" height="8.60" fill="#0a8a0a" />
<rect x="1534.90" y="1344.70" width="8.60" height="8.60" fill="#0a8a0a" />
<rect x="1550.10" y="1353.70" width="8.60" height="8.60" fill="#0a8a0a" />
<rect x="1565.30" y="1355.90" width="8.60" height="8.60" fill="#0a8a0a" />
<rect x="1580.50" y="1355.90" width="8.60" height="8.60" fill="#0a8a0a" />
<rect x="1595.70" y="1355.90" width="8.60" height="8.60" fill="#0a8a0a" />
<rect x="1610.90" y="1355.90" width="8.60" height="8.60" fill="#0a8a0a" />
<rect x="1626.10" y="1355.90" width="8.60" height="8.60" fill="#0a8a0a" />
<rect x="1641.30" y="1355.90" width="8.60" height="8.60" fill="#0a8a0a" />
<rect x="1656.50" y="1355.90" width="8.60" height="8.60" fill="#0a8a0a" />
<rect x="1671.70" y="1355.90" width="8.60" height="8.60" fill="#0a8a0a" />
<rect x="1686.90" y="1355.90" width="8.60" height="8.60" fill="#0a8a0a" />
<rect x="1702.10" y="1355.90" width="8.60" height="8.60" fill="#0a8a0a" />
<rect x="1717.30" y="1355.90" width="8.60" height="8.60" fill="#0a8a0a" />
<rect x="1732.50" y="1355.90" width="8.60" height="8.60" fill="#0a8a0a" />
<rect x="1747.70" y="1355.90" width="8.60" height="8.60" fill="#0a8a0a" />
<rect x="1762.90" y="1352.70" width="8.60" height="8.60" fill="#0a8a0a" />
<rect x="1778.10" y="1350.50" width="8.60" height="8.60" fill="#0a8a0a" />
<rect x="1793.30" y="1347.30" width="8.60" height="8.60" fill="#0a8a0a" />
<rect x="1808.50" y="1347.30" width="8.60" height="8.60" fill="#0a8a0a" />
<rect x="1823.70" y="1349.90" width="8.60" height="8.60" fill="#0a8a0a" />
<rect x="1838.90" y="1350.50" width="8.60" height="8.60" fill="#0a8a0a" />
<rect x="1854.10" y="1351.50" width="8.60" height="8.60" fill="#0a8a0a" />
<line x1="1843.20" y1="1210.80" x2="1843.20" y2="1186.80" stroke="#000" stroke-width="2.8" />
<line x1="1837.20" y1="1186.80" x2="1849.20" y2="1186.80" stroke="#000" stroke-width="2.8" />
<line x1="1828.00" y1="1280.60" x2="1828.00" y2="1265.80" stroke="#000" stroke-width="2.8" />
<line x1="1822.00" y1="1265.80" x2="1834.00" y2="1265.80" stroke="#000" stroke-width="2.8" />
<line x1="1812.80" y1="1321.80" x2="1812.80" y2="1318.00" stroke="#000" stroke-width="2.8" />
<line x1="1806.80" y1="1318.00" x2="1818.80" y2="1318.00" stroke="#000" stroke-width="2.8" />
<polyline points="1508.80,1360.20 1524.00,1360.20 1539.20,1360.20 1554.40,1360.20 1569.60,1360.20 1584.80,1360.20 1600.00,1360.20 1615.20,1360.20 1630.40,1360.20 1645.60,1360.20 1660.80,1360.20 1676.00,1360.20 1691.20,1360.20 1706.40,1360.20 1721.60,1360.20 1736.80,1360.20 1752.00,1360.20 1767.20,1358.00 1782.40,1350.00 1797.60,1341.40 1812.80,1321.80 1828.00,1280.60 1843.20,1210.80" fill="none" stroke="#000" stroke-width="3.8" stroke-linejoin="round" />
<circle cx="1508.80" cy="1360.20" r="5.0" fill="#000" />
<circle cx="1524.00" cy="1360.20" r="5.0" fill="#000" />
<circle cx="1539.20" cy="1360.20" r="5.0" fill="#000" />
<circle cx="1554.40" cy="1360.20" r="5.0" fill="#000" />
<circle cx="1569.60" cy="1360.20" r="5.0" fill="#000" />
<circle cx="1584.80" cy="1360.20" r="5.0" fill="#000" />
<circle cx="1600.00" cy="1360.20" r="5.0" fill="#000" />
<circle cx="1615.20" cy="1360.20" r="5.0" fill="#000" />
<circle cx="1630.40" cy="1360.20" r="5.0" fill="#000" />
<circle cx="1645.60" cy="1360.20" r="5.0" fill="#000" />
<circle cx="1660.80" cy="1360.20" r="5.0" fill="#000" />
<circle cx="1676.00" cy="1360.20" r="5.0" fill="#000" />
<circle cx="1691.20" cy="1360.20" r="5.0" fill="#000" />
<circle cx="1706.40" cy="1360.20" r="5.0" fill="#000" />
<circle cx="1721.60" cy="1360.20" r="5.0" fill="#000" />
<circle cx="1736.80" cy="1360.20" r="5.0" fill="#000" />
<circle cx="1752.00" cy="1360.20" r="5.0" fill="#000" />
<circle cx="1767.20" cy="1358.00" r="5.0" fill="#000" />
<circle cx="1782.40" cy="1350.00" r="5.0" fill="#000" />
<circle cx="1797.60" cy="1341.40" r="5.0" fill="#000" />
<circle cx="1812.80" cy="1321.80" r="5.0" fill="#000" />
<circle cx="1828.00" cy="1280.60" r="5.0" fill="#000" />
<circle cx="1843.20" cy="1210.80" r="5.0" fill="#000" />
<text transform="translate(1886.87 1348.98)" font-size="33" fill="#000" stroke="#000" stroke-width="0.5">****</text>
<text transform="translate(1886.87 1365.58)" font-size="33" fill="#c3c300" stroke="#c3c300" stroke-width="0.5">***</text>
<text transform="translate(1886.50 1377.20) scale(0.9600 1)" font-size="25.5" fill="#0a8a0a" stroke="#0a8a0a" stroke-width="0.4">ns</text>
</g>
</svg>
</body></html>
